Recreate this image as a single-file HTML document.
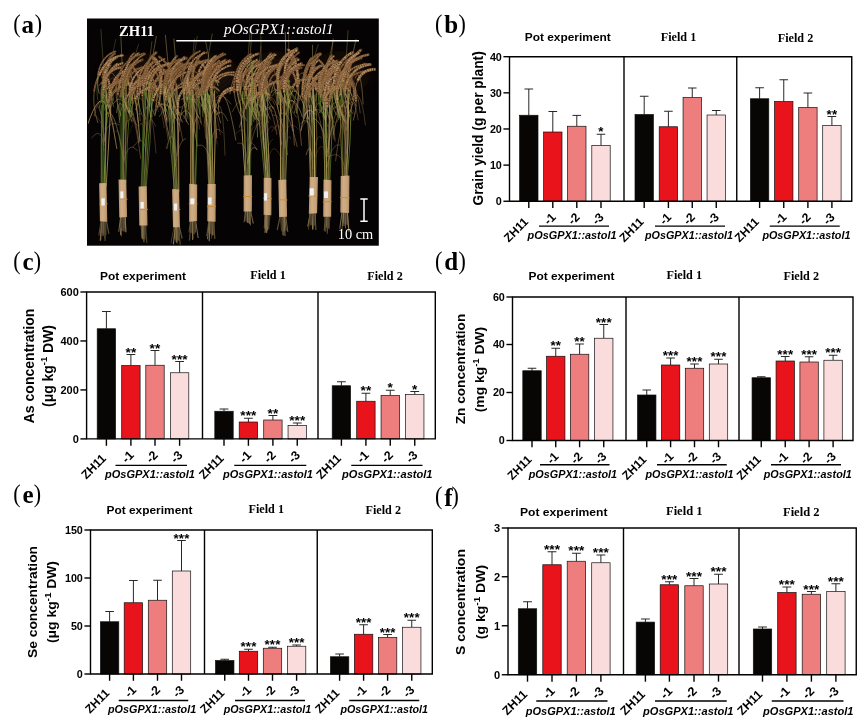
<!DOCTYPE html>
<html><head><meta charset="utf-8"><title>Figure</title>
<style>html,body{margin:0;padding:0;background:#fff}body{width:864px;height:727px;overflow:hidden;font-family:"Liberation Sans",sans-serif}svg{display:block;will-change:transform}</style>
</head><body>
<svg width="864" height="727" viewBox="0 0 864 727">
<rect width="864" height="727" fill="#fff"/>
<g id="photo"><rect x="87.0" y="18.5" width="291.8" height="227.2" fill="#050303"/>
<defs><filter id="sb" x="0" y="0" width="100%" height="100%" filterUnits="objectBoundingBox"><feGaussianBlur stdDeviation=".45"/></filter><filter id="hz" x="-30%" y="-30%" width="160%" height="160%"><feGaussianBlur stdDeviation="7"/></filter><linearGradient id="wg" x1="0" x2="1" y1="0" y2="0"><stop offset="0" stop-color="#b6936b"/><stop offset=".35" stop-color="#d0ad84"/><stop offset=".75" stop-color="#c7a379"/><stop offset="1" stop-color="#a9875f"/></linearGradient></defs>
<clipPath id="pc"><rect x="87.0" y="18.5" width="291.8" height="227.2"/></clipPath>
<g clip-path="url(#pc)"><g fill="none" stroke-linecap="round" filter="url(#sb)">
<ellipse cx="140" cy="76" rx="34" ry="20" fill="#3a2612" opacity=".4" filter="url(#hz)"/>
<ellipse cx="205" cy="76" rx="34" ry="20" fill="#3a2612" opacity=".4" filter="url(#hz)"/>
<ellipse cx="275" cy="74" rx="30" ry="20" fill="#3a2612" opacity=".4" filter="url(#hz)"/>
<ellipse cx="340" cy="74" rx="28" ry="20" fill="#3a2612" opacity=".4" filter="url(#hz)"/>
<path d="M104.3 129.4Q100.4 106.5 97.8 101.2" stroke="#b99064" stroke-width="0.5" opacity="0.5"/>
<path d="M104.2 135.1Q102.1 118.7 94 114.6" stroke="#a67a50" stroke-width="0.6" opacity="0.5"/>
<path d="M104.1 145.1Q102.4 109.6 97.6 106" stroke="#c9b070" stroke-width="0.6" opacity="0.6"/>
<path d="M104 150.9Q102.7 124 91.6 138" stroke="#b59a5a" stroke-width="0.6" opacity="0.6"/>
<path d="M104.1 141.9Q106 117.4 119.4 125" stroke="#b48a62" stroke-width="0.5" opacity="0.7"/>
<path d="M104.1 141.5Q107.2 111.4 113 101.7" stroke="#b48a62" stroke-width="0.5" opacity="0.8"/>
<path d="M101 186.3Q101.6 145.7 101.8 105.1" stroke="#9a8446" stroke-width="0.8" opacity="0.7"/>
<path d="M101.7 186.3Q100.4 145.8 102.2 105.3" stroke="#628a2a" stroke-width="1" opacity="0.6"/>
<path d="M102.5 186.3Q103.9 134.2 102.7 82.2" stroke="#47721f" stroke-width="1.1" opacity="0.7"/>
<path d="M103.2 186.3Q103.1 139 103.1 91.7" stroke="#86993e" stroke-width="0.7" opacity="0.6"/>
<path d="M104 186.3Q105.2 145.6 106.7 105" stroke="#729434" stroke-width="1.1" opacity="0.9"/>
<path d="M104.7 186.3Q106.9 142.2 106 98" stroke="#c9b070" stroke-width="0.6" opacity="0.6"/>
<path d="M105.5 186.3Q104.8 136.3 106.7 86.2" stroke="#729434" stroke-width="0.9" opacity="0.7"/>
<path d="M106.2 186.3Q109 138 111.7 89.7" stroke="#b59a5a" stroke-width="0.9" opacity="0.9"/>
<path d="M108.2 107Q107.6 73.1 115.8 39.2" stroke="#a89058" stroke-width="0.4" opacity=".7"/>
<path d="M105.7 107Q103.9 68.2 100.9 29.3" stroke="#c9b070" stroke-width="0.4" opacity=".7"/>
<path d="M107.8 74.6Q111.9 68.3 117.5 80.9" stroke="#a89058" stroke-width="0.8" opacity="0.6"/>
<path d="M101.9 85.6Q108.2 79.1 115.1 139.5" stroke="#855a36" stroke-width="0.7" opacity="0.5"/>
<path d="M99.3 85.4Q105.7 71.4 112.9 100.7" stroke="#b99064" stroke-width="0.7" opacity="0.7"/>
<path d="M113.1 104.1Q123 87.9 132 122.2" stroke="#9c6e44" stroke-width="1" opacity="0.6"/>
<path d="M101.4 94.4Q106.7 86.5 116.8 148.6" stroke="#a89058" stroke-width="0.9" opacity="0.8"/>
<path d="M110.2 80.2Q116.6 65.7 128.5 124.7" stroke="#855a36" stroke-width="0.6" opacity="0.7"/>
<path d="M113.9 90.1Q123.8 72.7 129.4 106.1" stroke="#a89058" stroke-width="0.7" opacity="0.6"/>
<path d="M105.8 114.3Q114.7 103.1 123.2 159.3" stroke="#c9b070" stroke-width="0.9" opacity="0.5"/>
<path d="M104.2 102Q97.9 94.7 88 123.6" stroke="#b48a62" stroke-width="1" opacity="0.8"/>
<path d="M105.5 103.5Q97.4 96.2 94.1 116" stroke="#855a36" stroke-width="0.9" opacity="0.6"/>
<path d="M103.3 108.6C102.7 105.3 102.4 101.9 102.4 98.6" stroke="#557f26" stroke-width=".6" opacity=".85"/>
<path d="M102.4 98.6C102.4 90.3 104 82.7 106.7 78.7" stroke="#6e4e2c" stroke-width="2.5" opacity=".7" stroke-linecap="round" stroke-dasharray="4.7 1.1 4.5 0.4"/>
<path d="M102.4 98.6C102.4 90.3 104 82.7 106.7 78.7" stroke="#946a46" stroke-width="1.9" stroke-dasharray="1 0.8 2.2 0.5 1.1 1.3" opacity=".95" stroke-linecap="butt"/>
<path d="M102.4 98.6C102.4 90.3 104 82.7 106.7 78.7" stroke="#c4a27c" stroke-width="0.8" stroke-dasharray="1.3 1.2" opacity=".6" stroke-linecap="butt" transform="translate(-0.1 -0.2)"/>
<path d="M106.1 108C107.6 104.5 108.7 101 109.3 97.5" stroke="#a89058" stroke-width=".6" opacity=".85"/>
<path d="M109.3 97.5C110.8 88.7 109.5 80.5 105.6 75.9" stroke="#5e4226" stroke-width="2.7" opacity=".7" stroke-linecap="round" stroke-dasharray="6.1 0.4 2.4 0.7"/>
<path d="M109.3 97.5C110.8 88.7 109.5 80.5 105.6 75.9" stroke="#ad8256" stroke-width="2" stroke-dasharray="1.4 0.7 1.8 0.6 1.3 0.6" opacity=".95" stroke-linecap="butt"/>
<path d="M109.3 97.5C110.8 88.7 109.5 80.5 105.6 75.9" stroke="#c4a27c" stroke-width="0.8" stroke-dasharray="0.8 1.1" opacity=".6" stroke-linecap="butt" transform="translate(0.4 -0.2)"/>
<path d="M105 110.6C103.2 105.3 102.3 99.9 102.2 94.8" stroke="#557f26" stroke-width=".6" opacity=".85"/>
<path d="M102.2 94.8C102.1 85.4 104.7 77.2 109.5 72.8" stroke="#66482a" stroke-width="2.1" opacity=".7" stroke-linecap="round" stroke-dasharray="5 0.5 3.6 0.9"/>
<path d="M102.2 94.8C102.1 85.4 104.7 77.2 109.5 72.8" stroke="#946a46" stroke-width="1.5" stroke-dasharray="1.7 1.1 1.3 0.6 1 0.9" opacity=".95" stroke-linecap="butt"/>
<path d="M102.2 94.8C102.1 85.4 104.7 77.2 109.5 72.8" stroke="#bc9872" stroke-width="0.6" stroke-dasharray="0.7 1" opacity=".6" stroke-linecap="butt" transform="translate(-0.6 -0.1)"/>
<path d="M110.2 112.1C107.3 103.6 105.8 94.9 105.6 86.7" stroke="#a89058" stroke-width=".6" opacity=".85"/>
<path d="M105.6 86.7C105.4 74.7 108 64.1 113 57.9" stroke="#5e4226" stroke-width="2" opacity=".7" stroke-linecap="round" stroke-dasharray="4.6 0.7 5 0.9"/>
<path d="M105.6 86.7C105.4 74.7 108 64.1 113 57.9" stroke="#855a36" stroke-width="1.5" stroke-dasharray="1.5 1.2 1.6 0.6 0.9 0.6" opacity=".95" stroke-linecap="butt"/>
<path d="M105.6 86.7C105.4 74.7 108 64.1 113 57.9" stroke="#bc9872" stroke-width="0.6" stroke-dasharray="0.6 1.4" opacity=".6" stroke-linecap="butt" transform="translate(-0.1 -0.8)"/>
<path d="M97.8 122.5C94.1 111.4 93 100.6 94.3 91" stroke="#b59a5a" stroke-width=".6" opacity=".85"/>
<path d="M94.3 91C96.1 77.5 102.5 66.7 112.2 61.4" stroke="#785632" stroke-width="1.8" opacity=".7" stroke-linecap="round" stroke-dasharray="3.2 1 2.8 0.4"/>
<path d="M94.3 91C96.1 77.5 102.5 66.7 112.2 61.4" stroke="#7a5230" stroke-width="1.4" stroke-dasharray="1.6 0.9 2.5 0.5 1.1 1" opacity=".95" stroke-linecap="butt"/>
<path d="M94.3 91C96.1 77.5 102.5 66.7 112.2 61.4" stroke="#b48e68" stroke-width="0.5" stroke-dasharray="1.2 0.9" opacity=".6" stroke-linecap="butt" transform="translate(-0.6 -0)"/>
<path d="M108.7 116.7C105.5 108.7 103.8 100.5 103.4 92.9" stroke="#b59a5a" stroke-width=".6" opacity=".85"/>
<path d="M103.4 92.9C102.9 81.4 105.3 71.2 110.4 65.2" stroke="#5e4226" stroke-width="2" opacity=".7" stroke-linecap="round" stroke-dasharray="4.8 0.6 3.7 0.9"/>
<path d="M103.4 92.9C102.9 81.4 105.3 71.2 110.4 65.2" stroke="#946a46" stroke-width="1.5" stroke-dasharray="1.4 0.4 2.1 0.9 1.5 0.7" opacity=".95" stroke-linecap="butt"/>
<path d="M103.4 92.9C102.9 81.4 105.3 71.2 110.4 65.2" stroke="#caa884" stroke-width="0.6" stroke-dasharray="0.8 1.1" opacity=".6" stroke-linecap="butt" transform="translate(-0.3 0)"/>
<path d="M103.2 91.6C102.3 86.9 102.2 82.2 102.5 77.8" stroke="#557f26" stroke-width=".6" opacity=".85"/>
<path d="M102.5 77.8C103.5 66.7 108.1 57.4 114.9 53.6" stroke="#6e4e2c" stroke-width="2.4" opacity=".7" stroke-linecap="round" stroke-dasharray="5.1 0.5 3.3 0.8"/>
<path d="M102.5 77.8C103.5 66.7 108.1 57.4 114.9 53.6" stroke="#7a5230" stroke-width="1.8" stroke-dasharray="1.5 0.8 2.4 0.9 0.9 0.7" opacity=".95" stroke-linecap="butt"/>
<path d="M102.5 77.8C103.5 66.7 108.1 57.4 114.9 53.6" stroke="#caa884" stroke-width="0.7" stroke-dasharray="0.9 1.6" opacity=".6" stroke-linecap="butt" transform="translate(0.3 -0.1)"/>
<path d="M99.1 93.3C97.5 86.8 97.2 80.7 98 75.2" stroke="#c9b070" stroke-width=".6" opacity=".85"/>
<path d="M98 75.2C99.6 63.2 106.1 54.2 115.7 51.3" stroke="#66482a" stroke-width="1.8" opacity=".7" stroke-linecap="round" stroke-dasharray="6.5 0.9 2.8 0.5"/>
<path d="M98 75.2C99.6 63.2 106.1 54.2 115.7 51.3" stroke="#946a46" stroke-width="1.3" stroke-dasharray="0.8 0.5 1.4 0.3 0.9 0.8" opacity=".95" stroke-linecap="butt"/>
<path d="M98 75.2C99.6 63.2 106.1 54.2 115.7 51.3" stroke="#bc9872" stroke-width="0.5" stroke-dasharray="0.8 1.8" opacity=".6" stroke-linecap="butt" transform="translate(-0.3 -0.4)"/>
<path d="M106.2 97.4C104.5 92.4 103.7 87.5 103.7 82.9" stroke="#9a8446" stroke-width=".6" opacity=".85"/>
<path d="M103.7 82.9C103.7 71 108.6 61.2 116.9 57.3" stroke="#6e4e2c" stroke-width="2.8" opacity=".7" stroke-linecap="round" stroke-dasharray="4.6 0.3 2.1 0.5"/>
<path d="M103.7 82.9C103.7 71 108.6 61.2 116.9 57.3" stroke="#b99064" stroke-width="2.1" stroke-dasharray="0.9 1.2 2.4 0.4 1.4 1.2" opacity=".95" stroke-linecap="butt"/>
<path d="M103.7 82.9C103.7 71 108.6 61.2 116.9 57.3" stroke="#b48e68" stroke-width="0.8" stroke-dasharray="1.2 1.5" opacity=".6" stroke-linecap="butt" transform="translate(-0 -0.5)"/>
<path d="M110.2 107.4C107 100.4 105.6 93.4 105.7 87" stroke="#c0a868" stroke-width=".6" opacity=".85"/>
<path d="M105.7 87C105.8 76.6 110.1 67.9 117.7 63.5" stroke="#5e4226" stroke-width="1.9" opacity=".7" stroke-linecap="round" stroke-dasharray="6.3 0.8 4.7 0.8"/>
<path d="M105.7 87C105.8 76.6 110.1 67.9 117.7 63.5" stroke="#b99064" stroke-width="1.4" stroke-dasharray="0.9 0.4 2 0.9 0.9 0.9" opacity=".95" stroke-linecap="butt"/>
<path d="M105.7 87C105.8 76.6 110.1 67.9 117.7 63.5" stroke="#c4a27c" stroke-width="0.6" stroke-dasharray="1.1 1.4" opacity=".6" stroke-linecap="butt" transform="translate(0.3 -0.3)"/>
<path d="M106.2 108.1C104.2 101.8 103.5 95.7 103.8 90.2" stroke="#557f26" stroke-width=".6" opacity=".85"/>
<path d="M103.8 90.2C104.6 76.6 111.7 66.2 122.8 63" stroke="#5e4226" stroke-width="2.3" opacity=".7" stroke-linecap="round" stroke-dasharray="6.4 0.5 4.3 0.5"/>
<path d="M103.8 90.2C104.6 76.6 111.7 66.2 122.8 63" stroke="#b48a62" stroke-width="1.7" stroke-dasharray="1.3 0.7 1.8 0.7 1.3 1.1" opacity=".95" stroke-linecap="butt"/>
<path d="M103.8 90.2C104.6 76.6 111.7 66.2 122.8 63" stroke="#caa884" stroke-width="0.7" stroke-dasharray="0.7 0.9" opacity=".6" stroke-linecap="butt" transform="translate(-0.3 0)"/>
<path d="M97.8 99.6C96.3 90.4 97 82 99.4 75.1" stroke="#557f26" stroke-width=".6" opacity=".85"/>
<path d="M99.4 75.1C103.3 63.7 111.9 56.3 123 55.3" stroke="#785632" stroke-width="2.3" opacity=".7" stroke-linecap="round" stroke-dasharray="4.9 0.7 2.4 0.9"/>
<path d="M99.4 75.1C103.3 63.7 111.9 56.3 123 55.3" stroke="#b99064" stroke-width="1.8" stroke-dasharray="1.1 0.5 1.8 0.5 0.7 1" opacity=".95" stroke-linecap="butt"/>
<path d="M99.4 75.1C103.3 63.7 111.9 56.3 123 55.3" stroke="#b48e68" stroke-width="0.7" stroke-dasharray="1.4 1.2" opacity=".6" stroke-linecap="butt" transform="translate(0.6 0.2)"/>
<path d="M101.6 102.5C100.3 95.5 100.7 89.1 102.4 83.7" stroke="#9a8446" stroke-width=".6" opacity=".85"/>
<path d="M102.4 83.7C105.3 74.6 111.9 68.5 120.6 67.5" stroke="#785632" stroke-width="2.9" opacity=".7" stroke-linecap="round" stroke-dasharray="3.9 1.1 3.5 0.3"/>
<path d="M102.4 83.7C105.3 74.6 111.9 68.5 120.6 67.5" stroke="#9c6e44" stroke-width="2.1" stroke-dasharray="1.7 0.9 1.6 0.7 1 0.8" opacity=".95" stroke-linecap="butt"/>
<path d="M102.4 83.7C105.3 74.6 111.9 68.5 120.6 67.5" stroke="#c4a27c" stroke-width="0.9" stroke-dasharray="1.3 0.8" opacity=".6" stroke-linecap="butt" transform="translate(0.4 0.1)"/>
<path d="M113.7 100.3C112.6 95.1 112.6 90.3 113.5 86.1" stroke="#729434" stroke-width=".6" opacity=".85"/>
<path d="M113.5 86.1C115.3 77.7 120.5 71.7 127.8 70.2" stroke="#785632" stroke-width="2.5" opacity=".7" stroke-linecap="round" stroke-dasharray="6.7 1 4.6 0.5"/>
<path d="M113.5 86.1C115.3 77.7 120.5 71.7 127.8 70.2" stroke="#9c6e44" stroke-width="1.8" stroke-dasharray="1.6 0.6 2.5 0.4 0.8 1" opacity=".95" stroke-linecap="butt"/>
<path d="M113.5 86.1C115.3 77.7 120.5 71.7 127.8 70.2" stroke="#caa884" stroke-width="0.7" stroke-dasharray="1.2 1.6" opacity=".6" stroke-linecap="butt" transform="translate(-0.1 -0.8)"/>
<path d="M107.1 97.5C108 92.5 109.9 88.3 112.4 85.1" stroke="#a89058" stroke-width=".6" opacity=".85"/>
<path d="M112.4 85.1C116.1 80.5 121 78.1 126 78.7" stroke="#6e4e2c" stroke-width="2.3" opacity=".7" stroke-linecap="round" stroke-dasharray="5.6 0.6 2.1 0.9"/>
<path d="M112.4 85.1C116.1 80.5 121 78.1 126 78.7" stroke="#855a36" stroke-width="1.7" stroke-dasharray="1 0.7 1.5 0.5 1.3 1.1" opacity=".95" stroke-linecap="butt"/>
<path d="M112.4 85.1C116.1 80.5 121 78.1 126 78.7" stroke="#b48e68" stroke-width="0.7" stroke-dasharray="1.1 1.1" opacity=".6" stroke-linecap="butt" transform="translate(0.1 -0.4)"/>
<path d="M113.8 106.9C111.3 100.1 110.7 93.6 111.6 88" stroke="#729434" stroke-width=".6" opacity=".85"/>
<path d="M111.6 88C113 79.8 117.7 73.5 124.8 71.1" stroke="#6e4e2c" stroke-width="2.3" opacity=".7" stroke-linecap="round" stroke-dasharray="5.2 0.5 2.5 0.7"/>
<path d="M111.6 88C113 79.8 117.7 73.5 124.8 71.1" stroke="#a67a50" stroke-width="1.7" stroke-dasharray="1 0.6 1.9 0.8 1.3 0.9" opacity=".95" stroke-linecap="butt"/>
<path d="M111.6 88C113 79.8 117.7 73.5 124.8 71.1" stroke="#b48e68" stroke-width="0.7" stroke-dasharray="1.2 1" opacity=".6" stroke-linecap="butt" transform="translate(-0.3 0)"/>
<path d="M109.6 107.9C108.4 100.8 109 94.6 111.1 89.9" stroke="#b59a5a" stroke-width=".6" opacity=".85"/>
<path d="M111.1 89.9C114.3 82.7 120.8 78.8 129.1 79.5" stroke="#6e4e2c" stroke-width="2.1" opacity=".7" stroke-linecap="round" stroke-dasharray="4.5 0.9 3.3 0.5"/>
<path d="M111.1 89.9C114.3 82.7 120.8 78.8 129.1 79.5" stroke="#9c6e44" stroke-width="1.5" stroke-dasharray="0.9 0.7 2.2 0.8 1.5 0.9" opacity=".95" stroke-linecap="butt"/>
<path d="M111.1 89.9C114.3 82.7 120.8 78.8 129.1 79.5" stroke="#c4a27c" stroke-width="0.6" stroke-dasharray="0.9 1.7" opacity=".6" stroke-linecap="butt" transform="translate(0.5 0.1)"/>
<path d="M99.5 107.7C100.4 99.6 103 93.2 106.8 88.9" stroke="#557f26" stroke-width=".6" opacity=".85"/>
<path d="M106.8 88.9C112.2 82.7 120 80.8 128.3 84" stroke="#66482a" stroke-width="2.6" opacity=".7" stroke-linecap="round" stroke-dasharray="3.3 1 2 0.4"/>
<path d="M106.8 88.9C112.2 82.7 120 80.8 128.3 84" stroke="#9c6e44" stroke-width="2" stroke-dasharray="1.4 0.6 1.2 0.5 1.2 1.1" opacity=".95" stroke-linecap="butt"/>
<path d="M106.8 88.9C112.2 82.7 120 80.8 128.3 84" stroke="#c4a27c" stroke-width="0.8" stroke-dasharray="0.7 1.1" opacity=".6" stroke-linecap="butt" transform="translate(0.6 -0.6)"/>
<path d="M106.8 122.9C105.9 115.4 106.4 108.7 108.2 103" stroke="#729434" stroke-width=".6" opacity=".85"/>
<path d="M108.2 103C111.8 91.2 120.8 84 132.4 84.1" stroke="#66482a" stroke-width="2.8" opacity=".7" stroke-linecap="round" stroke-dasharray="5.1 0.8 2.1 0.6"/>
<path d="M108.2 103C111.8 91.2 120.8 84 132.4 84.1" stroke="#946a46" stroke-width="2.1" stroke-dasharray="0.9 0.6 2.4 0.7 0.7 0.7" opacity=".95" stroke-linecap="butt"/>
<path d="M108.2 103C111.8 91.2 120.8 84 132.4 84.1" stroke="#b48e68" stroke-width="0.9" stroke-dasharray="1.3 1" opacity=".6" stroke-linecap="butt" transform="translate(-0.7 -0.4)"/>
<path d="M100.7 220.7L106.5 220.7L106.5 235.4L101.7 233Z" fill="#4d402b" opacity=".9"/>
<path d="M104.9 220.7L105.1 240.4" stroke="#4f4430" stroke-width="1.3"/>
<path d="M101.9 220.7L100.6 239.7" stroke="#6b5a3c" stroke-width="1.4"/>
<path d="M103.6 220.7L103 235.5" stroke="#6b5a3c" stroke-width="1.4"/>
<path d="M101.6 220.7L100.2 240.5" stroke="#7d6a45" stroke-width="1"/>
<path d="M104.8 220.7L104.9 238.1" stroke="#4f4430" stroke-width="1.2"/>
<path d="M106.4 220.7L108.8 233.4" stroke="#5a4c34" stroke-width="1.2"/>
<path d="M101 220.7L98.9 235.1" stroke="#4f4430" stroke-width="1.1"/>
<path d="M99.1 183.3L106.5 182.9L107.3 221.7L99.9 221.3Z" fill="url(#wg)" stroke="none"/>
<path d="M99.9 204.4L107.3 203.8" stroke="#c98a2e" stroke-width=".9"/>
<rect x="101.3" y="198.3" width="3.5" height="7.2" fill="#eef0f2" stroke="none"/>
<path d="M124.4 128.5Q127.6 112.2 137.4 125.5" stroke="#9c6e44" stroke-width="0.5" opacity="0.8"/>
<path d="M124.8 111.8Q128.1 92.1 137 99.9" stroke="#b48a62" stroke-width="0.8" opacity="0.5"/>
<path d="M123.8 154.8Q128.5 132.6 133.1 123.8" stroke="#7a5230" stroke-width="0.5" opacity="0.5"/>
<path d="M124.8 110.2Q119.1 95.3 116.5 112.6" stroke="#ad8256" stroke-width="0.7" opacity="0.8"/>
<path d="M123.7 158.9Q118.6 124.4 115.9 131.5" stroke="#b48a62" stroke-width="0.5" opacity="0.5"/>
<path d="M123.6 161.7Q128.4 139.5 137.4 150.8" stroke="#a89058" stroke-width="0.6" opacity="0.7"/>
<path d="M120.6 182.6Q120.1 142.8 120.2 103" stroke="#557f26" stroke-width="0.8" opacity="0.6"/>
<path d="M121.3 182.6Q121.7 135.9 122.5 89.3" stroke="#47721f" stroke-width="0.9" opacity="0.9"/>
<path d="M122.1 182.6Q123.8 135.1 123.4 87.7" stroke="#9a8446" stroke-width="0.8" opacity="0.7"/>
<path d="M122.8 182.6Q123 142.3 125.2 102" stroke="#729434" stroke-width="0.8" opacity="0.9"/>
<path d="M123.6 182.6Q122.6 141.7 123.7 100.7" stroke="#628a2a" stroke-width="1.1" opacity="0.8"/>
<path d="M124.3 182.6Q126.6 138.9 126.3 95.1" stroke="#9a8446" stroke-width="0.6" opacity="0.7"/>
<path d="M125.1 182.6Q125.9 132.6 126.1 82.7" stroke="#9a8446" stroke-width="0.9" opacity="0.6"/>
<path d="M125.8 182.6Q126.6 136.5 131.4 90.4" stroke="#628a2a" stroke-width="1" opacity="0.6"/>
<path d="M123.8 107Q122.4 69.5 120.7 32.1" stroke="#c0a868" stroke-width="0.6" opacity=".7"/>
<path d="M128.2 107Q127.7 75.7 138.5 44.4" stroke="#9a8446" stroke-width="0.5" opacity=".7"/>
<path d="M123.2 79.2Q130 73.3 133.1 103.9" stroke="#b99064" stroke-width="0.6" opacity="0.7"/>
<path d="M129 87.9Q134.9 79.2 139.9 140.6" stroke="#c0a868" stroke-width="0.9" opacity="0.8"/>
<path d="M124.9 70.8Q132.5 60.7 138.5 122.9" stroke="#ad8256" stroke-width="1" opacity="0.6"/>
<path d="M131.8 88.3Q138.1 81.2 140.2 120.9" stroke="#a67a50" stroke-width="0.9" opacity="0.6"/>
<path d="M127.6 111.7Q134.2 104.8 139 142.8" stroke="#c9b070" stroke-width="0.6" opacity="0.7"/>
<path d="M131.6 113.5Q126.5 97.6 124 164.1" stroke="#9c6e44" stroke-width="0.5" opacity="0.8"/>
<path d="M124.5 110.7Q132.3 94.1 140.7 158.5" stroke="#946a46" stroke-width="0.7" opacity="0.8"/>
<path d="M132 78.2Q128.7 61 125.1 101.2" stroke="#9a8446" stroke-width="0.6" opacity="0.8"/>
<path d="M133.2 71.8Q142.1 58.1 150.7 93.1" stroke="#ad8256" stroke-width="0.8" opacity="0.7"/>
<path d="M128.6 83.8Q133.7 75.5 139.6 107.2" stroke="#b99064" stroke-width="0.7" opacity="0.5"/>
<path d="M131.4 116C132.3 110.8 132.6 105.6 132.4 100.6" stroke="#a89058" stroke-width=".6" opacity=".85"/>
<path d="M132.4 100.6C131.8 89.4 128.4 79.5 123.3 74.5" stroke="#5e4226" stroke-width="2.2" opacity=".7" stroke-linecap="round" stroke-dasharray="3.5 0.7 2.3 0.6"/>
<path d="M132.4 100.6C131.8 89.4 128.4 79.5 123.3 74.5" stroke="#9c6e44" stroke-width="1.7" stroke-dasharray="0.8 0.5 2.5 0.5 1.2 0.6" opacity=".95" stroke-linecap="butt"/>
<path d="M132.4 100.6C131.8 89.4 128.4 79.5 123.3 74.5" stroke="#b48e68" stroke-width="0.7" stroke-dasharray="1.1 1.6" opacity=".6" stroke-linecap="butt" transform="translate(-0.7 -0.7)"/>
<path d="M119.4 119.3C117.7 111 117.3 102.5 117.9 94.7" stroke="#729434" stroke-width=".6" opacity=".85"/>
<path d="M117.9 94.7C118.9 82.6 122.4 72.2 127.8 66.5" stroke="#6e4e2c" stroke-width="1.9" opacity=".7" stroke-linecap="round" stroke-dasharray="3.3 0.6 4.3 0.4"/>
<path d="M117.9 94.7C118.9 82.6 122.4 72.2 127.8 66.5" stroke="#946a46" stroke-width="1.4" stroke-dasharray="1.7 0.8 1.4 0.9 1 1" opacity=".95" stroke-linecap="butt"/>
<path d="M117.9 94.7C118.9 82.6 122.4 72.2 127.8 66.5" stroke="#caa884" stroke-width="0.6" stroke-dasharray="0.9 0.8" opacity=".6" stroke-linecap="butt" transform="translate(-0.4 -0.6)"/>
<path d="M120.1 116.1C119.4 109.6 119.6 103 120.5 96.9" stroke="#557f26" stroke-width=".6" opacity=".85"/>
<path d="M120.5 96.9C122.1 85.8 126 76.3 131.2 71.5" stroke="#66482a" stroke-width="2.8" opacity=".7" stroke-linecap="round" stroke-dasharray="5.2 0.8 4.6 0.4"/>
<path d="M120.5 96.9C122.1 85.8 126 76.3 131.2 71.5" stroke="#7a5230" stroke-width="2.1" stroke-dasharray="1.5 0.7 1.6 0.5 0.7 0.8" opacity=".95" stroke-linecap="butt"/>
<path d="M120.5 96.9C122.1 85.8 126 76.3 131.2 71.5" stroke="#c4a27c" stroke-width="0.8" stroke-dasharray="1 1" opacity=".6" stroke-linecap="butt" transform="translate(0.3 -0.7)"/>
<path d="M135.6 109.7C138.1 103.9 139.5 98 139.9 92.3" stroke="#b59a5a" stroke-width=".6" opacity=".85"/>
<path d="M139.9 92.3C140.8 80.6 137.3 70.3 130.4 65" stroke="#6e4e2c" stroke-width="2.7" opacity=".7" stroke-linecap="round" stroke-dasharray="3.6 0.9 3.3 0.7"/>
<path d="M139.9 92.3C140.8 80.6 137.3 70.3 130.4 65" stroke="#9c6e44" stroke-width="2" stroke-dasharray="0.9 0.6 2 0.3 0.6 0.8" opacity=".95" stroke-linecap="butt"/>
<path d="M139.9 92.3C140.8 80.6 137.3 70.3 130.4 65" stroke="#c4a27c" stroke-width="0.8" stroke-dasharray="1 1.3" opacity=".6" stroke-linecap="butt" transform="translate(-0.1 -0.5)"/>
<path d="M119.9 91.5C119.4 86.8 119.9 82.5 121.1 78.7" stroke="#a89058" stroke-width=".6" opacity=".85"/>
<path d="M121.1 78.7C123.1 72.6 127 68.2 132 66.8" stroke="#6e4e2c" stroke-width="1.8" opacity=".7" stroke-linecap="round" stroke-dasharray="6.5 1 3.2 0.5"/>
<path d="M121.1 78.7C123.1 72.6 127 68.2 132 66.8" stroke="#9c6e44" stroke-width="1.4" stroke-dasharray="0.9 1.1 2.4 0.7 1.1 1" opacity=".95" stroke-linecap="butt"/>
<path d="M121.1 78.7C123.1 72.6 127 68.2 132 66.8" stroke="#b48e68" stroke-width="0.5" stroke-dasharray="0.8 1.7" opacity=".6" stroke-linecap="butt" transform="translate(-0.6 -0.2)"/>
<path d="M131.7 91.4C128.6 85.2 127 78.9 126.8 73.1" stroke="#c9b070" stroke-width=".6" opacity=".85"/>
<path d="M126.8 73.1C126.5 64.8 129 57.5 134 53.3" stroke="#66482a" stroke-width="2.2" opacity=".7" stroke-linecap="round" stroke-dasharray="6.3 0.5 2.9 0.5"/>
<path d="M126.8 73.1C126.5 64.8 129 57.5 134 53.3" stroke="#9c6e44" stroke-width="1.7" stroke-dasharray="1.8 1 1.8 0.6 0.9 0.9" opacity=".95" stroke-linecap="butt"/>
<path d="M126.8 73.1C126.5 64.8 129 57.5 134 53.3" stroke="#b48e68" stroke-width="0.7" stroke-dasharray="0.7 1.5" opacity=".6" stroke-linecap="butt" transform="translate(-0.5 0.3)"/>
<path d="M133.8 120.6C128.5 112.1 125.1 103.4 123.6 95.1" stroke="#b59a5a" stroke-width=".6" opacity=".85"/>
<path d="M123.6 95.1C120.3 77.3 125.8 61.5 138.7 53.1" stroke="#66482a" stroke-width="2" opacity=".7" stroke-linecap="round" stroke-dasharray="5.7 1.1 4.9 0.5"/>
<path d="M123.6 95.1C120.3 77.3 125.8 61.5 138.7 53.1" stroke="#b99064" stroke-width="1.5" stroke-dasharray="0.9 0.8 1.3 0.8 1.4 0.7" opacity=".95" stroke-linecap="butt"/>
<path d="M123.6 95.1C120.3 77.3 125.8 61.5 138.7 53.1" stroke="#caa884" stroke-width="0.6" stroke-dasharray="1.2 1.1" opacity=".6" stroke-linecap="butt" transform="translate(0.5 -0.4)"/>
<path d="M130.1 112.3C126.3 104.1 124.6 96.1 124.7 88.9" stroke="#729434" stroke-width=".6" opacity=".85"/>
<path d="M124.7 88.9C124.8 75.2 131.3 64.2 142.6 59.6" stroke="#5e4226" stroke-width="2.4" opacity=".7" stroke-linecap="round" stroke-dasharray="6.4 0.7 4.2 0.7"/>
<path d="M124.7 88.9C124.8 75.2 131.3 64.2 142.6 59.6" stroke="#946a46" stroke-width="1.8" stroke-dasharray="1.6 0.7 1.9 0.6 0.8 0.5" opacity=".95" stroke-linecap="butt"/>
<path d="M124.7 88.9C124.8 75.2 131.3 64.2 142.6 59.6" stroke="#c4a27c" stroke-width="0.7" stroke-dasharray="0.7 1.7" opacity=".6" stroke-linecap="butt" transform="translate(-0.2 -0.6)"/>
<path d="M128.9 113.3C125.8 106.8 123.9 100.3 123.2 94.1" stroke="#c0a868" stroke-width=".6" opacity=".85"/>
<path d="M123.2 94.1C121.5 79.1 127 66.2 138.1 60.4" stroke="#6e4e2c" stroke-width="2.7" opacity=".7" stroke-linecap="round" stroke-dasharray="6.3 1 4.7 0.3"/>
<path d="M123.2 94.1C121.5 79.1 127 66.2 138.1 60.4" stroke="#7a5230" stroke-width="2" stroke-dasharray="0.9 0.6 1.2 0.3 1.4 1.2" opacity=".95" stroke-linecap="butt"/>
<path d="M123.2 94.1C121.5 79.1 127 66.2 138.1 60.4" stroke="#c4a27c" stroke-width="0.8" stroke-dasharray="1.3 1.4" opacity=".6" stroke-linecap="butt" transform="translate(-0.3 -0.7)"/>
<path d="M123 104.6C122.4 97.1 123.1 89.9 124.6 83.4" stroke="#9a8446" stroke-width=".6" opacity=".85"/>
<path d="M124.6 83.4C127.9 69.2 135.6 58.1 145.2 54.1" stroke="#785632" stroke-width="1.8" opacity=".7" stroke-linecap="round" stroke-dasharray="6.6 1 3.8 0.6"/>
<path d="M124.6 83.4C127.9 69.2 135.6 58.1 145.2 54.1" stroke="#946a46" stroke-width="1.3" stroke-dasharray="1.4 0.4 1.7 0.6 1.3 0.8" opacity=".95" stroke-linecap="butt"/>
<path d="M124.6 83.4C127.9 69.2 135.6 58.1 145.2 54.1" stroke="#c4a27c" stroke-width="0.5" stroke-dasharray="1 1" opacity=".6" stroke-linecap="butt" transform="translate(0.5 -0.7)"/>
<path d="M120.7 115.4C117.5 106.6 116 98.2 116 90.7" stroke="#a89058" stroke-width=".6" opacity=".85"/>
<path d="M116 90.7C116.2 71.3 126.8 57 144.3 53.5" stroke="#6e4e2c" stroke-width="1.8" opacity=".7" stroke-linecap="round" stroke-dasharray="6.9 0.8 4.9 0.7"/>
<path d="M116 90.7C116.2 71.3 126.8 57 144.3 53.5" stroke="#855a36" stroke-width="1.4" stroke-dasharray="1.1 0.6 2.1 0.6 0.7 1.1" opacity=".95" stroke-linecap="butt"/>
<path d="M116 90.7C116.2 71.3 126.8 57 144.3 53.5" stroke="#c4a27c" stroke-width="0.5" stroke-dasharray="1 1.8" opacity=".6" stroke-linecap="butt" transform="translate(0.1 -0.7)"/>
<path d="M133.8 114.8C130.6 107.1 129.2 99.5 129.6 92.7" stroke="#9a8446" stroke-width=".6" opacity=".85"/>
<path d="M129.6 92.7C130.2 81.1 135.6 71.7 144.7 67.5" stroke="#785632" stroke-width="2" opacity=".7" stroke-linecap="round" stroke-dasharray="4.7 0.8 2.5 1"/>
<path d="M129.6 92.7C130.2 81.1 135.6 71.7 144.7 67.5" stroke="#b99064" stroke-width="1.5" stroke-dasharray="1.7 0.5 2 0.7 1.1 0.5" opacity=".95" stroke-linecap="butt"/>
<path d="M129.6 92.7C130.2 81.1 135.6 71.7 144.7 67.5" stroke="#bc9872" stroke-width="0.6" stroke-dasharray="1 1.7" opacity=".6" stroke-linecap="butt" transform="translate(-0.1 -0.2)"/>
<path d="M121.8 98.4C122.4 91.2 124.4 84.8 127.4 79.7" stroke="#557f26" stroke-width=".6" opacity=".85"/>
<path d="M127.4 79.7C132.4 71.1 140.4 66 149 66.4" stroke="#6e4e2c" stroke-width="2" opacity=".7" stroke-linecap="round" stroke-dasharray="4.1 1 4.5 0.7"/>
<path d="M127.4 79.7C132.4 71.1 140.4 66 149 66.4" stroke="#855a36" stroke-width="1.5" stroke-dasharray="1.8 1 2 0.5 0.8 1.4" opacity=".95" stroke-linecap="butt"/>
<path d="M127.4 79.7C132.4 71.1 140.4 66 149 66.4" stroke="#bc9872" stroke-width="0.6" stroke-dasharray="1.4 1.5" opacity=".6" stroke-linecap="butt" transform="translate(-0.6 0.3)"/>
<path d="M132 114.5C130.3 108 129.9 101.9 130.6 96.4" stroke="#557f26" stroke-width=".6" opacity=".85"/>
<path d="M130.6 96.4C132.2 84.1 139.3 75.1 149.8 72.7" stroke="#785632" stroke-width="2.9" opacity=".7" stroke-linecap="round" stroke-dasharray="3.8 0.6 2.1 0.6"/>
<path d="M130.6 96.4C132.2 84.1 139.3 75.1 149.8 72.7" stroke="#7a5230" stroke-width="2.2" stroke-dasharray="1.5 0.8 2 0.6 0.7 1" opacity=".95" stroke-linecap="butt"/>
<path d="M130.6 96.4C132.2 84.1 139.3 75.1 149.8 72.7" stroke="#b48e68" stroke-width="0.9" stroke-dasharray="0.6 1" opacity=".6" stroke-linecap="butt" transform="translate(0.5 -0)"/>
<path d="M129.6 111.9C128.2 103.5 128.8 96.3 131 90.5" stroke="#c0a868" stroke-width=".6" opacity=".85"/>
<path d="M131 90.5C134.8 80.6 143.2 75.1 154 75.8" stroke="#6e4e2c" stroke-width="2.8" opacity=".7" stroke-linecap="round" stroke-dasharray="5.6 0.7 2.9 0.7"/>
<path d="M131 90.5C134.8 80.6 143.2 75.1 154 75.8" stroke="#ad8256" stroke-width="2.1" stroke-dasharray="1.7 0.6 1.6 0.7 0.7 1.3" opacity=".95" stroke-linecap="butt"/>
<path d="M131 90.5C134.8 80.6 143.2 75.1 154 75.8" stroke="#b48e68" stroke-width="0.8" stroke-dasharray="1 1.4" opacity=".6" stroke-linecap="butt" transform="translate(-0.1 -0.1)"/>
<path d="M131.7 103.4C131.6 96.6 133.2 90.9 136 86.6" stroke="#b59a5a" stroke-width=".6" opacity=".85"/>
<path d="M136 86.6C139.8 80.7 145.9 77.6 152.9 78.6" stroke="#6e4e2c" stroke-width="2" opacity=".7" stroke-linecap="round" stroke-dasharray="3.6 1 4.8 0.7"/>
<path d="M136 86.6C139.8 80.7 145.9 77.6 152.9 78.6" stroke="#ad8256" stroke-width="1.5" stroke-dasharray="1.6 0.8 1.3 0.6 0.6 1.2" opacity=".95" stroke-linecap="butt"/>
<path d="M136 86.6C139.8 80.7 145.9 77.6 152.9 78.6" stroke="#bc9872" stroke-width="0.6" stroke-dasharray="1 1.2" opacity=".6" stroke-linecap="butt" transform="translate(0.6 -0.6)"/>
<path d="M119.2 122.5C119.6 114.9 121.2 108.2 123.7 102.5" stroke="#9a8446" stroke-width=".6" opacity=".85"/>
<path d="M123.7 102.5C130 88.6 141.9 81.2 155.5 83.5" stroke="#5e4226" stroke-width="2.2" opacity=".7" stroke-linecap="round" stroke-dasharray="3.1 0.7 3.3 0.8"/>
<path d="M123.7 102.5C130 88.6 141.9 81.2 155.5 83.5" stroke="#a67a50" stroke-width="1.6" stroke-dasharray="1.4 0.5 1.5 0.5 1.5 1.4" opacity=".95" stroke-linecap="butt"/>
<path d="M123.7 102.5C130 88.6 141.9 81.2 155.5 83.5" stroke="#b48e68" stroke-width="0.7" stroke-dasharray="1 1" opacity=".6" stroke-linecap="butt" transform="translate(0.6 -0.7)"/>
<path d="M130.6 117.1C130.8 110 132.4 103.9 135.2 99" stroke="#729434" stroke-width=".6" opacity=".85"/>
<path d="M135.2 99C139.7 90.9 147.3 86.5 155.8 87.4" stroke="#66482a" stroke-width="2.8" opacity=".7" stroke-linecap="round" stroke-dasharray="4.9 0.6 3.6 0.4"/>
<path d="M135.2 99C139.7 90.9 147.3 86.5 155.8 87.4" stroke="#b48a62" stroke-width="2.1" stroke-dasharray="1.2 1.1 1.4 0.5 0.8 0.9" opacity=".95" stroke-linecap="butt"/>
<path d="M135.2 99C139.7 90.9 147.3 86.5 155.8 87.4" stroke="#caa884" stroke-width="0.8" stroke-dasharray="1 1.6" opacity=".6" stroke-linecap="butt" transform="translate(0.4 -0.4)"/>
<path d="M128.7 93.7C131.6 89.7 134.7 86.8 137.9 85" stroke="#9a8446" stroke-width=".6" opacity=".85"/>
<path d="M137.9 85C145.2 80.9 152.8 82.5 157.9 89.8" stroke="#5e4226" stroke-width="2.8" opacity=".7" stroke-linecap="round" stroke-dasharray="3.3 0.8 3 1"/>
<path d="M137.9 85C145.2 80.9 152.8 82.5 157.9 89.8" stroke="#a67a50" stroke-width="2.1" stroke-dasharray="1.4 0.4 1 0.9 1.2 0.7" opacity=".95" stroke-linecap="butt"/>
<path d="M137.9 85C145.2 80.9 152.8 82.5 157.9 89.8" stroke="#c4a27c" stroke-width="0.8" stroke-dasharray="1.1 1.7" opacity=".6" stroke-linecap="butt" transform="translate(-0.4 -0.3)"/>
<path d="M120.1 216L126.3 216L125.1 232.1L120.9 230.5Z" fill="#4d402b" opacity=".9"/>
<path d="M123.8 216L125.2 227.8" stroke="#5a4c34" stroke-width="1.3"/>
<path d="M125.1 216L125.9 231.8" stroke="#8a7850" stroke-width="1.2"/>
<path d="M121.1 216L120.6 234.4" stroke="#8a7850" stroke-width="1.1"/>
<path d="M120.7 216L118.8 231.4" stroke="#8a7850" stroke-width="0.9"/>
<path d="M123.8 216L123.5 229.9" stroke="#5a4c34" stroke-width="1.1"/>
<path d="M122.1 216L121.3 236" stroke="#6b5a3c" stroke-width="0.9"/>
<path d="M122.4 216L120.9 227.4" stroke="#4f4430" stroke-width="1.3"/>
<path d="M118.5 179.6L126.3 179.7L127.1 217L119.3 217.5Z" fill="url(#wg)" stroke="none"/>
<path d="M119.3 198.9L127.1 199.2" stroke="#c98a2e" stroke-width=".9"/>
<rect x="120.3" y="191.4" width="3.1" height="7" fill="#eef0f2" stroke="none"/>
<path d="M147 130.5Q144.5 109.9 137.6 114.3" stroke="#9c6e44" stroke-width="0.7" opacity="0.6"/>
<path d="M146.4 140.2Q148 107 155.8 126.7" stroke="#a89058" stroke-width="0.5" opacity="0.6"/>
<path d="M146.1 145.2Q142.3 113.8 139.6 126.3" stroke="#b59a5a" stroke-width="0.6" opacity="0.5"/>
<path d="M148.1 112.8Q152.2 85.2 160.7 96.6" stroke="#946a46" stroke-width="0.5" opacity="0.7"/>
<path d="M145.7 151.3Q144.1 132.4 133 146.9" stroke="#9a8446" stroke-width="0.7" opacity="0.6"/>
<path d="M147.9 116Q145.6 93.7 133.7 98.5" stroke="#c0a868" stroke-width="0.5" opacity="0.5"/>
<path d="M140.8 189.5Q144.9 141 145.7 92.5" stroke="#7a922c" stroke-width="0.6" opacity="0.6"/>
<path d="M141.5 189.5Q142.7 136.8 144.3 84" stroke="#47721f" stroke-width="1" opacity="0.9"/>
<path d="M142.3 189.5Q143.7 138.6 144.7 87.8" stroke="#47721f" stroke-width="0.7" opacity="0.6"/>
<path d="M143 189.5Q143 139.7 146.1 89.9" stroke="#b59a5a" stroke-width="0.7" opacity="0.6"/>
<path d="M143.8 189.5Q145.8 141.1 148.3 92.8" stroke="#b59a5a" stroke-width="0.8" opacity="0.8"/>
<path d="M144.5 189.5Q146.2 138.8 149.6 88" stroke="#47721f" stroke-width="0.9" opacity="0.9"/>
<path d="M145.3 189.5Q147.3 139.3 153.2 89.1" stroke="#628a2a" stroke-width="1" opacity="0.8"/>
<path d="M146 189.5Q151 140.7 152.3 92" stroke="#c0a868" stroke-width="0.6" opacity="0.7"/>
<path d="M149.1 107Q147 74.3 151.9 41.5" stroke="#b59a5a" stroke-width="0.5" opacity=".7"/>
<path d="M149.7 107Q149 71.7 156.3 36.4" stroke="#a89058" stroke-width="0.7" opacity=".7"/>
<path d="M154.8 95.5Q159.8 82.4 168.3 140.6" stroke="#946a46" stroke-width="0.7" opacity="0.7"/>
<path d="M158.1 107.4Q166.9 94.8 178.7 124.7" stroke="#ad8256" stroke-width="0.8" opacity="0.7"/>
<path d="M156.7 106.3Q164.6 97.2 169.2 119.2" stroke="#b48a62" stroke-width="0.9" opacity="0.5"/>
<path d="M155.7 106.5Q159.7 88.8 169.7 138.9" stroke="#b48a62" stroke-width="1" opacity="0.6"/>
<path d="M142.9 94.9Q147.3 80.2 158.7 111.6" stroke="#946a46" stroke-width="0.5" opacity="0.6"/>
<path d="M153.5 111.7Q161.8 96.4 168.4 121.1" stroke="#b48a62" stroke-width="0.7" opacity="0.5"/>
<path d="M148.3 93.4Q157.5 81.7 164.2 127.9" stroke="#a89058" stroke-width="0.6" opacity="0.5"/>
<path d="M155.2 83Q162.2 72.8 169.3 95.5" stroke="#b59a5a" stroke-width="1" opacity="0.7"/>
<path d="M156.2 86.7Q164.7 79.7 172.7 109" stroke="#b99064" stroke-width="0.8" opacity="0.5"/>
<path d="M145 109.2Q151.4 96.8 156 153.1" stroke="#ad8256" stroke-width="0.5" opacity="0.7"/>
<path d="M156.5 101.8C157.2 97.6 157.2 93.5 156.6 89.8" stroke="#b59a5a" stroke-width=".6" opacity=".85"/>
<path d="M156.6 89.8C155.4 82.3 151.7 76.3 146.7 73.9" stroke="#785632" stroke-width="1.8" opacity=".7" stroke-linecap="round" stroke-dasharray="6.5 0.7 4.8 0.9"/>
<path d="M156.6 89.8C155.4 82.3 151.7 76.3 146.7 73.9" stroke="#ad8256" stroke-width="1.3" stroke-dasharray="1.7 0.9 2.5 0.7 0.7 0.8" opacity=".95" stroke-linecap="butt"/>
<path d="M156.6 89.8C155.4 82.3 151.7 76.3 146.7 73.9" stroke="#caa884" stroke-width="0.5" stroke-dasharray="1.1 1.8" opacity=".6" stroke-linecap="butt" transform="translate(0.2 -0.4)"/>
<path d="M159.3 98.1C158.2 95.5 156.9 93 155.4 90.7" stroke="#9a8446" stroke-width=".6" opacity=".85"/>
<path d="M155.4 90.7C152.2 85.8 148.4 81.9 145.2 80.5" stroke="#5e4226" stroke-width="1.8" opacity=".7" stroke-linecap="round" stroke-dasharray="6.3 0.3 4.4 0.8"/>
<path d="M155.4 90.7C152.2 85.8 148.4 81.9 145.2 80.5" stroke="#b48a62" stroke-width="1.3" stroke-dasharray="0.9 0.5 2.2 0.9 1.2 0.8" opacity=".95" stroke-linecap="butt"/>
<path d="M155.4 90.7C152.2 85.8 148.4 81.9 145.2 80.5" stroke="#b48e68" stroke-width="0.5" stroke-dasharray="1.2 0.9" opacity=".6" stroke-linecap="butt" transform="translate(-0.2 -0.5)"/>
<path d="M145 95.6C143.8 92.2 143.1 88.9 142.8 85.6" stroke="#557f26" stroke-width=".6" opacity=".85"/>
<path d="M142.8 85.6C142 77.3 144.2 69.9 148.6 66.2" stroke="#5e4226" stroke-width="2.9" opacity=".7" stroke-linecap="round" stroke-dasharray="3.6 1 2.2 0.7"/>
<path d="M142.8 85.6C142 77.3 144.2 69.9 148.6 66.2" stroke="#a67a50" stroke-width="2.2" stroke-dasharray="1.7 0.5 1.7 0.4 1.4 1.3" opacity=".95" stroke-linecap="butt"/>
<path d="M142.8 85.6C142 77.3 144.2 69.9 148.6 66.2" stroke="#c4a27c" stroke-width="0.9" stroke-dasharray="1 1.1" opacity=".6" stroke-linecap="butt" transform="translate(0.5 -0.3)"/>
<path d="M141.6 113.8C139.2 107.4 137.9 100.9 137.6 94.8" stroke="#729434" stroke-width=".6" opacity=".85"/>
<path d="M137.6 94.8C136.7 80.4 140.8 67.8 148.8 61.4" stroke="#66482a" stroke-width="1.9" opacity=".7" stroke-linecap="round" stroke-dasharray="4.6 0.4 2.8 0.9"/>
<path d="M137.6 94.8C136.7 80.4 140.8 67.8 148.8 61.4" stroke="#a67a50" stroke-width="1.4" stroke-dasharray="1.6 0.6 1.2 0.6 1 0.6" opacity=".95" stroke-linecap="butt"/>
<path d="M137.6 94.8C136.7 80.4 140.8 67.8 148.8 61.4" stroke="#c4a27c" stroke-width="0.6" stroke-dasharray="1.1 1.6" opacity=".6" stroke-linecap="butt" transform="translate(0.6 -0.2)"/>
<path d="M158.9 104.8C160.2 99.7 160.6 94.6 160.4 89.7" stroke="#c9b070" stroke-width=".6" opacity=".85"/>
<path d="M160.4 89.7C160 79.2 156.4 70.1 150.6 65.7" stroke="#785632" stroke-width="1.8" opacity=".7" stroke-linecap="round" stroke-dasharray="4.7 0.4 4.5 1"/>
<path d="M160.4 89.7C160 79.2 156.4 70.1 150.6 65.7" stroke="#855a36" stroke-width="1.4" stroke-dasharray="1.8 0.4 2.3 0.5 0.7 0.5" opacity=".95" stroke-linecap="butt"/>
<path d="M160.4 89.7C160 79.2 156.4 70.1 150.6 65.7" stroke="#bc9872" stroke-width="0.5" stroke-dasharray="0.7 1.2" opacity=".6" stroke-linecap="butt" transform="translate(0.6 -0.6)"/>
<path d="M155.1 113.8C157.8 107.2 159.6 100.5 160.4 94.1" stroke="#b59a5a" stroke-width=".6" opacity=".85"/>
<path d="M160.4 94.1C162.5 78.3 159.4 63.9 151.9 56.2" stroke="#66482a" stroke-width="2.9" opacity=".7" stroke-linecap="round" stroke-dasharray="6 0.5 2.4 0.8"/>
<path d="M160.4 94.1C162.5 78.3 159.4 63.9 151.9 56.2" stroke="#b99064" stroke-width="2.1" stroke-dasharray="1.4 0.6 1.1 0.7 1 1.1" opacity=".95" stroke-linecap="butt"/>
<path d="M160.4 94.1C162.5 78.3 159.4 63.9 151.9 56.2" stroke="#c4a27c" stroke-width="0.9" stroke-dasharray="1 1.1" opacity=".6" stroke-linecap="butt" transform="translate(-0.3 -0.1)"/>
<path d="M155 95.3C157.9 90.6 159.7 85.9 160.7 81.4" stroke="#c0a868" stroke-width=".6" opacity=".85"/>
<path d="M160.7 81.4C162.7 71.5 160.2 62.4 153.8 57.5" stroke="#785632" stroke-width="2.8" opacity=".7" stroke-linecap="round" stroke-dasharray="3.1 0.9 3.7 0.9"/>
<path d="M160.7 81.4C162.7 71.5 160.2 62.4 153.8 57.5" stroke="#a67a50" stroke-width="2.1" stroke-dasharray="1.3 0.8 1.8 0.4 1.2 1.2" opacity=".95" stroke-linecap="butt"/>
<path d="M160.7 81.4C162.7 71.5 160.2 62.4 153.8 57.5" stroke="#bc9872" stroke-width="0.8" stroke-dasharray="1.2 1.7" opacity=".6" stroke-linecap="butt" transform="translate(0.1 0.2)"/>
<path d="M149 91.8C147.1 87.9 146.1 84.1 145.7 80.5" stroke="#c9b070" stroke-width=".6" opacity=".85"/>
<path d="M145.7 80.5C145 72 148.2 64.9 154.5 61.6" stroke="#6e4e2c" stroke-width="3" opacity=".7" stroke-linecap="round" stroke-dasharray="5.5 0.5 2.9 0.7"/>
<path d="M145.7 80.5C145 72 148.2 64.9 154.5 61.6" stroke="#9c6e44" stroke-width="2.2" stroke-dasharray="0.8 1.1 2.2 0.5 1.4 1.1" opacity=".95" stroke-linecap="butt"/>
<path d="M145.7 80.5C145 72 148.2 64.9 154.5 61.6" stroke="#b48e68" stroke-width="0.9" stroke-dasharray="1 1.5" opacity=".6" stroke-linecap="butt" transform="translate(-0.6 0.2)"/>
<path d="M149.9 107C146.9 100.4 145.1 93.8 144.4 87.4" stroke="#a89058" stroke-width=".6" opacity=".85"/>
<path d="M144.4 87.4C142.7 72.4 147.1 59.2 156.3 52.5" stroke="#6e4e2c" stroke-width="2.8" opacity=".7" stroke-linecap="round" stroke-dasharray="6.4 0.4 3.7 0.8"/>
<path d="M144.4 87.4C142.7 72.4 147.1 59.2 156.3 52.5" stroke="#855a36" stroke-width="2.1" stroke-dasharray="1.7 0.4 2 0.7 1.1 1" opacity=".95" stroke-linecap="butt"/>
<path d="M144.4 87.4C142.7 72.4 147.1 59.2 156.3 52.5" stroke="#c4a27c" stroke-width="0.9" stroke-dasharray="0.9 1.7" opacity=".6" stroke-linecap="butt" transform="translate(0.4 -0.4)"/>
<path d="M159.1 116.7C166.4 107.8 170.7 98.4 172.1 89.7" stroke="#729434" stroke-width=".6" opacity=".85"/>
<path d="M172.1 89.7C174.3 76.2 169.8 64.1 159.1 56.8" stroke="#785632" stroke-width="2.4" opacity=".7" stroke-linecap="round" stroke-dasharray="5.1 1.2 4.8 0.5"/>
<path d="M172.1 89.7C174.3 76.2 169.8 64.1 159.1 56.8" stroke="#7a5230" stroke-width="1.8" stroke-dasharray="1.5 0.4 1.2 0.4 0.9 0.7" opacity=".95" stroke-linecap="butt"/>
<path d="M172.1 89.7C174.3 76.2 169.8 64.1 159.1 56.8" stroke="#c4a27c" stroke-width="0.7" stroke-dasharray="0.8 1.2" opacity=".6" stroke-linecap="butt" transform="translate(-0.1 0.3)"/>
<path d="M159 92.3C162.2 88.5 164.1 84.5 164.9 80.8" stroke="#557f26" stroke-width=".6" opacity=".85"/>
<path d="M164.9 80.8C166.3 74.3 164.2 68.4 159 65" stroke="#5e4226" stroke-width="2.5" opacity=".7" stroke-linecap="round" stroke-dasharray="5.5 0.5 3.6 0.6"/>
<path d="M164.9 80.8C166.3 74.3 164.2 68.4 159 65" stroke="#9c6e44" stroke-width="1.9" stroke-dasharray="1.1 0.6 2 0.4 1.1 1.4" opacity=".95" stroke-linecap="butt"/>
<path d="M164.9 80.8C166.3 74.3 164.2 68.4 159 65" stroke="#bc9872" stroke-width="0.8" stroke-dasharray="0.7 1.4" opacity=".6" stroke-linecap="butt" transform="translate(0.6 -0.3)"/>
<path d="M151.5 99.8C149.5 92.9 149.3 86.6 150.5 81.2" stroke="#9a8446" stroke-width=".6" opacity=".85"/>
<path d="M150.5 81.2C152.5 72.6 158.3 66.6 166.5 65" stroke="#6e4e2c" stroke-width="2.8" opacity=".7" stroke-linecap="round" stroke-dasharray="5.6 0.5 4.1 0.6"/>
<path d="M150.5 81.2C152.5 72.6 158.3 66.6 166.5 65" stroke="#946a46" stroke-width="2.1" stroke-dasharray="1.4 0.8 1.5 0.4 0.8 1" opacity=".95" stroke-linecap="butt"/>
<path d="M150.5 81.2C152.5 72.6 158.3 66.6 166.5 65" stroke="#b48e68" stroke-width="0.8" stroke-dasharray="1.4 1.2" opacity=".6" stroke-linecap="butt" transform="translate(0.6 -0.6)"/>
<path d="M145.6 119.1C143.1 111 142.1 103.2 142.3 96" stroke="#b59a5a" stroke-width=".6" opacity=".85"/>
<path d="M142.3 96C142.9 78.2 151.3 64 164.8 58.8" stroke="#5e4226" stroke-width="1.9" opacity=".7" stroke-linecap="round" stroke-dasharray="5.4 0.6 4 0.7"/>
<path d="M142.3 96C142.9 78.2 151.3 64 164.8 58.8" stroke="#b48a62" stroke-width="1.4" stroke-dasharray="1.2 1 1.8 0.9 1.2 1.3" opacity=".95" stroke-linecap="butt"/>
<path d="M142.3 96C142.9 78.2 151.3 64 164.8 58.8" stroke="#b48e68" stroke-width="0.6" stroke-dasharray="0.9 1.2" opacity=".6" stroke-linecap="butt" transform="translate(0.2 -0.1)"/>
<path d="M154.5 114.8C150.5 106.2 148.7 98 148.9 90.8" stroke="#729434" stroke-width=".6" opacity=".85"/>
<path d="M148.9 90.8C149.3 77.1 156.8 66.8 169.7 63.2" stroke="#6e4e2c" stroke-width="2.5" opacity=".7" stroke-linecap="round" stroke-dasharray="4.7 0.4 3.2 0.7"/>
<path d="M148.9 90.8C149.3 77.1 156.8 66.8 169.7 63.2" stroke="#ad8256" stroke-width="1.9" stroke-dasharray="1.3 1.2 1.9 0.6 1.3 1.3" opacity=".95" stroke-linecap="butt"/>
<path d="M148.9 90.8C149.3 77.1 156.8 66.8 169.7 63.2" stroke="#c4a27c" stroke-width="0.8" stroke-dasharray="0.9 1.3" opacity=".6" stroke-linecap="butt" transform="translate(-0.1 -0)"/>
<path d="M147.8 101.3C145.7 93 145.8 85.7 147.8 79.8" stroke="#a89058" stroke-width=".6" opacity=".85"/>
<path d="M147.8 79.8C150.7 70.9 157.8 65.2 167.4 64.7" stroke="#785632" stroke-width="2.2" opacity=".7" stroke-linecap="round" stroke-dasharray="3.7 0.6 2.4 0.7"/>
<path d="M147.8 79.8C150.7 70.9 157.8 65.2 167.4 64.7" stroke="#b99064" stroke-width="1.6" stroke-dasharray="0.9 1.1 1.5 0.8 1.4 1.4" opacity=".95" stroke-linecap="butt"/>
<path d="M147.8 79.8C150.7 70.9 157.8 65.2 167.4 64.7" stroke="#caa884" stroke-width="0.7" stroke-dasharray="1.4 1.7" opacity=".6" stroke-linecap="butt" transform="translate(0.6 -0.8)"/>
<path d="M150.7 101C149.2 93.6 149.3 87 150.8 81.4" stroke="#729434" stroke-width=".6" opacity=".85"/>
<path d="M150.8 81.4C153.7 70.7 161.6 63.9 172.4 63.5" stroke="#66482a" stroke-width="2.4" opacity=".7" stroke-linecap="round" stroke-dasharray="4.6 0.6 3.8 0.5"/>
<path d="M150.8 81.4C153.7 70.7 161.6 63.9 172.4 63.5" stroke="#9c6e44" stroke-width="1.8" stroke-dasharray="1.5 0.8 1.2 0.5 1 1" opacity=".95" stroke-linecap="butt"/>
<path d="M150.8 81.4C153.7 70.7 161.6 63.9 172.4 63.5" stroke="#caa884" stroke-width="0.7" stroke-dasharray="1.3 1.8" opacity=".6" stroke-linecap="butt" transform="translate(-0 -0.3)"/>
<path d="M150.6 117.1C148.9 108.7 148.9 100.9 150.4 94" stroke="#b59a5a" stroke-width=".6" opacity=".85"/>
<path d="M150.4 94C153.4 79.8 162.6 70 175.2 68.1" stroke="#6e4e2c" stroke-width="2.8" opacity=".7" stroke-linecap="round" stroke-dasharray="3.4 1.1 4.1 0.9"/>
<path d="M150.4 94C153.4 79.8 162.6 70 175.2 68.1" stroke="#7a5230" stroke-width="2.1" stroke-dasharray="1.4 0.8 2.3 0.4 1.4 0.9" opacity=".95" stroke-linecap="butt"/>
<path d="M150.4 94C153.4 79.8 162.6 70 175.2 68.1" stroke="#c4a27c" stroke-width="0.8" stroke-dasharray="1.1 1.4" opacity=".6" stroke-linecap="butt" transform="translate(-0.2 0.3)"/>
<path d="M155.5 100.8C154.1 96.3 153.6 92.1 153.9 88.4" stroke="#9a8446" stroke-width=".6" opacity=".85"/>
<path d="M153.9 88.4C154.8 78.9 160.9 72.7 170.2 72.4" stroke="#5e4226" stroke-width="2.2" opacity=".7" stroke-linecap="round" stroke-dasharray="5.3 0.9 2.6 0.6"/>
<path d="M153.9 88.4C154.8 78.9 160.9 72.7 170.2 72.4" stroke="#946a46" stroke-width="1.7" stroke-dasharray="1.7 1.1 1.8 0.4 0.8 1" opacity=".95" stroke-linecap="butt"/>
<path d="M153.9 88.4C154.8 78.9 160.9 72.7 170.2 72.4" stroke="#caa884" stroke-width="0.7" stroke-dasharray="0.7 1.6" opacity=".6" stroke-linecap="butt" transform="translate(-0.6 -0.7)"/>
<path d="M152.1 116.8C151.4 111 151.7 105.6 152.8 100.9" stroke="#729434" stroke-width=".6" opacity=".85"/>
<path d="M152.8 100.9C155.5 88.8 163.7 80.8 174.4 80" stroke="#6e4e2c" stroke-width="2.5" opacity=".7" stroke-linecap="round" stroke-dasharray="5.9 0.6 2.5 0.5"/>
<path d="M152.8 100.9C155.5 88.8 163.7 80.8 174.4 80" stroke="#ad8256" stroke-width="1.8" stroke-dasharray="1.7 1.2 1.1 0.4 1.2 0.5" opacity=".95" stroke-linecap="butt"/>
<path d="M152.8 100.9C155.5 88.8 163.7 80.8 174.4 80" stroke="#caa884" stroke-width="0.7" stroke-dasharray="1.3 1.4" opacity=".6" stroke-linecap="butt" transform="translate(0.6 -0.3)"/>
<path d="M140.1 224.4L146.7 224.4L145.4 239.9L141.8 237.1Z" fill="#4d402b" opacity=".9"/>
<path d="M145.4 224.4L146.9 242.7" stroke="#4f4430" stroke-width="1.1"/>
<path d="M142 224.4L141.7 236" stroke="#8a7850" stroke-width="1.2"/>
<path d="M143.9 224.4L143.9 241.8" stroke="#6b5a3c" stroke-width="1.3"/>
<path d="M142 224.4L141.4 237.1" stroke="#4f4430" stroke-width="1"/>
<path d="M142.6 224.4L143.1 238.4" stroke="#6b5a3c" stroke-width="1.4"/>
<path d="M143 224.4L142.6 238.9" stroke="#8a7850" stroke-width="1"/>
<path d="M141.9 224.4L142.2 238.5" stroke="#7d6a45" stroke-width="0.9"/>
<path d="M138.6 186.5L146.8 186.3L147.5 225.4L139.3 225.6Z" fill="url(#wg)" stroke="none"/>
<path d="M139.3 209.6L147.5 209.4" stroke="#c98a2e" stroke-width=".9"/>
<rect x="140.5" y="201.9" width="3.3" height="6.6" fill="#eef0f2" stroke="none"/>
<path d="M173 123Q176.6 100.4 188.6 124.5" stroke="#a89058" stroke-width="0.7" opacity="0.7"/>
<path d="M175.3 166.5Q178.3 139.3 185.7 138.4" stroke="#b99064" stroke-width="0.5" opacity="0.8"/>
<path d="M172.7 117.4Q168.5 91.2 164 92.6" stroke="#946a46" stroke-width="0.5" opacity="0.5"/>
<path d="M174.6 152.6Q173.3 121.5 166.3 148.6" stroke="#9c6e44" stroke-width="0.7" opacity="0.7"/>
<path d="M173 121.6Q175.7 105.3 181.9 106.8" stroke="#855a36" stroke-width="0.7" opacity="0.8"/>
<path d="M175.1 161.7Q170.6 127 167.3 148.6" stroke="#ad8256" stroke-width="0.4" opacity="0.7"/>
<path d="M173.9 191.9Q173.2 144.4 169.3 97" stroke="#86993e" stroke-width="0.7" opacity="0.9"/>
<path d="M174.6 191.9Q169.9 148.9 168.8 106" stroke="#729434" stroke-width="1.1" opacity="0.6"/>
<path d="M175.4 191.9Q174.4 141.6 169.9 91.3" stroke="#c9b070" stroke-width="0.9" opacity="0.8"/>
<path d="M176.1 191.9Q173.1 140.9 171.4 89.9" stroke="#628a2a" stroke-width="0.8" opacity="0.6"/>
<path d="M176.9 191.9Q174.2 148.9 173.5 105.8" stroke="#86993e" stroke-width="0.7" opacity="0.9"/>
<path d="M177.6 191.9Q174.9 140.8 173.1 89.6" stroke="#c9b070" stroke-width="0.8" opacity="0.6"/>
<path d="M178.4 191.9Q178.3 137.8 176.7 83.7" stroke="#a89058" stroke-width="0.9" opacity="0.8"/>
<path d="M179.1 191.9Q179 138.9 176.7 85.8" stroke="#c9b070" stroke-width="0.6" opacity="0.8"/>
<path d="M174.6 107Q177.5 73 173.9 38.9" stroke="#c9b070" stroke-width="0.6" opacity=".7"/>
<path d="M170.2 107Q169.7 71.1 165.4 35.2" stroke="#c9b070" stroke-width="0.6" opacity=".7"/>
<path d="M167.5 100.9Q175.2 92.8 179.6 131.6" stroke="#855a36" stroke-width="0.6" opacity="0.7"/>
<path d="M177.1 76Q181.1 63.7 186.4 121.8" stroke="#b99064" stroke-width="0.7" opacity="0.8"/>
<path d="M176.7 77Q185.6 66.7 189.6 116.5" stroke="#b59a5a" stroke-width="0.7" opacity="0.6"/>
<path d="M166.2 82.6Q162.5 73.6 150.8 95.7" stroke="#855a36" stroke-width="0.7" opacity="0.6"/>
<path d="M168.1 73.2Q161.8 55.5 154.9 115.6" stroke="#9c6e44" stroke-width="1" opacity="0.7"/>
<path d="M167 92Q173.5 76.8 178.7 115" stroke="#c9b070" stroke-width="0.8" opacity="0.7"/>
<path d="M181.1 99.4Q188.7 93.4 198.1 105.6" stroke="#ad8256" stroke-width="0.9" opacity="0.6"/>
<path d="M168.4 98.7Q172.5 83.5 182.8 140.8" stroke="#9c6e44" stroke-width="0.7" opacity="0.7"/>
<path d="M171.3 80.4Q164.4 70.6 154.1 97.3" stroke="#b59a5a" stroke-width="0.6" opacity="0.8"/>
<path d="M180.9 115Q190.2 97.7 197.1 145" stroke="#9a8446" stroke-width="1" opacity="0.7"/>
<path d="M166.8 111.4C164.7 105.5 163.6 99.4 163.3 93.7" stroke="#729434" stroke-width=".6" opacity=".85"/>
<path d="M163.3 93.7C162.9 85.8 164.3 78.8 167.2 74.5" stroke="#6e4e2c" stroke-width="2.3" opacity=".7" stroke-linecap="round" stroke-dasharray="3.9 0.6 2.1 0.7"/>
<path d="M163.3 93.7C162.9 85.8 164.3 78.8 167.2 74.5" stroke="#7a5230" stroke-width="1.7" stroke-dasharray="0.9 0.5 1.1 0.7 1.4 0.6" opacity=".95" stroke-linecap="butt"/>
<path d="M163.3 93.7C162.9 85.8 164.3 78.8 167.2 74.5" stroke="#c4a27c" stroke-width="0.7" stroke-dasharray="1.1 1.6" opacity=".6" stroke-linecap="butt" transform="translate(0.6 -0.6)"/>
<path d="M170.8 97.3C171.6 94.5 172.1 91.6 172.4 88.9" stroke="#a89058" stroke-width=".6" opacity=".85"/>
<path d="M172.4 88.9C172.9 83.2 172.2 78 170.6 75" stroke="#6e4e2c" stroke-width="2.3" opacity=".7" stroke-linecap="round" stroke-dasharray="6.9 1.2 3.9 0.9"/>
<path d="M172.4 88.9C172.9 83.2 172.2 78 170.6 75" stroke="#9c6e44" stroke-width="1.7" stroke-dasharray="1.5 0.7 2.1 0.6 1 0.8" opacity=".95" stroke-linecap="butt"/>
<path d="M172.4 88.9C172.9 83.2 172.2 78 170.6 75" stroke="#caa884" stroke-width="0.7" stroke-dasharray="0.8 1.1" opacity=".6" stroke-linecap="butt" transform="translate(0.5 -0.8)"/>
<path d="M165.8 112.1C164.4 105.7 164 99.3 164.5 93.3" stroke="#a89058" stroke-width=".6" opacity=".85"/>
<path d="M164.5 93.3C165.2 82.7 168.6 73.6 173.8 68.9" stroke="#6e4e2c" stroke-width="2.2" opacity=".7" stroke-linecap="round" stroke-dasharray="5.3 0.7 2.3 0.4"/>
<path d="M164.5 93.3C165.2 82.7 168.6 73.6 173.8 68.9" stroke="#b99064" stroke-width="1.6" stroke-dasharray="1.3 0.5 2.4 0.5 0.7 1" opacity=".95" stroke-linecap="butt"/>
<path d="M164.5 93.3C165.2 82.7 168.6 73.6 173.8 68.9" stroke="#bc9872" stroke-width="0.7" stroke-dasharray="1.2 1" opacity=".6" stroke-linecap="butt" transform="translate(-0.1 -0.2)"/>
<path d="M175 118.2C171.1 110.9 169 103.3 168.5 96.3" stroke="#c9b070" stroke-width=".6" opacity=".85"/>
<path d="M168.5 96.3C167.6 85.3 170.5 75.6 176.8 70" stroke="#5e4226" stroke-width="2.8" opacity=".7" stroke-linecap="round" stroke-dasharray="5.5 1.2 3.5 0.6"/>
<path d="M168.5 96.3C167.6 85.3 170.5 75.6 176.8 70" stroke="#7a5230" stroke-width="2.1" stroke-dasharray="1.3 1.2 1.3 0.6 0.7 0.8" opacity=".95" stroke-linecap="butt"/>
<path d="M168.5 96.3C167.6 85.3 170.5 75.6 176.8 70" stroke="#c4a27c" stroke-width="0.8" stroke-dasharray="0.9 0.8" opacity=".6" stroke-linecap="butt" transform="translate(-0.6 -0)"/>
<path d="M166.8 120.1C164.1 109.2 163.3 98.2 164.3 88.3" stroke="#c9b070" stroke-width=".6" opacity=".85"/>
<path d="M164.3 88.3C165.5 74.4 170 62.6 176.9 56.1" stroke="#785632" stroke-width="2.4" opacity=".7" stroke-linecap="round" stroke-dasharray="3.7 1 3 0.8"/>
<path d="M164.3 88.3C165.5 74.4 170 62.6 176.9 56.1" stroke="#9c6e44" stroke-width="1.8" stroke-dasharray="1.6 0.5 1.6 0.7 1.5 1.1" opacity=".95" stroke-linecap="butt"/>
<path d="M164.3 88.3C165.5 74.4 170 62.6 176.9 56.1" stroke="#c4a27c" stroke-width="0.7" stroke-dasharray="1.3 1.2" opacity=".6" stroke-linecap="butt" transform="translate(-0.2 -0.4)"/>
<path d="M168.8 102.3C167 98 165.9 93.7 165.6 89.6" stroke="#c0a868" stroke-width=".6" opacity=".85"/>
<path d="M165.6 89.6C164.6 79.3 168.1 70.3 174.9 66.1" stroke="#5e4226" stroke-width="2.3" opacity=".7" stroke-linecap="round" stroke-dasharray="5 0.4 2.8 0.4"/>
<path d="M165.6 89.6C164.6 79.3 168.1 70.3 174.9 66.1" stroke="#946a46" stroke-width="1.7" stroke-dasharray="1.7 0.9 2.3 0.7 0.8 1.4" opacity=".95" stroke-linecap="butt"/>
<path d="M165.6 89.6C164.6 79.3 168.1 70.3 174.9 66.1" stroke="#bc9872" stroke-width="0.7" stroke-dasharray="1.4 0.8" opacity=".6" stroke-linecap="butt" transform="translate(-0.2 -0.6)"/>
<path d="M164.9 96.8C164 90.4 164.6 84.4 166.3 79.4" stroke="#a89058" stroke-width=".6" opacity=".85"/>
<path d="M166.3 79.4C169 71 174.8 65.1 182.2 63.7" stroke="#6e4e2c" stroke-width="2.8" opacity=".7" stroke-linecap="round" stroke-dasharray="5.8 0.7 2.7 1"/>
<path d="M166.3 79.4C169 71 174.8 65.1 182.2 63.7" stroke="#ad8256" stroke-width="2.1" stroke-dasharray="1.2 0.8 1.5 0.4 1.2 0.7" opacity=".95" stroke-linecap="butt"/>
<path d="M166.3 79.4C169 71 174.8 65.1 182.2 63.7" stroke="#bc9872" stroke-width="0.8" stroke-dasharray="1.2 1.1" opacity=".6" stroke-linecap="butt" transform="translate(-0 0.2)"/>
<path d="M168.5 99C165.9 92.3 165 85.8 165.5 80" stroke="#557f26" stroke-width=".6" opacity=".85"/>
<path d="M165.5 80C166.3 70 171.5 62.2 179.7 59" stroke="#6e4e2c" stroke-width="1.9" opacity=".7" stroke-linecap="round" stroke-dasharray="4.1 0.5 3.5 0.5"/>
<path d="M165.5 80C166.3 70 171.5 62.2 179.7 59" stroke="#855a36" stroke-width="1.4" stroke-dasharray="1.8 0.4 1.9 0.8 1.4 1.2" opacity=".95" stroke-linecap="butt"/>
<path d="M165.5 80C166.3 70 171.5 62.2 179.7 59" stroke="#c4a27c" stroke-width="0.6" stroke-dasharray="0.9 1.1" opacity=".6" stroke-linecap="butt" transform="translate(0.4 0.2)"/>
<path d="M178.7 114.7C174.1 106 171.6 97.3 171.1 89.2" stroke="#9a8446" stroke-width=".6" opacity=".85"/>
<path d="M171.1 89.2C170.2 75.4 175 63.5 184.6 57.2" stroke="#66482a" stroke-width="2.8" opacity=".7" stroke-linecap="round" stroke-dasharray="4.3 0.9 4 0.9"/>
<path d="M171.1 89.2C170.2 75.4 175 63.5 184.6 57.2" stroke="#b48a62" stroke-width="2.1" stroke-dasharray="1.3 1.1 2.3 0.9 0.7 0.7" opacity=".95" stroke-linecap="butt"/>
<path d="M171.1 89.2C170.2 75.4 175 63.5 184.6 57.2" stroke="#b48e68" stroke-width="0.9" stroke-dasharray="0.9 1.2" opacity=".6" stroke-linecap="butt" transform="translate(0.4 0.2)"/>
<path d="M169 109.3C165.7 100.6 164.8 92.2 165.9 85" stroke="#b59a5a" stroke-width=".6" opacity=".85"/>
<path d="M165.9 85C167.5 74.9 173.2 67 181.9 63.7" stroke="#5e4226" stroke-width="2.9" opacity=".7" stroke-linecap="round" stroke-dasharray="5.3 0.6 3.1 0.6"/>
<path d="M165.9 85C167.5 74.9 173.2 67 181.9 63.7" stroke="#7a5230" stroke-width="2.2" stroke-dasharray="1.5 1.1 2.3 0.5 0.8 1.3" opacity=".95" stroke-linecap="butt"/>
<path d="M165.9 85C167.5 74.9 173.2 67 181.9 63.7" stroke="#c4a27c" stroke-width="0.9" stroke-dasharray="1.2 1.4" opacity=".6" stroke-linecap="butt" transform="translate(-0.4 -0.8)"/>
<path d="M169.6 107.1C168.6 101.2 168.6 95.5 169.4 90.4" stroke="#b59a5a" stroke-width=".6" opacity=".85"/>
<path d="M169.4 90.4C171.2 79.1 176.8 70.1 184.7 66.8" stroke="#5e4226" stroke-width="3" opacity=".7" stroke-linecap="round" stroke-dasharray="3.3 1 4.6 0.5"/>
<path d="M169.4 90.4C171.2 79.1 176.8 70.1 184.7 66.8" stroke="#855a36" stroke-width="2.2" stroke-dasharray="0.8 0.6 2 0.3 0.9 0.5" opacity=".95" stroke-linecap="butt"/>
<path d="M169.4 90.4C171.2 79.1 176.8 70.1 184.7 66.8" stroke="#bc9872" stroke-width="0.9" stroke-dasharray="0.9 1.5" opacity=".6" stroke-linecap="butt" transform="translate(0.2 -0.4)"/>
<path d="M172.1 92.5C170.5 86.8 170.1 81.5 170.8 76.8" stroke="#a89058" stroke-width=".6" opacity=".85"/>
<path d="M170.8 76.8C172.2 67.2 177.9 60.2 186.4 58.3" stroke="#66482a" stroke-width="3" opacity=".7" stroke-linecap="round" stroke-dasharray="4 0.7 2 0.9"/>
<path d="M170.8 76.8C172.2 67.2 177.9 60.2 186.4 58.3" stroke="#a67a50" stroke-width="2.2" stroke-dasharray="0.9 0.9 2.2 0.5 0.7 0.6" opacity=".95" stroke-linecap="butt"/>
<path d="M170.8 76.8C172.2 67.2 177.9 60.2 186.4 58.3" stroke="#caa884" stroke-width="0.9" stroke-dasharray="1 1.6" opacity=".6" stroke-linecap="butt" transform="translate(-0.2 -0.4)"/>
<path d="M167.1 122.4C165 114.2 164.6 106.5 165.5 99.7" stroke="#c0a868" stroke-width=".6" opacity=".85"/>
<path d="M165.5 99.7C167.6 84.7 176.6 73.9 189.8 71.4" stroke="#66482a" stroke-width="2" opacity=".7" stroke-linecap="round" stroke-dasharray="6.1 1 2.9 0.8"/>
<path d="M165.5 99.7C167.6 84.7 176.6 73.9 189.8 71.4" stroke="#b48a62" stroke-width="1.5" stroke-dasharray="1.4 0.7 1.8 0.5 0.8 1" opacity=".95" stroke-linecap="butt"/>
<path d="M165.5 99.7C167.6 84.7 176.6 73.9 189.8 71.4" stroke="#c4a27c" stroke-width="0.6" stroke-dasharray="1.1 1.6" opacity=".6" stroke-linecap="butt" transform="translate(-0.2 0.3)"/>
<path d="M164.7 95.3C165.5 88.7 167.5 82.8 170.2 77.9" stroke="#c0a868" stroke-width=".6" opacity=".85"/>
<path d="M170.2 77.9C175.3 68.8 183.2 63.2 191.6 63.2" stroke="#785632" stroke-width="2.7" opacity=".7" stroke-linecap="round" stroke-dasharray="6.8 0.6 2.4 0.4"/>
<path d="M170.2 77.9C175.3 68.8 183.2 63.2 191.6 63.2" stroke="#855a36" stroke-width="2" stroke-dasharray="1.3 0.7 2.1 0.6 1.4 0.7" opacity=".95" stroke-linecap="butt"/>
<path d="M170.2 77.9C175.3 68.8 183.2 63.2 191.6 63.2" stroke="#bc9872" stroke-width="0.8" stroke-dasharray="1.3 1.2" opacity=".6" stroke-linecap="butt" transform="translate(-0.4 0.1)"/>
<path d="M179.5 120.2C175.1 111.9 172.8 103.9 172.4 96.5" stroke="#c9b070" stroke-width=".6" opacity=".85"/>
<path d="M172.4 96.5C171.6 81.6 178.8 69.6 192.2 64.9" stroke="#66482a" stroke-width="2.4" opacity=".7" stroke-linecap="round" stroke-dasharray="6.6 0.6 4 0.9"/>
<path d="M172.4 96.5C171.6 81.6 178.8 69.6 192.2 64.9" stroke="#9c6e44" stroke-width="1.8" stroke-dasharray="1.1 0.6 1.7 0.4 0.8 1.2" opacity=".95" stroke-linecap="butt"/>
<path d="M172.4 96.5C171.6 81.6 178.8 69.6 192.2 64.9" stroke="#bc9872" stroke-width="0.7" stroke-dasharray="0.8 1.8" opacity=".6" stroke-linecap="butt" transform="translate(-0.4 -0.2)"/>
<path d="M169.3 115C168.5 108 169.2 101.7 171 96.6" stroke="#9a8446" stroke-width=".6" opacity=".85"/>
<path d="M171 96.6C174.9 85.7 183.9 79.8 195.3 81.3" stroke="#6e4e2c" stroke-width="1.7" opacity=".7" stroke-linecap="round" stroke-dasharray="3.6 0.9 3.8 0.6"/>
<path d="M171 96.6C174.9 85.7 183.9 79.8 195.3 81.3" stroke="#9c6e44" stroke-width="1.3" stroke-dasharray="1.7 0.6 2.4 0.5 1.3 1.3" opacity=".95" stroke-linecap="butt"/>
<path d="M171 96.6C174.9 85.7 183.9 79.8 195.3 81.3" stroke="#caa884" stroke-width="0.5" stroke-dasharray="0.9 0.9" opacity=".6" stroke-linecap="butt" transform="translate(0.6 -0)"/>
<path d="M166.7 100.7C168.7 96.4 171.3 93 174.1 90.7" stroke="#729434" stroke-width=".6" opacity=".85"/>
<path d="M174.1 90.7C179.9 85.9 186.8 85.3 192.8 89.4" stroke="#66482a" stroke-width="1.9" opacity=".7" stroke-linecap="round" stroke-dasharray="3.4 0.6 4.8 0.8"/>
<path d="M174.1 90.7C179.9 85.9 186.8 85.3 192.8 89.4" stroke="#a67a50" stroke-width="1.4" stroke-dasharray="1.8 0.4 1.4 0.8 1.2 0.5" opacity=".95" stroke-linecap="butt"/>
<path d="M174.1 90.7C179.9 85.9 186.8 85.3 192.8 89.4" stroke="#caa884" stroke-width="0.6" stroke-dasharray="1.1 1.5" opacity=".6" stroke-linecap="butt" transform="translate(0.3 -0.7)"/>
<path d="M182.4 122.1C179.8 116.9 178.4 111.9 178 107.3" stroke="#c9b070" stroke-width=".6" opacity=".85"/>
<path d="M178 107.3C177.1 95.6 183 86.6 193.8 83.8" stroke="#6e4e2c" stroke-width="2.6" opacity=".7" stroke-linecap="round" stroke-dasharray="5.5 0.8 5 0.7"/>
<path d="M178 107.3C177.1 95.6 183 86.6 193.8 83.8" stroke="#b48a62" stroke-width="1.9" stroke-dasharray="1.8 0.5 2.6 0.8 1.5 0.7" opacity=".95" stroke-linecap="butt"/>
<path d="M178 107.3C177.1 95.6 183 86.6 193.8 83.8" stroke="#c4a27c" stroke-width="0.8" stroke-dasharray="0.8 1" opacity=".6" stroke-linecap="butt" transform="translate(-0.3 -0.7)"/>
<path d="M174.8 102.6C176.5 98.2 178.9 94.6 181.7 92.1" stroke="#557f26" stroke-width=".6" opacity=".85"/>
<path d="M181.7 92.1C186.3 88 192 86.7 197.1 88.8" stroke="#785632" stroke-width="2.3" opacity=".7" stroke-linecap="round" stroke-dasharray="5.2 0.9 4.9 0.9"/>
<path d="M181.7 92.1C186.3 88 192 86.7 197.1 88.8" stroke="#946a46" stroke-width="1.7" stroke-dasharray="1.2 0.7 1.7 0.9 0.9 0.8" opacity=".95" stroke-linecap="butt"/>
<path d="M181.7 92.1C186.3 88 192 86.7 197.1 88.8" stroke="#b48e68" stroke-width="0.7" stroke-dasharray="1.2 1.7" opacity=".6" stroke-linecap="butt" transform="translate(0.2 -0.5)"/>
<path d="M173.8 226.2L179.2 226.2L180 241.2L173.6 239Z" fill="#4d402b" opacity=".9"/>
<path d="M179.2 226.2L182 238" stroke="#5a4c34" stroke-width="1.3"/>
<path d="M178.8 226.2L179.3 240.1" stroke="#8a7850" stroke-width="1.1"/>
<path d="M175.5 226.2L173.4 243.9" stroke="#8a7850" stroke-width="1.1"/>
<path d="M177 226.2L177 242.9" stroke="#8a7850" stroke-width="1"/>
<path d="M174.1 226.2L171 243.1" stroke="#4f4430" stroke-width="0.8"/>
<path d="M178.2 226.2L180.2 244.1" stroke="#4f4430" stroke-width="1.3"/>
<path d="M176.4 226.2L176.3 241.5" stroke="#7d6a45" stroke-width="1.4"/>
<path d="M172.1 188.9L179.1 189.4L180 227.2L173 227.2Z" fill="url(#wg)" stroke="none"/>
<path d="M173 209L180 209.4" stroke="#c98a2e" stroke-width=".9"/>
<rect x="173.9" y="203.5" width="3.2" height="7" fill="#eef0f2" stroke="none"/>
<path d="M192.6 120.7Q189.6 99.3 183 100.1" stroke="#7a5230" stroke-width="0.5" opacity="0.5"/>
<path d="M192.7 131.4Q197.2 107.2 199.6 128.9" stroke="#855a36" stroke-width="0.7" opacity="0.7"/>
<path d="M192.6 120.5Q188.5 105.9 185.3 117" stroke="#b99064" stroke-width="0.5" opacity="0.6"/>
<path d="M192.5 111.1Q188.8 96.6 183.9 99.3" stroke="#9c6e44" stroke-width="0.5" opacity="0.5"/>
<path d="M192.7 136.3Q196.8 103.3 200.7 122.6" stroke="#9c6e44" stroke-width="0.8" opacity="0.7"/>
<path d="M192.7 132.5Q187.6 102.8 183.7 118.7" stroke="#9c6e44" stroke-width="0.5" opacity="0.7"/>
<path d="M190.5 186.7Q191.4 134.6 189.5 82.6" stroke="#b59a5a" stroke-width="1" opacity="0.7"/>
<path d="M191.2 186.7Q191.3 142.1 191.2 97.5" stroke="#b59a5a" stroke-width="0.7" opacity="0.7"/>
<path d="M192 186.7Q193.2 141.4 190.4 96.1" stroke="#557f26" stroke-width="0.9" opacity="0.7"/>
<path d="M192.7 186.7Q193.9 138.5 193.1 90.2" stroke="#b59a5a" stroke-width="1.2" opacity="0.7"/>
<path d="M193.5 186.7Q191.4 141.1 192.7 95.5" stroke="#c0a868" stroke-width="1.1" opacity="0.6"/>
<path d="M194.2 186.7Q192.8 139.8 195 92.9" stroke="#9a8446" stroke-width="0.9" opacity="0.6"/>
<path d="M195 186.7Q197.6 139.6 196.3 92.4" stroke="#c9b070" stroke-width="0.8" opacity="0.6"/>
<path d="M195.7 186.7Q197 140.1 198.2 93.5" stroke="#47721f" stroke-width="0.8" opacity="0.9"/>
<path d="M192.9 107Q190.3 71.7 197.2 36.4" stroke="#9a8446" stroke-width="0.5" opacity=".7"/>
<path d="M191.5 107Q190.4 72.9 194.3 38.8" stroke="#c9b070" stroke-width="0.4" opacity=".7"/>
<path d="M194.6 86.8Q202.2 72.6 205.6 138.3" stroke="#9c6e44" stroke-width="0.6" opacity="0.8"/>
<path d="M195 72.3Q198 66.4 209.5 118.5" stroke="#b59a5a" stroke-width="0.6" opacity="0.8"/>
<path d="M190.5 102Q197.7 91.7 207 117.2" stroke="#a89058" stroke-width="0.5" opacity="0.7"/>
<path d="M196.4 72.2Q187.7 60.7 185.5 113.3" stroke="#7a5230" stroke-width="0.9" opacity="0.7"/>
<path d="M197 100.4Q205.6 88.4 209.2 144.3" stroke="#7a5230" stroke-width="0.6" opacity="0.5"/>
<path d="M187.1 105.3Q181.2 91.7 176.6 155.6" stroke="#a67a50" stroke-width="0.7" opacity="0.8"/>
<path d="M201.2 76Q192.4 67.2 188 110.1" stroke="#9c6e44" stroke-width="0.9" opacity="0.8"/>
<path d="M190.8 81.6Q199.7 74.6 209.6 135.6" stroke="#ad8256" stroke-width="1" opacity="0.6"/>
<path d="M188.2 83.1Q195 76.9 201.6 124.5" stroke="#ad8256" stroke-width="0.7" opacity="0.6"/>
<path d="M186.2 85.8Q195.6 67.9 207 117.1" stroke="#c0a868" stroke-width="0.7" opacity="0.5"/>
<path d="M188.3 100C188.1 97.3 188.2 94.6 188.5 92.2" stroke="#729434" stroke-width=".6" opacity=".85"/>
<path d="M188.5 92.2C189.2 87.8 190.7 84.1 192.6 82.2" stroke="#6e4e2c" stroke-width="1.8" opacity=".7" stroke-linecap="round" stroke-dasharray="4.9 1 4.3 0.9"/>
<path d="M188.5 92.2C189.2 87.8 190.7 84.1 192.6 82.2" stroke="#946a46" stroke-width="1.4" stroke-dasharray="0.8 0.9 2.5 0.5 1.4 1.1" opacity=".95" stroke-linecap="butt"/>
<path d="M188.5 92.2C189.2 87.8 190.7 84.1 192.6 82.2" stroke="#c4a27c" stroke-width="0.5" stroke-dasharray="0.7 1.2" opacity=".6" stroke-linecap="butt" transform="translate(-0 -0.4)"/>
<path d="M199.9 114.2C200.4 108 199.9 101.9 198.7 96.5" stroke="#b59a5a" stroke-width=".6" opacity=".85"/>
<path d="M198.7 96.5C196.8 87.7 192.9 80.5 188 77" stroke="#66482a" stroke-width="2.7" opacity=".7" stroke-linecap="round" stroke-dasharray="4.8 0.3 3.5 0.4"/>
<path d="M198.7 96.5C196.8 87.7 192.9 80.5 188 77" stroke="#855a36" stroke-width="2" stroke-dasharray="1.2 1.1 1.1 0.7 1.3 0.8" opacity=".95" stroke-linecap="butt"/>
<path d="M198.7 96.5C196.8 87.7 192.9 80.5 188 77" stroke="#c4a27c" stroke-width="0.8" stroke-dasharray="0.9 1.6" opacity=".6" stroke-linecap="butt" transform="translate(0.5 -0.3)"/>
<path d="M186.7 106.9C185.2 103 184.3 99 183.8 95.1" stroke="#a89058" stroke-width=".6" opacity=".85"/>
<path d="M183.8 95.1C182.8 86 184.7 77.7 189.1 73.2" stroke="#5e4226" stroke-width="2" opacity=".7" stroke-linecap="round" stroke-dasharray="5 0.6 2.6 0.6"/>
<path d="M183.8 95.1C182.8 86 184.7 77.7 189.1 73.2" stroke="#b99064" stroke-width="1.5" stroke-dasharray="1.8 1.1 2.2 0.6 0.8 0.6" opacity=".95" stroke-linecap="butt"/>
<path d="M183.8 95.1C182.8 86 184.7 77.7 189.1 73.2" stroke="#c4a27c" stroke-width="0.6" stroke-dasharray="1.4 1.3" opacity=".6" stroke-linecap="butt" transform="translate(0.4 -0.2)"/>
<path d="M187.4 99.5C186.4 94.9 186.1 90.2 186.2 85.8" stroke="#c0a868" stroke-width=".6" opacity=".85"/>
<path d="M186.2 85.8C186.4 77 188.6 69.3 192.3 65.1" stroke="#5e4226" stroke-width="1.8" opacity=".7" stroke-linecap="round" stroke-dasharray="3.3 0.8 2.7 0.7"/>
<path d="M186.2 85.8C186.4 77 188.6 69.3 192.3 65.1" stroke="#9c6e44" stroke-width="1.4" stroke-dasharray="1.6 0.5 1.5 0.4 0.8 1.2" opacity=".95" stroke-linecap="butt"/>
<path d="M186.2 85.8C186.4 77 188.6 69.3 192.3 65.1" stroke="#caa884" stroke-width="0.6" stroke-dasharray="1.3 1.1" opacity=".6" stroke-linecap="butt" transform="translate(0.4 -0.3)"/>
<path d="M192.3 104C190.4 99.3 189.1 94.4 188.4 89.7" stroke="#557f26" stroke-width=".6" opacity=".85"/>
<path d="M188.4 89.7C186.9 79.4 188.4 70 192.5 64.6" stroke="#6e4e2c" stroke-width="2.4" opacity=".7" stroke-linecap="round" stroke-dasharray="3.6 0.6 2.4 0.4"/>
<path d="M188.4 89.7C186.9 79.4 188.4 70 192.5 64.6" stroke="#b99064" stroke-width="1.8" stroke-dasharray="1.5 1 1.1 0.3 1.4 0.5" opacity=".95" stroke-linecap="butt"/>
<path d="M188.4 89.7C186.9 79.4 188.4 70 192.5 64.6" stroke="#bc9872" stroke-width="0.7" stroke-dasharray="1.3 1.6" opacity=".6" stroke-linecap="butt" transform="translate(0.2 -0.6)"/>
<path d="M186.3 114C184.6 107.1 183.9 100.3 184.3 93.9" stroke="#a89058" stroke-width=".6" opacity=".85"/>
<path d="M184.3 93.9C185 79.2 190.6 66.8 199.4 61.2" stroke="#66482a" stroke-width="2.6" opacity=".7" stroke-linecap="round" stroke-dasharray="3.5 1 4.8 0.9"/>
<path d="M184.3 93.9C185 79.2 190.6 66.8 199.4 61.2" stroke="#b48a62" stroke-width="1.9" stroke-dasharray="1.6 1 1.9 0.6 1.3 1.2" opacity=".95" stroke-linecap="butt"/>
<path d="M184.3 93.9C185 79.2 190.6 66.8 199.4 61.2" stroke="#bc9872" stroke-width="0.8" stroke-dasharray="1.2 1.4" opacity=".6" stroke-linecap="butt" transform="translate(0.2 -0.1)"/>
<path d="M198.8 118.1C194.9 110.2 192.5 101.9 191.6 94.1" stroke="#c0a868" stroke-width=".6" opacity=".85"/>
<path d="M191.6 94.1C190 80.4 192.8 68 199.6 60.8" stroke="#66482a" stroke-width="2" opacity=".7" stroke-linecap="round" stroke-dasharray="5.3 1.1 4.7 0.3"/>
<path d="M191.6 94.1C190 80.4 192.8 68 199.6 60.8" stroke="#7a5230" stroke-width="1.5" stroke-dasharray="1.6 0.9 2.5 0.8 1 0.6" opacity=".95" stroke-linecap="butt"/>
<path d="M191.6 94.1C190 80.4 192.8 68 199.6 60.8" stroke="#bc9872" stroke-width="0.6" stroke-dasharray="1.1 1.7" opacity=".6" stroke-linecap="butt" transform="translate(-0.1 -0.5)"/>
<path d="M201.2 106.2C204.3 100.7 206.3 95.1 207.3 89.7" stroke="#c9b070" stroke-width=".6" opacity=".85"/>
<path d="M207.3 89.7C209.3 78.3 206.8 67.9 200.2 62.1" stroke="#6e4e2c" stroke-width="2.1" opacity=".7" stroke-linecap="round" stroke-dasharray="3.3 0.7 3.4 0.3"/>
<path d="M207.3 89.7C209.3 78.3 206.8 67.9 200.2 62.1" stroke="#a67a50" stroke-width="1.6" stroke-dasharray="0.9 0.6 2.1 0.6 1.2 1.2" opacity=".95" stroke-linecap="butt"/>
<path d="M207.3 89.7C209.3 78.3 206.8 67.9 200.2 62.1" stroke="#c4a27c" stroke-width="0.6" stroke-dasharray="0.8 1.4" opacity=".6" stroke-linecap="butt" transform="translate(-0.2 0.2)"/>
<path d="M187.7 102.2C183.6 93 182.2 84 182.9 76.1" stroke="#a89058" stroke-width=".6" opacity=".85"/>
<path d="M182.9 76.1C184.1 64.4 190.1 55.2 200 51.1" stroke="#785632" stroke-width="2.1" opacity=".7" stroke-linecap="round" stroke-dasharray="6.8 0.8 5 0.4"/>
<path d="M182.9 76.1C184.1 64.4 190.1 55.2 200 51.1" stroke="#855a36" stroke-width="1.6" stroke-dasharray="1.2 0.4 2.4 0.4 0.8 1" opacity=".95" stroke-linecap="butt"/>
<path d="M182.9 76.1C184.1 64.4 190.1 55.2 200 51.1" stroke="#bc9872" stroke-width="0.6" stroke-dasharray="1.2 1.5" opacity=".6" stroke-linecap="butt" transform="translate(0.7 0)"/>
<path d="M198.8 99.1C195.4 92.3 193.5 85.5 193.1 79.2" stroke="#9a8446" stroke-width=".6" opacity=".85"/>
<path d="M193.1 79.2C192.3 67.5 196.3 57.5 204.4 52.3" stroke="#785632" stroke-width="2.3" opacity=".7" stroke-linecap="round" stroke-dasharray="4.4 0.9 3.9 0.6"/>
<path d="M193.1 79.2C192.3 67.5 196.3 57.5 204.4 52.3" stroke="#9c6e44" stroke-width="1.7" stroke-dasharray="1.7 0.8 1.6 0.9 0.7 1.3" opacity=".95" stroke-linecap="butt"/>
<path d="M193.1 79.2C192.3 67.5 196.3 57.5 204.4 52.3" stroke="#c4a27c" stroke-width="0.7" stroke-dasharray="1 1.2" opacity=".6" stroke-linecap="butt" transform="translate(0.4 0.2)"/>
<path d="M190.7 95.4C187.4 86.7 186.7 78.6 188 71.8" stroke="#c9b070" stroke-width=".6" opacity=".85"/>
<path d="M188 71.8C190.1 61.9 196.7 54.8 206.5 52.6" stroke="#5e4226" stroke-width="1.9" opacity=".7" stroke-linecap="round" stroke-dasharray="7 0.5 3.8 1"/>
<path d="M188 71.8C190.1 61.9 196.7 54.8 206.5 52.6" stroke="#b99064" stroke-width="1.5" stroke-dasharray="1.1 0.8 1.7 0.9 1.2 1.2" opacity=".95" stroke-linecap="butt"/>
<path d="M188 71.8C190.1 61.9 196.7 54.8 206.5 52.6" stroke="#b48e68" stroke-width="0.6" stroke-dasharray="1 1.8" opacity=".6" stroke-linecap="butt" transform="translate(-0.2 0.2)"/>
<path d="M185.4 108C183.2 100.2 182.7 92.9 183.6 86.4" stroke="#729434" stroke-width=".6" opacity=".85"/>
<path d="M183.6 86.4C185.6 72 194.6 62.1 208.1 60.4" stroke="#6e4e2c" stroke-width="2.8" opacity=".7" stroke-linecap="round" stroke-dasharray="4.2 0.8 4 0.9"/>
<path d="M183.6 86.4C185.6 72 194.6 62.1 208.1 60.4" stroke="#946a46" stroke-width="2.1" stroke-dasharray="1.8 1 1.6 0.7 0.8 1.3" opacity=".95" stroke-linecap="butt"/>
<path d="M183.6 86.4C185.6 72 194.6 62.1 208.1 60.4" stroke="#b48e68" stroke-width="0.9" stroke-dasharray="0.8 1.1" opacity=".6" stroke-linecap="butt" transform="translate(-0.1 -0.7)"/>
<path d="M202.8 99.5C199.4 93.3 197.7 86.9 197.6 81.1" stroke="#a89058" stroke-width=".6" opacity=".85"/>
<path d="M197.6 81.1C197.4 72.6 200.6 65.4 206.5 61.4" stroke="#66482a" stroke-width="2.4" opacity=".7" stroke-linecap="round" stroke-dasharray="5.5 1 2.9 0.4"/>
<path d="M197.6 81.1C197.4 72.6 200.6 65.4 206.5 61.4" stroke="#b48a62" stroke-width="1.8" stroke-dasharray="1.5 1.1 1.7 0.3 1 1.1" opacity=".95" stroke-linecap="butt"/>
<path d="M197.6 81.1C197.4 72.6 200.6 65.4 206.5 61.4" stroke="#b48e68" stroke-width="0.7" stroke-dasharray="1 1.1" opacity=".6" stroke-linecap="butt" transform="translate(0.2 -0.5)"/>
<path d="M195.3 102.3C193.2 97.5 192.4 92.9 192.6 88.9" stroke="#c9b070" stroke-width=".6" opacity=".85"/>
<path d="M192.6 88.9C193 80.3 198.1 74.2 206.5 72.8" stroke="#5e4226" stroke-width="2.9" opacity=".7" stroke-linecap="round" stroke-dasharray="6 0.9 3.2 0.9"/>
<path d="M192.6 88.9C193 80.3 198.1 74.2 206.5 72.8" stroke="#ad8256" stroke-width="2.1" stroke-dasharray="1.7 0.5 1.3 0.7 1.3 0.6" opacity=".95" stroke-linecap="butt"/>
<path d="M192.6 88.9C193 80.3 198.1 74.2 206.5 72.8" stroke="#b48e68" stroke-width="0.9" stroke-dasharray="0.9 1.7" opacity=".6" stroke-linecap="butt" transform="translate(0.3 -0.4)"/>
<path d="M188 118.9C185.7 109.4 185.6 100.6 187.4 93.2" stroke="#557f26" stroke-width=".6" opacity=".85"/>
<path d="M187.4 93.2C190.6 79.5 199.9 70.3 212.9 68.6" stroke="#785632" stroke-width="2.9" opacity=".7" stroke-linecap="round" stroke-dasharray="3.5 0.6 2.2 0.6"/>
<path d="M187.4 93.2C190.6 79.5 199.9 70.3 212.9 68.6" stroke="#9c6e44" stroke-width="2.2" stroke-dasharray="1.7 0.9 1.9 0.5 1.1 0.7" opacity=".95" stroke-linecap="butt"/>
<path d="M187.4 93.2C190.6 79.5 199.9 70.3 212.9 68.6" stroke="#caa884" stroke-width="0.9" stroke-dasharray="0.7 1.5" opacity=".6" stroke-linecap="butt" transform="translate(0.4 -0.2)"/>
<path d="M200.1 111.8C198.5 106.5 198 101.7 198.5 97.5" stroke="#557f26" stroke-width=".6" opacity=".85"/>
<path d="M198.5 97.5C199.6 87.6 206.2 81.3 216.1 81" stroke="#66482a" stroke-width="2.8" opacity=".7" stroke-linecap="round" stroke-dasharray="5.4 0.5 2.2 0.7"/>
<path d="M198.5 97.5C199.6 87.6 206.2 81.3 216.1 81" stroke="#946a46" stroke-width="2.1" stroke-dasharray="1.4 1.1 1.5 0.5 1.1 1.3" opacity=".95" stroke-linecap="butt"/>
<path d="M198.5 97.5C199.6 87.6 206.2 81.3 216.1 81" stroke="#c4a27c" stroke-width="0.9" stroke-dasharray="0.9 1.5" opacity=".6" stroke-linecap="butt" transform="translate(-0.6 0.1)"/>
<path d="M187.1 99.8C188.4 95.2 190.5 91.3 193 88.3" stroke="#c0a868" stroke-width=".6" opacity=".85"/>
<path d="M193 88.3C197.8 82.5 204.3 79.9 210.6 81.6" stroke="#5e4226" stroke-width="2.5" opacity=".7" stroke-linecap="round" stroke-dasharray="3.2 1 2.3 0.5"/>
<path d="M193 88.3C197.8 82.5 204.3 79.9 210.6 81.6" stroke="#a67a50" stroke-width="1.9" stroke-dasharray="1.8 0.8 1.4 0.6 1.3 0.8" opacity=".95" stroke-linecap="butt"/>
<path d="M193 88.3C197.8 82.5 204.3 79.9 210.6 81.6" stroke="#c4a27c" stroke-width="0.7" stroke-dasharray="0.8 1" opacity=".6" stroke-linecap="butt" transform="translate(0.4 -0.5)"/>
<path d="M186.2 94.6C189.7 88.2 194.2 83.6 198.9 81.1" stroke="#a89058" stroke-width=".6" opacity=".85"/>
<path d="M198.9 81.1C205.6 77.4 213 77.8 219.1 82.4" stroke="#5e4226" stroke-width="2" opacity=".7" stroke-linecap="round" stroke-dasharray="6.2 1.2 3 1"/>
<path d="M198.9 81.1C205.6 77.4 213 77.8 219.1 82.4" stroke="#ad8256" stroke-width="1.5" stroke-dasharray="1.4 0.9 1.7 0.9 1.4 1.1" opacity=".95" stroke-linecap="butt"/>
<path d="M198.9 81.1C205.6 77.4 213 77.8 219.1 82.4" stroke="#caa884" stroke-width="0.6" stroke-dasharray="0.9 1" opacity=".6" stroke-linecap="butt" transform="translate(-0.1 -0.5)"/>
<path d="M192.8 97.3C195.1 93.5 197.8 90.7 200.5 88.8" stroke="#9a8446" stroke-width=".6" opacity=".85"/>
<path d="M200.5 88.8C206.8 84.5 213.7 85.1 219 90.7" stroke="#785632" stroke-width="2" opacity=".7" stroke-linecap="round" stroke-dasharray="6 1.2 4.8 0.8"/>
<path d="M200.5 88.8C206.8 84.5 213.7 85.1 219 90.7" stroke="#9c6e44" stroke-width="1.5" stroke-dasharray="0.9 0.6 1 0.8 1.2 1.1" opacity=".95" stroke-linecap="butt"/>
<path d="M200.5 88.8C206.8 84.5 213.7 85.1 219 90.7" stroke="#bc9872" stroke-width="0.6" stroke-dasharray="1 1.4" opacity=".6" stroke-linecap="butt" transform="translate(0.1 -0.5)"/>
<path d="M189.9 220.1L196.3 220.1L194.8 234.5L190.1 232.4Z" fill="#4d402b" opacity=".9"/>
<path d="M192.7 220.1L193.1 238.1" stroke="#4f4430" stroke-width="0.9"/>
<path d="M191.2 220.1L189.5 240" stroke="#4f4430" stroke-width="1.3"/>
<path d="M193 220.1L192.1 232.1" stroke="#5a4c34" stroke-width="1"/>
<path d="M192.5 220.1L192.6 239.5" stroke="#7d6a45" stroke-width="1.2"/>
<path d="M195.6 220.1L198.1 237.7" stroke="#8a7850" stroke-width="0.9"/>
<path d="M195.3 220.1L195.6 232.1" stroke="#5a4c34" stroke-width="1.1"/>
<path d="M190.5 220.1L189.1 231.9" stroke="#6b5a3c" stroke-width="0.9"/>
<path d="M189.2 183.7L197.2 184.4L197.1 221.1L189.1 221.7Z" fill="url(#wg)" stroke="none"/>
<path d="M189.1 203.9L197.1 203.7" stroke="#c98a2e" stroke-width=".9"/>
<rect x="190.3" y="198.4" width="4.1" height="6" fill="#eef0f2" stroke="none"/>
<path d="M209.8 122.3Q211.8 99.6 216.8 99.6" stroke="#855a36" stroke-width="0.6" opacity="0.8"/>
<path d="M210.6 151.1Q212.4 120.3 222.3 132.4" stroke="#a67a50" stroke-width="0.7" opacity="0.7"/>
<path d="M209.9 124.4Q213.9 95 220.6 122.9" stroke="#c9b070" stroke-width="0.7" opacity="0.7"/>
<path d="M210.9 163.4Q206.2 140.5 197 146" stroke="#b59a5a" stroke-width="0.5" opacity="0.8"/>
<path d="M209.8 122Q207.7 106.8 203.3 126.7" stroke="#a67a50" stroke-width="0.4" opacity="0.6"/>
<path d="M210.4 144.7Q211.9 124.6 217.9 147" stroke="#7a5230" stroke-width="0.4" opacity="0.5"/>
<path d="M208.8 187Q206.8 143 204.7 98.9" stroke="#a89058" stroke-width="1.1" opacity="0.6"/>
<path d="M209.6 187Q207.3 136.7 205 86.5" stroke="#c0a868" stroke-width="1.1" opacity="0.7"/>
<path d="M210.3 187Q208.8 139.3 207.5 91.6" stroke="#c0a868" stroke-width="1" opacity="0.6"/>
<path d="M211.1 187Q208.9 141.3 209.7 95.6" stroke="#c9b070" stroke-width="1" opacity="0.9"/>
<path d="M211.8 187Q210.9 140.5 208.5 94" stroke="#729434" stroke-width="1.1" opacity="0.8"/>
<path d="M212.6 187Q212.5 143.2 210.3 99.4" stroke="#7a922c" stroke-width="0.9" opacity="0.7"/>
<path d="M213.3 187Q212.6 146.5 210.4 105.9" stroke="#c9b070" stroke-width="0.9" opacity="0.7"/>
<path d="M214 187Q215.9 138.9 214.5 90.8" stroke="#b59a5a" stroke-width="1.1" opacity="0.8"/>
<path d="M211.1 107Q213.2 74.3 205.7 41.6" stroke="#a89058" stroke-width="0.6" opacity=".7"/>
<path d="M205.8 107Q204.4 70.4 212.2 33.9" stroke="#c9b070" stroke-width="0.5" opacity=".7"/>
<path d="M207.5 85.7Q213.2 78.6 216.8 138" stroke="#a67a50" stroke-width="1" opacity="0.8"/>
<path d="M216.6 114.7Q221.5 106.5 227.7 120.8" stroke="#a89058" stroke-width="0.8" opacity="0.6"/>
<path d="M216.3 70.1Q207 54.7 199.7 80.3" stroke="#9c6e44" stroke-width="0.7" opacity="0.6"/>
<path d="M203.5 75.5Q207.6 63.6 216.1 107.4" stroke="#ad8256" stroke-width="1" opacity="0.7"/>
<path d="M215.6 98.4Q220.1 89.7 231.2 104.1" stroke="#c0a868" stroke-width="0.7" opacity="0.5"/>
<path d="M218.5 97.5Q226.3 83.5 235.8 140.1" stroke="#a89058" stroke-width="0.7" opacity="0.8"/>
<path d="M204 109Q208.8 91.4 217.2 143.5" stroke="#a67a50" stroke-width="0.5" opacity="0.5"/>
<path d="M209 73.5Q212.5 68.3 218.1 85.6" stroke="#c9b070" stroke-width="0.9" opacity="0.7"/>
<path d="M211.1 109.5Q215.3 103.2 220.4 134.9" stroke="#7a5230" stroke-width="0.6" opacity="0.8"/>
<path d="M217.3 108.8Q222.7 92.9 225 155.2" stroke="#a89058" stroke-width="0.6" opacity="0.6"/>
<path d="M217.5 93.3C216.1 91.2 214.5 89.2 212.8 87.5" stroke="#557f26" stroke-width=".6" opacity=".85"/>
<path d="M212.8 87.5C210.2 84.8 207.4 82.9 205.3 82.2" stroke="#785632" stroke-width="2.5" opacity=".7" stroke-linecap="round" stroke-dasharray="3.7 0.4 2.3 1"/>
<path d="M212.8 87.5C210.2 84.8 207.4 82.9 205.3 82.2" stroke="#7a5230" stroke-width="1.8" stroke-dasharray="1.1 0.5 1.9 0.3 0.9 0.7" opacity=".95" stroke-linecap="butt"/>
<path d="M212.8 87.5C210.2 84.8 207.4 82.9 205.3 82.2" stroke="#caa884" stroke-width="0.7" stroke-dasharray="1.3 1.2" opacity=".6" stroke-linecap="butt" transform="translate(0.1 -0.6)"/>
<path d="M204.6 112.2C202 105.5 201 98.7 201.3 92.5" stroke="#c9b070" stroke-width=".6" opacity=".85"/>
<path d="M201.3 92.5C201.7 83.5 204.9 75.9 210.4 71.8" stroke="#66482a" stroke-width="2.1" opacity=".7" stroke-linecap="round" stroke-dasharray="6.7 0.3 3.9 0.9"/>
<path d="M201.3 92.5C201.7 83.5 204.9 75.9 210.4 71.8" stroke="#7a5230" stroke-width="1.6" stroke-dasharray="1.7 0.6 2.4 0.5 0.6 0.6" opacity=".95" stroke-linecap="butt"/>
<path d="M201.3 92.5C201.7 83.5 204.9 75.9 210.4 71.8" stroke="#b48e68" stroke-width="0.6" stroke-dasharray="1.3 1" opacity=".6" stroke-linecap="butt" transform="translate(-0.7 -0.3)"/>
<path d="M203.2 94.8C202.8 91.9 202.8 89 203.2 86.3" stroke="#c9b070" stroke-width=".6" opacity=".85"/>
<path d="M203.2 86.3C204 80.2 206.5 75 209.9 72.7" stroke="#5e4226" stroke-width="2.3" opacity=".7" stroke-linecap="round" stroke-dasharray="3.5 0.4 3.1 0.6"/>
<path d="M203.2 86.3C204 80.2 206.5 75 209.9 72.7" stroke="#a67a50" stroke-width="1.7" stroke-dasharray="1.4 0.5 1.4 0.7 1.1 1.3" opacity=".95" stroke-linecap="butt"/>
<path d="M203.2 86.3C204 80.2 206.5 75 209.9 72.7" stroke="#b48e68" stroke-width="0.7" stroke-dasharray="0.7 1.7" opacity=".6" stroke-linecap="butt" transform="translate(0 -0.5)"/>
<path d="M203 99.5C201.4 93.5 201 87.8 201.6 82.6" stroke="#557f26" stroke-width=".6" opacity=".85"/>
<path d="M201.6 82.6C202.8 72.6 207.6 64.7 214.8 61.5" stroke="#66482a" stroke-width="1.9" opacity=".7" stroke-linecap="round" stroke-dasharray="5.5 0.4 2.8 0.9"/>
<path d="M201.6 82.6C202.8 72.6 207.6 64.7 214.8 61.5" stroke="#ad8256" stroke-width="1.4" stroke-dasharray="0.9 1.2 1.8 0.4 0.6 1.1" opacity=".95" stroke-linecap="butt"/>
<path d="M201.6 82.6C202.8 72.6 207.6 64.7 214.8 61.5" stroke="#c4a27c" stroke-width="0.6" stroke-dasharray="1.1 1.5" opacity=".6" stroke-linecap="butt" transform="translate(-0.7 -0.1)"/>
<path d="M208.3 103.4C205.4 96.9 203.8 90.4 203.5 84.3" stroke="#b59a5a" stroke-width=".6" opacity=".85"/>
<path d="M203.5 84.3C202.8 71.8 207.5 61.1 216.3 56" stroke="#785632" stroke-width="2.8" opacity=".7" stroke-linecap="round" stroke-dasharray="5.6 0.9 4.1 0.3"/>
<path d="M203.5 84.3C202.8 71.8 207.5 61.1 216.3 56" stroke="#b48a62" stroke-width="2.1" stroke-dasharray="1.7 0.5 1.3 0.3 1 0.6" opacity=".95" stroke-linecap="butt"/>
<path d="M203.5 84.3C202.8 71.8 207.5 61.1 216.3 56" stroke="#caa884" stroke-width="0.8" stroke-dasharray="0.8 1.1" opacity=".6" stroke-linecap="butt" transform="translate(-0.4 -0.7)"/>
<path d="M210.6 93.1C208.3 87.7 207.2 82.1 207 76.9" stroke="#557f26" stroke-width=".6" opacity=".85"/>
<path d="M207 76.9C206.9 69.2 209.1 62.4 213.2 58.6" stroke="#6e4e2c" stroke-width="2.3" opacity=".7" stroke-linecap="round" stroke-dasharray="5.5 0.5 4.5 0.4"/>
<path d="M207 76.9C206.9 69.2 209.1 62.4 213.2 58.6" stroke="#b48a62" stroke-width="1.8" stroke-dasharray="1.1 1.2 2.2 0.3 0.8 0.9" opacity=".95" stroke-linecap="butt"/>
<path d="M207 76.9C206.9 69.2 209.1 62.4 213.2 58.6" stroke="#c4a27c" stroke-width="0.7" stroke-dasharray="1.1 1.6" opacity=".6" stroke-linecap="butt" transform="translate(-0.4 0.1)"/>
<path d="M210.4 108.5C208.3 102.1 207.3 95.7 207.3 89.7" stroke="#c0a868" stroke-width=".6" opacity=".85"/>
<path d="M207.3 89.7C207.3 76.7 211.9 65.6 219.8 60.3" stroke="#66482a" stroke-width="1.9" opacity=".7" stroke-linecap="round" stroke-dasharray="3.6 0.4 3.6 0.7"/>
<path d="M207.3 89.7C207.3 76.7 211.9 65.6 219.8 60.3" stroke="#9c6e44" stroke-width="1.4" stroke-dasharray="1 0.7 1.1 0.8 1.3 0.7" opacity=".95" stroke-linecap="butt"/>
<path d="M207.3 89.7C207.3 76.7 211.9 65.6 219.8 60.3" stroke="#caa884" stroke-width="0.6" stroke-dasharray="1.3 1.8" opacity=".6" stroke-linecap="butt" transform="translate(-0.3 0.2)"/>
<path d="M203.4 91.6C203.1 87.3 203.5 83.1 204.4 79.4" stroke="#c9b070" stroke-width=".6" opacity=".85"/>
<path d="M204.4 79.4C206.5 71.6 211 65.6 216.6 63.7" stroke="#66482a" stroke-width="2.8" opacity=".7" stroke-linecap="round" stroke-dasharray="3.3 0.6 2.9 0.8"/>
<path d="M204.4 79.4C206.5 71.6 211 65.6 216.6 63.7" stroke="#ad8256" stroke-width="2.1" stroke-dasharray="1.2 0.8 1.8 0.7 0.9 1" opacity=".95" stroke-linecap="butt"/>
<path d="M204.4 79.4C206.5 71.6 211 65.6 216.6 63.7" stroke="#caa884" stroke-width="0.8" stroke-dasharray="0.9 1.4" opacity=".6" stroke-linecap="butt" transform="translate(-0.3 -0.4)"/>
<path d="M209.2 121.6C206.2 110.9 205.5 100.4 206.8 91.1" stroke="#557f26" stroke-width=".6" opacity=".85"/>
<path d="M206.8 91.1C208.8 76.9 215.5 65.3 225.4 60" stroke="#66482a" stroke-width="2.7" opacity=".7" stroke-linecap="round" stroke-dasharray="3.8 0.6 4.8 0.6"/>
<path d="M206.8 91.1C208.8 76.9 215.5 65.3 225.4 60" stroke="#a67a50" stroke-width="2" stroke-dasharray="1.5 1 2 0.4 1.5 1.2" opacity=".95" stroke-linecap="butt"/>
<path d="M206.8 91.1C208.8 76.9 215.5 65.3 225.4 60" stroke="#caa884" stroke-width="0.8" stroke-dasharray="1.4 0.9" opacity=".6" stroke-linecap="butt" transform="translate(0.7 -0.2)"/>
<path d="M208.4 113.7C205.6 105.7 204.4 97.9 204.7 90.8" stroke="#9a8446" stroke-width=".6" opacity=".85"/>
<path d="M204.7 90.8C205.3 77.6 211.1 66.7 220.6 61.8" stroke="#6e4e2c" stroke-width="1.9" opacity=".7" stroke-linecap="round" stroke-dasharray="5.6 1.1 2.3 0.7"/>
<path d="M204.7 90.8C205.3 77.6 211.1 66.7 220.6 61.8" stroke="#7a5230" stroke-width="1.4" stroke-dasharray="1.4 0.9 1.8 0.6 0.9 1" opacity=".95" stroke-linecap="butt"/>
<path d="M204.7 90.8C205.3 77.6 211.1 66.7 220.6 61.8" stroke="#bc9872" stroke-width="0.6" stroke-dasharray="1.2 1.2" opacity=".6" stroke-linecap="butt" transform="translate(-0.5 -0.3)"/>
<path d="M208.4 121.8C202.9 109.6 200.9 97.8 201.9 87.4" stroke="#557f26" stroke-width=".6" opacity=".85"/>
<path d="M201.9 87.4C203.4 71.7 211.7 59.4 225.4 54.2" stroke="#6e4e2c" stroke-width="2" opacity=".7" stroke-linecap="round" stroke-dasharray="5.8 1.2 2.6 0.8"/>
<path d="M201.9 87.4C203.4 71.7 211.7 59.4 225.4 54.2" stroke="#946a46" stroke-width="1.5" stroke-dasharray="1.4 0.5 1.1 0.6 1.2 1.2" opacity=".95" stroke-linecap="butt"/>
<path d="M201.9 87.4C203.4 71.7 211.7 59.4 225.4 54.2" stroke="#c4a27c" stroke-width="0.6" stroke-dasharray="0.8 0.8" opacity=".6" stroke-linecap="butt" transform="translate(0 -0)"/>
<path d="M204.7 113.3C202.8 104.9 202.3 96.8 203 89.3" stroke="#9a8446" stroke-width=".6" opacity=".85"/>
<path d="M203 89.3C204.6 72.7 212.1 59.3 223.3 53.8" stroke="#6e4e2c" stroke-width="2.9" opacity=".7" stroke-linecap="round" stroke-dasharray="3.1 0.4 4.8 1"/>
<path d="M203 89.3C204.6 72.7 212.1 59.3 223.3 53.8" stroke="#855a36" stroke-width="2.2" stroke-dasharray="1.3 0.5 1.6 0.5 1.3 1.3" opacity=".95" stroke-linecap="butt"/>
<path d="M203 89.3C204.6 72.7 212.1 59.3 223.3 53.8" stroke="#bc9872" stroke-width="0.9" stroke-dasharray="0.6 0.9" opacity=".6" stroke-linecap="butt" transform="translate(-0.5 -0.7)"/>
<path d="M216.4 114.3C213 105.9 211.6 97.6 211.8 90.2" stroke="#c9b070" stroke-width=".6" opacity=".85"/>
<path d="M211.8 90.2C212.4 76.3 218.9 65.1 229.9 60.3" stroke="#5e4226" stroke-width="2.5" opacity=".7" stroke-linecap="round" stroke-dasharray="6 1.1 3.3 0.5"/>
<path d="M211.8 90.2C212.4 76.3 218.9 65.1 229.9 60.3" stroke="#9c6e44" stroke-width="1.9" stroke-dasharray="1 1 2.3 0.4 1.1 0.7" opacity=".95" stroke-linecap="butt"/>
<path d="M211.8 90.2C212.4 76.3 218.9 65.1 229.9 60.3" stroke="#b48e68" stroke-width="0.7" stroke-dasharray="1.2 1.6" opacity=".6" stroke-linecap="butt" transform="translate(-0.4 -0.7)"/>
<path d="M205.1 109.6C204 100.4 205 91.9 207.4 84.7" stroke="#c9b070" stroke-width=".6" opacity=".85"/>
<path d="M207.4 84.7C211.5 72.2 220 63.5 230.7 61.4" stroke="#66482a" stroke-width="2.7" opacity=".7" stroke-linecap="round" stroke-dasharray="5.1 0.6 2.2 0.5"/>
<path d="M207.4 84.7C211.5 72.2 220 63.5 230.7 61.4" stroke="#9c6e44" stroke-width="2" stroke-dasharray="1 0.6 2 0.7 1.2 1.3" opacity=".95" stroke-linecap="butt"/>
<path d="M207.4 84.7C211.5 72.2 220 63.5 230.7 61.4" stroke="#caa884" stroke-width="0.8" stroke-dasharray="1.4 1.8" opacity=".6" stroke-linecap="butt" transform="translate(0.6 -0.7)"/>
<path d="M214.8 112.8C210.9 103.7 209.7 95.1 210.8 87.8" stroke="#a89058" stroke-width=".6" opacity=".85"/>
<path d="M210.8 87.8C212.5 76.4 219.6 68.2 230.6 65.5" stroke="#785632" stroke-width="2.1" opacity=".7" stroke-linecap="round" stroke-dasharray="3.2 0.8 2.3 0.3"/>
<path d="M210.8 87.8C212.5 76.4 219.6 68.2 230.6 65.5" stroke="#b99064" stroke-width="1.6" stroke-dasharray="1 1.1 2.4 0.6 0.8 0.6" opacity=".95" stroke-linecap="butt"/>
<path d="M210.8 87.8C212.5 76.4 219.6 68.2 230.6 65.5" stroke="#bc9872" stroke-width="0.6" stroke-dasharray="1.1 1.3" opacity=".6" stroke-linecap="butt" transform="translate(-0.3 -0.7)"/>
<path d="M202.7 116.7C201.8 107.4 202.9 99.1 205.5 92.3" stroke="#729434" stroke-width=".6" opacity=".85"/>
<path d="M205.5 92.3C210.6 79.4 221.2 71.8 234.4 72.5" stroke="#66482a" stroke-width="2.3" opacity=".7" stroke-linecap="round" stroke-dasharray="6.1 0.6 3.3 0.9"/>
<path d="M205.5 92.3C210.6 79.4 221.2 71.8 234.4 72.5" stroke="#a67a50" stroke-width="1.7" stroke-dasharray="1.4 0.5 1.7 0.7 0.9 0.5" opacity=".95" stroke-linecap="butt"/>
<path d="M205.5 92.3C210.6 79.4 221.2 71.8 234.4 72.5" stroke="#caa884" stroke-width="0.7" stroke-dasharray="0.7 1.5" opacity=".6" stroke-linecap="butt" transform="translate(-0.7 -0.1)"/>
<path d="M211.3 95.6C212.2 89.3 214.4 84.3 217.4 80.7" stroke="#557f26" stroke-width=".6" opacity=".85"/>
<path d="M217.4 80.7C222.3 75 229.3 73.1 236.6 76.1" stroke="#785632" stroke-width="1.8" opacity=".7" stroke-linecap="round" stroke-dasharray="6.6 0.9 3.6 0.8"/>
<path d="M217.4 80.7C222.3 75 229.3 73.1 236.6 76.1" stroke="#a67a50" stroke-width="1.3" stroke-dasharray="1 0.8 2.3 0.4 0.8 1.2" opacity=".95" stroke-linecap="butt"/>
<path d="M217.4 80.7C222.3 75 229.3 73.1 236.6 76.1" stroke="#b48e68" stroke-width="0.5" stroke-dasharray="1.2 1.2" opacity=".6" stroke-linecap="butt" transform="translate(0.5 -0.3)"/>
<path d="M219.3 114C218.2 109.4 218.2 105.2 218.9 101.5" stroke="#c9b070" stroke-width=".6" opacity=".85"/>
<path d="M218.9 101.5C220.6 93.5 226.1 88.2 233.8 87.7" stroke="#785632" stroke-width="2.5" opacity=".7" stroke-linecap="round" stroke-dasharray="6 0.7 2.6 0.9"/>
<path d="M218.9 101.5C220.6 93.5 226.1 88.2 233.8 87.7" stroke="#b99064" stroke-width="1.9" stroke-dasharray="1.7 0.8 2.4 0.6 1.3 0.5" opacity=".95" stroke-linecap="butt"/>
<path d="M218.9 101.5C220.6 93.5 226.1 88.2 233.8 87.7" stroke="#b48e68" stroke-width="0.7" stroke-dasharray="1.3 1.5" opacity=".6" stroke-linecap="butt" transform="translate(0.7 -0.1)"/>
<path d="M214.4 112.1C215.2 107.7 216.6 103.8 218.5 100.5" stroke="#c9b070" stroke-width=".6" opacity=".85"/>
<path d="M218.5 100.5C223.4 92.2 231.4 88.1 239.5 90.1" stroke="#5e4226" stroke-width="2.4" opacity=".7" stroke-linecap="round" stroke-dasharray="6.1 0.5 2.1 0.3"/>
<path d="M218.5 100.5C223.4 92.2 231.4 88.1 239.5 90.1" stroke="#a67a50" stroke-width="1.8" stroke-dasharray="1 0.7 2.4 0.9 0.9 1.1" opacity=".95" stroke-linecap="butt"/>
<path d="M218.5 100.5C223.4 92.2 231.4 88.1 239.5 90.1" stroke="#b48e68" stroke-width="0.7" stroke-dasharray="0.9 0.9" opacity=".6" stroke-linecap="butt" transform="translate(-0.4 0.2)"/>
<path d="M208.1 220.7L214.8 220.7L214.2 235.3L208.2 233.1Z" fill="#4d402b" opacity=".9"/>
<path d="M210 220.7L209.2 240.6" stroke="#7d6a45" stroke-width="1.3"/>
<path d="M213.2 220.7L214 235.1" stroke="#4f4430" stroke-width="0.9"/>
<path d="M211.7 220.7L212.4 234.8" stroke="#7d6a45" stroke-width="1.3"/>
<path d="M213.6 220.7L214.8 238.4" stroke="#5a4c34" stroke-width="1.2"/>
<path d="M208.9 220.7L206.7 235.8" stroke="#4f4430" stroke-width="1.1"/>
<path d="M211.2 220.7L211.7 238.3" stroke="#4f4430" stroke-width="0.9"/>
<path d="M209.2 220.7L207.5 238.9" stroke="#7d6a45" stroke-width="1"/>
<path d="M207.5 184L215.8 184.1L215.6 221.7L207.3 221.3Z" fill="url(#wg)" stroke="none"/>
<path d="M207.3 206.7L215.6 206.4" stroke="#c98a2e" stroke-width=".9"/>
<rect x="208.1" y="197.5" width="3.5" height="7" fill="#eef0f2" stroke="none"/>
<path d="M247.7 163.2Q250.5 141.9 257.2 149.4" stroke="#c9b070" stroke-width="0.6" opacity="0.8"/>
<path d="M247.7 163.8Q245.7 138.9 237.5 143.6" stroke="#9c6e44" stroke-width="0.6" opacity="0.8"/>
<path d="M247.7 149.5Q246.5 121 236 133.7" stroke="#9a8446" stroke-width="0.6" opacity="0.5"/>
<path d="M247.6 141.4Q250.5 124.8 261.6 122.6" stroke="#7a5230" stroke-width="0.6" opacity="0.6"/>
<path d="M247.7 152.6Q249.6 133.8 256.7 149.8" stroke="#b99064" stroke-width="0.7" opacity="0.5"/>
<path d="M247.7 162.3Q253.3 126.3 259.3 122.4" stroke="#b99064" stroke-width="0.8" opacity="0.5"/>
<path d="M245.2 178.4Q242.8 142 240.4 105.6" stroke="#c9b070" stroke-width="0.9" opacity="0.9"/>
<path d="M245.9 178.4Q245.3 134.8 242.3 91.2" stroke="#7a922c" stroke-width="1" opacity="0.8"/>
<path d="M246.6 178.4Q243.9 134.8 244.7 91.3" stroke="#9a8446" stroke-width="1.1" opacity="0.6"/>
<path d="M247.4 178.4Q248.4 139.8 246.8 101.2" stroke="#729434" stroke-width="1.1" opacity="0.6"/>
<path d="M248.1 178.4Q249.5 133.3 249.1 88.3" stroke="#86993e" stroke-width="1.1" opacity="0.7"/>
<path d="M248.9 178.4Q250.7 142.7 249.6 107" stroke="#c0a868" stroke-width="1" opacity="0.6"/>
<path d="M249.6 178.4Q249.9 130.2 251.5 82.1" stroke="#c9b070" stroke-width="1.2" opacity="0.6"/>
<path d="M250.3 178.4Q251.1 137.3 253.4 96.1" stroke="#47721f" stroke-width="0.7" opacity="0.6"/>
<path d="M246 107Q245.9 69.3 250.1 31.7" stroke="#a89058" stroke-width="0.6" opacity=".7"/>
<path d="M248.2 107Q248.3 70.3 251.7 33.5" stroke="#a89058" stroke-width="0.6" opacity=".7"/>
<path d="M243 77.6Q237.5 67.6 234.8 87.6" stroke="#7a5230" stroke-width="0.7" opacity="0.6"/>
<path d="M252.2 87.6Q246 71.8 238.5 94.7" stroke="#b48a62" stroke-width="0.9" opacity="0.6"/>
<path d="M251.2 111.4Q260.9 98.4 264.4 149" stroke="#7a5230" stroke-width="0.9" opacity="0.8"/>
<path d="M243 86.5Q251.5 73.8 260.3 108.5" stroke="#9a8446" stroke-width="0.8" opacity="0.6"/>
<path d="M243.6 75.2Q236.3 59.7 229.9 93.9" stroke="#b99064" stroke-width="0.9" opacity="0.6"/>
<path d="M249.5 111.8Q259.1 105.3 263.7 147.3" stroke="#946a46" stroke-width="0.9" opacity="0.6"/>
<path d="M246.8 87.4Q255.5 74.3 257.6 137" stroke="#c0a868" stroke-width="0.9" opacity="0.6"/>
<path d="M252.2 71Q247.8 56.4 244.4 91.5" stroke="#a89058" stroke-width="0.5" opacity="0.6"/>
<path d="M253 102.4Q243.3 90.2 232.1 111.9" stroke="#9a8446" stroke-width="0.7" opacity="0.6"/>
<path d="M253.2 108.6Q259.2 95.5 268.3 122.6" stroke="#9a8446" stroke-width="1" opacity="0.5"/>
<path d="M253 111.2C252.6 106.8 251.8 102.5 250.8 98.4" stroke="#c9b070" stroke-width=".6" opacity=".85"/>
<path d="M250.8 98.4C248.5 88.9 244.9 80.6 241 76.5" stroke="#785632" stroke-width="2" opacity=".7" stroke-linecap="round" stroke-dasharray="5.7 1.2 3.1 1"/>
<path d="M250.8 98.4C248.5 88.9 244.9 80.6 241 76.5" stroke="#7a5230" stroke-width="1.5" stroke-dasharray="1.1 0.7 1.7 0.6 0.6 1.1" opacity=".95" stroke-linecap="butt"/>
<path d="M250.8 98.4C248.5 88.9 244.9 80.6 241 76.5" stroke="#caa884" stroke-width="0.6" stroke-dasharray="0.7 1.7" opacity=".6" stroke-linecap="butt" transform="translate(0.4 -0.1)"/>
<path d="M256.7 116.1C258 108.8 258 101.6 256.9 95.2" stroke="#b59a5a" stroke-width=".6" opacity=".85"/>
<path d="M256.9 95.2C255.2 85.7 251.3 77.8 245.8 73.9" stroke="#5e4226" stroke-width="2.3" opacity=".7" stroke-linecap="round" stroke-dasharray="5.4 0.6 3.2 1"/>
<path d="M256.9 95.2C255.2 85.7 251.3 77.8 245.8 73.9" stroke="#9c6e44" stroke-width="1.7" stroke-dasharray="1.7 0.8 1.2 0.4 0.9 1.1" opacity=".95" stroke-linecap="butt"/>
<path d="M256.9 95.2C255.2 85.7 251.3 77.8 245.8 73.9" stroke="#c4a27c" stroke-width="0.7" stroke-dasharray="1 1.7" opacity=".6" stroke-linecap="butt" transform="translate(0.3 0.2)"/>
<path d="M243.1 103.2C241.4 98.8 240.4 94.3 240.1 90.1" stroke="#a89058" stroke-width=".6" opacity=".85"/>
<path d="M240.1 90.1C239.6 81.5 242.1 73.9 246.9 69.9" stroke="#6e4e2c" stroke-width="2.9" opacity=".7" stroke-linecap="round" stroke-dasharray="4.3 0.6 2.8 0.9"/>
<path d="M240.1 90.1C239.6 81.5 242.1 73.9 246.9 69.9" stroke="#9c6e44" stroke-width="2.2" stroke-dasharray="1.8 1 1.5 0.8 0.8 1" opacity=".95" stroke-linecap="butt"/>
<path d="M240.1 90.1C239.6 81.5 242.1 73.9 246.9 69.9" stroke="#caa884" stroke-width="0.9" stroke-dasharray="1.1 1.3" opacity=".6" stroke-linecap="butt" transform="translate(0.6 0.1)"/>
<path d="M240.4 104.7C239.7 99.5 239.7 94.4 240.3 89.6" stroke="#9a8446" stroke-width=".6" opacity=".85"/>
<path d="M240.3 89.6C241.4 80.1 244.8 72.1 249.4 68.1" stroke="#66482a" stroke-width="2.5" opacity=".7" stroke-linecap="round" stroke-dasharray="5.8 0.3 3.8 0.4"/>
<path d="M240.3 89.6C241.4 80.1 244.8 72.1 249.4 68.1" stroke="#7a5230" stroke-width="1.8" stroke-dasharray="1.1 0.5 2.4 0.6 1.3 0.7" opacity=".95" stroke-linecap="butt"/>
<path d="M240.3 89.6C241.4 80.1 244.8 72.1 249.4 68.1" stroke="#b48e68" stroke-width="0.7" stroke-dasharray="1.1 0.9" opacity=".6" stroke-linecap="butt" transform="translate(-0 -0)"/>
<path d="M246.5 120.4C240.7 110.3 237.8 100 237.6 90.5" stroke="#a89058" stroke-width=".6" opacity=".85"/>
<path d="M237.6 90.5C237.2 77.5 241.8 66.2 250.8 59.8" stroke="#785632" stroke-width="2.7" opacity=".7" stroke-linecap="round" stroke-dasharray="4.8 1.1 3.2 1"/>
<path d="M237.6 90.5C237.2 77.5 241.8 66.2 250.8 59.8" stroke="#b48a62" stroke-width="2" stroke-dasharray="1.8 0.4 2.3 0.8 0.9 1" opacity=".95" stroke-linecap="butt"/>
<path d="M237.6 90.5C237.2 77.5 241.8 66.2 250.8 59.8" stroke="#caa884" stroke-width="0.8" stroke-dasharray="0.9 1.7" opacity=".6" stroke-linecap="butt" transform="translate(0.5 -0.5)"/>
<path d="M241.1 116.3C237.1 108.1 234.9 100 234.3 92.3" stroke="#c0a868" stroke-width=".6" opacity=".85"/>
<path d="M234.3 92.3C232.8 75.3 238.9 60.8 251.1 53.9" stroke="#5e4226" stroke-width="2.3" opacity=".7" stroke-linecap="round" stroke-dasharray="5.9 0.6 4.8 0.4"/>
<path d="M234.3 92.3C232.8 75.3 238.9 60.8 251.1 53.9" stroke="#855a36" stroke-width="1.7" stroke-dasharray="1.4 1 2 0.8 0.8 0.6" opacity=".95" stroke-linecap="butt"/>
<path d="M234.3 92.3C232.8 75.3 238.9 60.8 251.1 53.9" stroke="#caa884" stroke-width="0.7" stroke-dasharray="1 1.6" opacity=".6" stroke-linecap="butt" transform="translate(-0.3 0.2)"/>
<path d="M258 115.7C262.2 108.1 264.8 100.4 265.7 93.1" stroke="#729434" stroke-width=".6" opacity=".85"/>
<path d="M265.7 93.1C267.3 79.8 263.6 67.9 255.2 61.3" stroke="#6e4e2c" stroke-width="3" opacity=".7" stroke-linecap="round" stroke-dasharray="3.4 1.1 4.4 0.8"/>
<path d="M265.7 93.1C267.3 79.8 263.6 67.9 255.2 61.3" stroke="#7a5230" stroke-width="2.2" stroke-dasharray="1 0.8 2.3 0.9 1.4 0.6" opacity=".95" stroke-linecap="butt"/>
<path d="M265.7 93.1C267.3 79.8 263.6 67.9 255.2 61.3" stroke="#c4a27c" stroke-width="0.9" stroke-dasharray="1 1.2" opacity=".6" stroke-linecap="butt" transform="translate(-0.5 -0.6)"/>
<path d="M246.5 108.7C242.3 100.7 240.2 92.7 239.9 85.4" stroke="#c9b070" stroke-width=".6" opacity=".85"/>
<path d="M239.9 85.4C239.3 72.4 244.4 61.5 254 56" stroke="#5e4226" stroke-width="2.1" opacity=".7" stroke-linecap="round" stroke-dasharray="4.5 1.2 4.9 0.4"/>
<path d="M239.9 85.4C239.3 72.4 244.4 61.5 254 56" stroke="#946a46" stroke-width="1.6" stroke-dasharray="1.8 0.7 1.9 0.5 0.6 0.7" opacity=".95" stroke-linecap="butt"/>
<path d="M239.9 85.4C239.3 72.4 244.4 61.5 254 56" stroke="#c4a27c" stroke-width="0.6" stroke-dasharray="1.4 1.3" opacity=".6" stroke-linecap="butt" transform="translate(-0.2 0.1)"/>
<path d="M257.2 97.3C252.8 92 250.2 86.4 249.2 81.1" stroke="#c9b070" stroke-width=".6" opacity=".85"/>
<path d="M249.2 81.1C247.5 72.3 250.3 64.3 257.3 59.6" stroke="#6e4e2c" stroke-width="2.2" opacity=".7" stroke-linecap="round" stroke-dasharray="4.2 1.2 2.7 1"/>
<path d="M249.2 81.1C247.5 72.3 250.3 64.3 257.3 59.6" stroke="#ad8256" stroke-width="1.6" stroke-dasharray="1.2 0.6 1.1 0.6 1.2 1.2" opacity=".95" stroke-linecap="butt"/>
<path d="M249.2 81.1C247.5 72.3 250.3 64.3 257.3 59.6" stroke="#caa884" stroke-width="0.7" stroke-dasharray="1.1 1.5" opacity=".6" stroke-linecap="butt" transform="translate(0.6 0.3)"/>
<path d="M240.4 104.6C237.4 96.5 236.2 88.8 236.6 81.9" stroke="#c0a868" stroke-width=".6" opacity=".85"/>
<path d="M236.6 81.9C237.5 67.6 245.5 56.9 258.4 53.8" stroke="#66482a" stroke-width="2.6" opacity=".7" stroke-linecap="round" stroke-dasharray="4.4 0.9 3.6 0.4"/>
<path d="M236.6 81.9C237.5 67.6 245.5 56.9 258.4 53.8" stroke="#b99064" stroke-width="2" stroke-dasharray="1.8 1.1 1.4 0.4 0.7 1" opacity=".95" stroke-linecap="butt"/>
<path d="M236.6 81.9C237.5 67.6 245.5 56.9 258.4 53.8" stroke="#bc9872" stroke-width="0.8" stroke-dasharray="1.1 1.2" opacity=".6" stroke-linecap="butt" transform="translate(0.7 -0.8)"/>
<path d="M255.3 119.6C250.3 111.6 247.4 103.5 246.3 95.9" stroke="#729434" stroke-width=".6" opacity=".85"/>
<path d="M246.3 95.9C244.1 81.2 248.9 68.1 259.5 61.1" stroke="#5e4226" stroke-width="2.6" opacity=".7" stroke-linecap="round" stroke-dasharray="7 1.2 3.9 0.8"/>
<path d="M246.3 95.9C244.1 81.2 248.9 68.1 259.5 61.1" stroke="#855a36" stroke-width="1.9" stroke-dasharray="1.2 0.7 1.2 0.9 0.9 1" opacity=".95" stroke-linecap="butt"/>
<path d="M246.3 95.9C244.1 81.2 248.9 68.1 259.5 61.1" stroke="#caa884" stroke-width="0.8" stroke-dasharray="0.7 0.9" opacity=".6" stroke-linecap="butt" transform="translate(0.1 0.1)"/>
<path d="M250.1 104.2C247.9 99.2 246.6 94.3 246.2 89.8" stroke="#b59a5a" stroke-width=".6" opacity=".85"/>
<path d="M246.2 89.8C245.2 78.1 249.9 68.4 258.9 64.4" stroke="#6e4e2c" stroke-width="2" opacity=".7" stroke-linecap="round" stroke-dasharray="3.9 1 2.7 0.9"/>
<path d="M246.2 89.8C245.2 78.1 249.9 68.4 258.9 64.4" stroke="#b99064" stroke-width="1.5" stroke-dasharray="1.6 1.1 1.9 0.6 1 0.5" opacity=".95" stroke-linecap="butt"/>
<path d="M246.2 89.8C245.2 78.1 249.9 68.4 258.9 64.4" stroke="#c4a27c" stroke-width="0.6" stroke-dasharray="1 1.3" opacity=".6" stroke-linecap="butt" transform="translate(0.6 -0.1)"/>
<path d="M245.8 93.8C243.7 88.3 243 83 243.3 78.3" stroke="#9a8446" stroke-width=".6" opacity=".85"/>
<path d="M243.3 78.3C244.1 69.1 249.2 62.2 257.2 60" stroke="#66482a" stroke-width="1.8" opacity=".7" stroke-linecap="round" stroke-dasharray="4 0.4 2.9 0.5"/>
<path d="M243.3 78.3C244.1 69.1 249.2 62.2 257.2 60" stroke="#ad8256" stroke-width="1.3" stroke-dasharray="1.5 0.7 1.3 0.3 0.7 1.3" opacity=".95" stroke-linecap="butt"/>
<path d="M243.3 78.3C244.1 69.1 249.2 62.2 257.2 60" stroke="#caa884" stroke-width="0.5" stroke-dasharray="1.3 1.6" opacity=".6" stroke-linecap="butt" transform="translate(-0.3 -0.8)"/>
<path d="M243.1 103.9C242.6 98.6 243.1 93.7 244.3 89.4" stroke="#9a8446" stroke-width=".6" opacity=".85"/>
<path d="M244.3 89.4C246.9 79.7 253.4 73 261.5 71.8" stroke="#5e4226" stroke-width="2.6" opacity=".7" stroke-linecap="round" stroke-dasharray="4 0.7 4.1 0.8"/>
<path d="M244.3 89.4C246.9 79.7 253.4 73 261.5 71.8" stroke="#ad8256" stroke-width="1.9" stroke-dasharray="1 0.5 2.1 0.9 0.9 0.7" opacity=".95" stroke-linecap="butt"/>
<path d="M244.3 89.4C246.9 79.7 253.4 73 261.5 71.8" stroke="#bc9872" stroke-width="0.8" stroke-dasharray="0.8 1.2" opacity=".6" stroke-linecap="butt" transform="translate(0.3 -0.3)"/>
<path d="M258.3 120.4C254.1 113.9 251.6 107.3 250.5 100.9" stroke="#a89058" stroke-width=".6" opacity=".85"/>
<path d="M250.5 100.9C248.6 89.2 251.9 78.7 259.9 72.7" stroke="#5e4226" stroke-width="2" opacity=".7" stroke-linecap="round" stroke-dasharray="5.7 0.7 4.4 0.5"/>
<path d="M250.5 100.9C248.6 89.2 251.9 78.7 259.9 72.7" stroke="#b48a62" stroke-width="1.5" stroke-dasharray="0.9 0.5 1.7 0.7 0.6 0.7" opacity=".95" stroke-linecap="butt"/>
<path d="M250.5 100.9C248.6 89.2 251.9 78.7 259.9 72.7" stroke="#c4a27c" stroke-width="0.6" stroke-dasharray="1.2 1.6" opacity=".6" stroke-linecap="butt" transform="translate(-0.6 0.1)"/>
<path d="M244.6 96.5C245.2 92.5 246.5 89.3 248.2 86.9" stroke="#729434" stroke-width=".6" opacity=".85"/>
<path d="M248.2 86.9C251.7 82.1 256.9 80.5 262.4 82.7" stroke="#66482a" stroke-width="2.1" opacity=".7" stroke-linecap="round" stroke-dasharray="4.8 0.3 2.3 0.8"/>
<path d="M248.2 86.9C251.7 82.1 256.9 80.5 262.4 82.7" stroke="#b99064" stroke-width="1.5" stroke-dasharray="1.4 0.5 2.4 0.7 0.7 0.8" opacity=".95" stroke-linecap="butt"/>
<path d="M248.2 86.9C251.7 82.1 256.9 80.5 262.4 82.7" stroke="#caa884" stroke-width="0.6" stroke-dasharray="0.6 0.8" opacity=".6" stroke-linecap="butt" transform="translate(-0.2 0.2)"/>
<path d="M254.4 118.7C252 112.6 251.5 107 252.6 102.4" stroke="#557f26" stroke-width=".6" opacity=".85"/>
<path d="M252.6 102.4C254.1 96 258.7 91.5 265.5 90.3" stroke="#6e4e2c" stroke-width="2.7" opacity=".7" stroke-linecap="round" stroke-dasharray="4.2 0.5 4.2 0.4"/>
<path d="M252.6 102.4C254.1 96 258.7 91.5 265.5 90.3" stroke="#a67a50" stroke-width="2" stroke-dasharray="1.3 0.9 1.4 0.5 1.1 1" opacity=".95" stroke-linecap="butt"/>
<path d="M252.6 102.4C254.1 96 258.7 91.5 265.5 90.3" stroke="#b48e68" stroke-width="0.8" stroke-dasharray="0.9 1.4" opacity=".6" stroke-linecap="butt" transform="translate(-0.6 -0.5)"/>
<path d="M246.6 106.2C246.7 99.8 248.2 94.5 250.8 90.7" stroke="#c0a868" stroke-width=".6" opacity=".85"/>
<path d="M250.8 90.7C254.6 85.1 260.7 82.7 267.8 84.5" stroke="#785632" stroke-width="2.2" opacity=".7" stroke-linecap="round" stroke-dasharray="4.2 1 2.1 0.5"/>
<path d="M250.8 90.7C254.6 85.1 260.7 82.7 267.8 84.5" stroke="#a67a50" stroke-width="1.6" stroke-dasharray="1.5 0.6 1.7 0.5 0.9 0.8" opacity=".95" stroke-linecap="butt"/>
<path d="M250.8 90.7C254.6 85.1 260.7 82.7 267.8 84.5" stroke="#bc9872" stroke-width="0.7" stroke-dasharray="1.2 1" opacity=".6" stroke-linecap="butt" transform="translate(-0.4 0.1)"/>
<path d="M252.7 99.7C254.5 97.4 256.5 95.7 258.5 94.6" stroke="#b59a5a" stroke-width=".6" opacity=".85"/>
<path d="M258.5 94.6C262.7 92.4 267.1 92.6 270.3 95.5" stroke="#785632" stroke-width="2.3" opacity=".7" stroke-linecap="round" stroke-dasharray="6.2 0.5 3 0.4"/>
<path d="M258.5 94.6C262.7 92.4 267.1 92.6 270.3 95.5" stroke="#855a36" stroke-width="1.7" stroke-dasharray="1.3 0.7 1.4 0.6 1.2 1.3" opacity=".95" stroke-linecap="butt"/>
<path d="M258.5 94.6C262.7 92.4 267.1 92.6 270.3 95.5" stroke="#b48e68" stroke-width="0.7" stroke-dasharray="1.3 1.2" opacity=".6" stroke-linecap="butt" transform="translate(-0.1 -0.5)"/>
<path d="M252.3 114.8Q254 89.1 251 63.4" stroke="#729434" stroke-width="0.8" opacity=".9"/>
<path d="M251.2 125.4Q252.3 93.1 252.9 60.8" stroke="#86993e" stroke-width="0.9" opacity=".9"/>
<path d="M244.4 210.5L251.1 210.5L249.8 223.9L245.2 221Z" fill="#4d402b" opacity=".9"/>
<path d="M250.5 210.5L253.2 223.2" stroke="#6b5a3c" stroke-width="1.2"/>
<path d="M245.6 210.5L244.1 221.8" stroke="#7d6a45" stroke-width="0.9"/>
<path d="M248.2 210.5L247.9 222.4" stroke="#7d6a45" stroke-width="0.9"/>
<path d="M248.2 210.5L248.2 221.8" stroke="#4f4430" stroke-width="1.1"/>
<path d="M249.7 210.5L249.8 223.6" stroke="#8a7850" stroke-width="1"/>
<path d="M247.3 210.5L247.9 222.5" stroke="#8a7850" stroke-width="0.9"/>
<path d="M249.7 210.5L250.4 224.9" stroke="#6b5a3c" stroke-width="1.1"/>
<path d="M243.7 175.4L252 175.3L251.9 211.5L243.6 211.6Z" fill="url(#wg)" stroke="none"/>
<path d="M243.6 196.5L251.9 196.5" stroke="#c98a2e" stroke-width=".9"/>
<path d="M262.7 110.8Q266 86.4 274.7 104.9" stroke="#ad8256" stroke-width="0.5" opacity="0.8"/>
<path d="M266.8 168.7Q271.3 134.1 281.6 158.7" stroke="#c9b070" stroke-width="0.4" opacity="0.5"/>
<path d="M264.2 132.1Q267.1 108.9 274.8 106.7" stroke="#7a5230" stroke-width="0.5" opacity="0.6"/>
<path d="M264.7 139.6Q270 119 276.2 130.6" stroke="#946a46" stroke-width="0.6" opacity="0.6"/>
<path d="M263.8 127Q257.9 99.3 250.7 98.5" stroke="#a67a50" stroke-width="0.5" opacity="0.6"/>
<path d="M266.3 160.7Q267.3 142.8 272.5 139.4" stroke="#a67a50" stroke-width="0.5" opacity="0.6"/>
<path d="M264.9 180.8Q261.8 141.7 257 102.7" stroke="#86993e" stroke-width="1.1" opacity="0.6"/>
<path d="M265.6 180.8Q262.8 139.9 260.7 99" stroke="#7a922c" stroke-width="0.9" opacity="0.6"/>
<path d="M266.4 180.8Q262.9 135.2 261.4 89.7" stroke="#c9b070" stroke-width="1" opacity="0.8"/>
<path d="M267.1 180.8Q265.2 140.3 263.1 99.7" stroke="#c0a868" stroke-width="0.7" opacity="0.6"/>
<path d="M267.9 180.8Q266 131.7 261.8 82.7" stroke="#c9b070" stroke-width="1" opacity="0.8"/>
<path d="M268.6 180.8Q265.7 133.2 262.7 85.7" stroke="#729434" stroke-width="1.1" opacity="0.8"/>
<path d="M269.4 180.8Q269.1 143.5 265.3 106.2" stroke="#c9b070" stroke-width="0.8" opacity="0.8"/>
<path d="M270.1 180.8Q266.8 137.4 267.4 94" stroke="#a89058" stroke-width="0.7" opacity="0.8"/>
<path d="M262 107Q260.9 69.3 260.8 31.6" stroke="#9a8446" stroke-width="0.6" opacity=".7"/>
<path d="M259.5 107Q256.6 76.6 260.9 46.2" stroke="#b59a5a" stroke-width="0.4" opacity=".7"/>
<path d="M267.3 100.2Q276.8 83.5 287.5 154.7" stroke="#855a36" stroke-width="0.8" opacity="0.8"/>
<path d="M264.8 70.2Q256.7 62.3 253.8 121.5" stroke="#b99064" stroke-width="0.7" opacity="0.7"/>
<path d="M270.4 87.2Q276.7 72 283.2 102" stroke="#a89058" stroke-width="0.6" opacity="0.8"/>
<path d="M269.5 81.2Q274.7 75.6 277.6 108.1" stroke="#b48a62" stroke-width="0.7" opacity="0.7"/>
<path d="M263.9 71.2Q272.5 57 278.5 84.2" stroke="#855a36" stroke-width="0.9" opacity="0.7"/>
<path d="M262.3 93.6Q256.3 86.2 244.6 109.1" stroke="#a89058" stroke-width="0.8" opacity="0.6"/>
<path d="M265.1 110.5Q270 97.3 276.9 134.4" stroke="#946a46" stroke-width="0.9" opacity="0.6"/>
<path d="M269.1 109.3Q273.9 93.5 281.4 144.3" stroke="#a67a50" stroke-width="0.9" opacity="0.7"/>
<path d="M258.3 100.3Q249.8 86.4 239.6 127.1" stroke="#a67a50" stroke-width="0.9" opacity="0.7"/>
<path d="M269.8 77Q263.2 70.1 259 125.4" stroke="#ad8256" stroke-width="0.6" opacity="0.5"/>
<path d="M265.5 97.2C266.6 93.7 267.1 90.2 267.1 86.9" stroke="#b59a5a" stroke-width=".6" opacity=".85"/>
<path d="M267.1 86.9C267.1 80.8 265.3 75.4 262.3 72.5" stroke="#6e4e2c" stroke-width="1.7" opacity=".7" stroke-linecap="round" stroke-dasharray="4.8 1.1 3.9 0.4"/>
<path d="M267.1 86.9C267.1 80.8 265.3 75.4 262.3 72.5" stroke="#7a5230" stroke-width="1.3" stroke-dasharray="1 1 1.5 0.7 0.8 1" opacity=".95" stroke-linecap="butt"/>
<path d="M267.1 86.9C267.1 80.8 265.3 75.4 262.3 72.5" stroke="#bc9872" stroke-width="0.5" stroke-dasharray="0.9 1.3" opacity=".6" stroke-linecap="butt" transform="translate(-0.6 -0.1)"/>
<path d="M268.3 94.2C268.8 90 268.4 86 267.4 82.5" stroke="#b59a5a" stroke-width=".6" opacity=".85"/>
<path d="M267.4 82.5C265.9 77.3 262.9 73.4 259.1 71.8" stroke="#6e4e2c" stroke-width="2" opacity=".7" stroke-linecap="round" stroke-dasharray="3.3 0.5 2.3 0.6"/>
<path d="M267.4 82.5C265.9 77.3 262.9 73.4 259.1 71.8" stroke="#946a46" stroke-width="1.5" stroke-dasharray="0.8 1.1 1.4 0.4 1.4 0.9" opacity=".95" stroke-linecap="butt"/>
<path d="M267.4 82.5C265.9 77.3 262.9 73.4 259.1 71.8" stroke="#caa884" stroke-width="0.6" stroke-dasharray="1.3 0.9" opacity=".6" stroke-linecap="butt" transform="translate(0.3 -0.3)"/>
<path d="M261.1 101C263.2 95.6 264.4 90 264.7 84.7" stroke="#c0a868" stroke-width=".6" opacity=".85"/>
<path d="M264.7 84.7C265.3 75.8 263.4 67.8 259.5 63.2" stroke="#785632" stroke-width="2.2" opacity=".7" stroke-linecap="round" stroke-dasharray="4.7 0.9 4.4 0.8"/>
<path d="M264.7 84.7C265.3 75.8 263.4 67.8 259.5 63.2" stroke="#7a5230" stroke-width="1.7" stroke-dasharray="1.4 0.8 2.2 0.5 1.3 1.3" opacity=".95" stroke-linecap="butt"/>
<path d="M264.7 84.7C265.3 75.8 263.4 67.8 259.5 63.2" stroke="#b48e68" stroke-width="0.7" stroke-dasharray="0.8 0.8" opacity=".6" stroke-linecap="butt" transform="translate(-0.4 0.2)"/>
<path d="M256.6 112.9C253.9 105.3 252.8 97.9 253 91" stroke="#b59a5a" stroke-width=".6" opacity=".85"/>
<path d="M253 91C253.5 77.8 259.1 66.8 268.5 61.9" stroke="#66482a" stroke-width="1.7" opacity=".7" stroke-linecap="round" stroke-dasharray="5.5 1.1 3.4 0.4"/>
<path d="M253 91C253.5 77.8 259.1 66.8 268.5 61.9" stroke="#946a46" stroke-width="1.3" stroke-dasharray="1.2 0.9 2.5 0.4 1 0.5" opacity=".95" stroke-linecap="butt"/>
<path d="M253 91C253.5 77.8 259.1 66.8 268.5 61.9" stroke="#bc9872" stroke-width="0.5" stroke-dasharray="0.6 1.2" opacity=".6" stroke-linecap="butt" transform="translate(-0.2 -0.1)"/>
<path d="M259.9 116.3C256.9 108.9 255.2 101.2 254.7 94.1" stroke="#729434" stroke-width=".6" opacity=".85"/>
<path d="M254.7 94.1C253.9 81.1 256.9 69.5 263.2 63" stroke="#5e4226" stroke-width="1.9" opacity=".7" stroke-linecap="round" stroke-dasharray="5.9 0.4 4.8 0.3"/>
<path d="M254.7 94.1C253.9 81.1 256.9 69.5 263.2 63" stroke="#a67a50" stroke-width="1.4" stroke-dasharray="1.5 0.9 2 0.7 1.4 0.6" opacity=".95" stroke-linecap="butt"/>
<path d="M254.7 94.1C253.9 81.1 256.9 69.5 263.2 63" stroke="#b48e68" stroke-width="0.6" stroke-dasharray="0.8 1.8" opacity=".6" stroke-linecap="butt" transform="translate(-0.2 -0.3)"/>
<path d="M266.7 117.6C262.5 108.3 260.2 98.8 259.7 89.9" stroke="#9a8446" stroke-width=".6" opacity=".85"/>
<path d="M259.7 89.9C259 75.7 262.8 63.2 270.4 56.1" stroke="#5e4226" stroke-width="2.8" opacity=".7" stroke-linecap="round" stroke-dasharray="5.6 0.5 4.8 0.4"/>
<path d="M259.7 89.9C259 75.7 262.8 63.2 270.4 56.1" stroke="#7a5230" stroke-width="2.1" stroke-dasharray="1.6 0.6 1.2 0.6 1 1.3" opacity=".95" stroke-linecap="butt"/>
<path d="M259.7 89.9C259 75.7 262.8 63.2 270.4 56.1" stroke="#caa884" stroke-width="0.8" stroke-dasharray="0.7 0.8" opacity=".6" stroke-linecap="butt" transform="translate(-0.6 -0.1)"/>
<path d="M262.8 115.4C260.2 106.9 259.4 98.3 259.9 90.4" stroke="#a89058" stroke-width=".6" opacity=".85"/>
<path d="M259.9 90.4C260.6 78.2 264.8 67.8 271.4 62.3" stroke="#5e4226" stroke-width="2.1" opacity=".7" stroke-linecap="round" stroke-dasharray="6.2 0.6 4.4 0.4"/>
<path d="M259.9 90.4C260.6 78.2 264.8 67.8 271.4 62.3" stroke="#9c6e44" stroke-width="1.6" stroke-dasharray="1 0.6 1.1 0.4 0.8 1" opacity=".95" stroke-linecap="butt"/>
<path d="M259.9 90.4C260.6 78.2 264.8 67.8 271.4 62.3" stroke="#caa884" stroke-width="0.6" stroke-dasharray="0.8 1.8" opacity=".6" stroke-linecap="butt" transform="translate(-0.1 -0.2)"/>
<path d="M273 108.4C268.8 102 266.1 95.5 264.7 89.2" stroke="#b59a5a" stroke-width=".6" opacity=".85"/>
<path d="M264.7 89.2C261.9 75.9 265.1 63.8 273.7 57" stroke="#5e4226" stroke-width="2.8" opacity=".7" stroke-linecap="round" stroke-dasharray="4.7 0.8 2.6 0.9"/>
<path d="M264.7 89.2C261.9 75.9 265.1 63.8 273.7 57" stroke="#946a46" stroke-width="2.1" stroke-dasharray="1.5 0.6 1.9 0.3 1 0.8" opacity=".95" stroke-linecap="butt"/>
<path d="M264.7 89.2C261.9 75.9 265.1 63.8 273.7 57" stroke="#bc9872" stroke-width="0.8" stroke-dasharray="1.1 1.3" opacity=".6" stroke-linecap="butt" transform="translate(-0.6 -0.2)"/>
<path d="M270.2 100.3C267 94.6 264.9 88.8 263.8 83.2" stroke="#c0a868" stroke-width=".6" opacity=".85"/>
<path d="M263.8 83.2C261.5 70.9 264.1 59.7 271.1 53.4" stroke="#6e4e2c" stroke-width="2.1" opacity=".7" stroke-linecap="round" stroke-dasharray="7 1.1 2.8 0.9"/>
<path d="M263.8 83.2C261.5 70.9 264.1 59.7 271.1 53.4" stroke="#b99064" stroke-width="1.5" stroke-dasharray="0.9 0.8 1.2 0.8 0.6 0.7" opacity=".95" stroke-linecap="butt"/>
<path d="M263.8 83.2C261.5 70.9 264.1 59.7 271.1 53.4" stroke="#caa884" stroke-width="0.6" stroke-dasharray="0.9 1.5" opacity=".6" stroke-linecap="butt" transform="translate(0.6 -0.4)"/>
<path d="M269.6 96.9C266 90.6 264.1 84.3 263.5 78.4" stroke="#a89058" stroke-width=".6" opacity=".85"/>
<path d="M263.5 78.4C262.6 67.6 266.5 58.4 274.4 53.6" stroke="#6e4e2c" stroke-width="1.8" opacity=".7" stroke-linecap="round" stroke-dasharray="6.8 0.7 4.1 0.4"/>
<path d="M263.5 78.4C262.6 67.6 266.5 58.4 274.4 53.6" stroke="#946a46" stroke-width="1.3" stroke-dasharray="1.2 0.9 1.8 0.4 1.5 1.4" opacity=".95" stroke-linecap="butt"/>
<path d="M263.5 78.4C262.6 67.6 266.5 58.4 274.4 53.6" stroke="#bc9872" stroke-width="0.5" stroke-dasharray="1.4 1.3" opacity=".6" stroke-linecap="butt" transform="translate(0.5 -0.5)"/>
<path d="M270.2 119.1C266 110.3 264 101.4 263.9 93.4" stroke="#a89058" stroke-width=".6" opacity=".85"/>
<path d="M263.9 93.4C263.9 80.7 268.7 70 277.4 64.3" stroke="#785632" stroke-width="2.1" opacity=".7" stroke-linecap="round" stroke-dasharray="6.9 1.1 2.6 0.7"/>
<path d="M263.9 93.4C263.9 80.7 268.7 70 277.4 64.3" stroke="#855a36" stroke-width="1.6" stroke-dasharray="1 0.5 1.9 0.4 0.9 0.6" opacity=".95" stroke-linecap="butt"/>
<path d="M263.9 93.4C263.9 80.7 268.7 70 277.4 64.3" stroke="#caa884" stroke-width="0.6" stroke-dasharray="0.7 1.4" opacity=".6" stroke-linecap="butt" transform="translate(0.7 0.1)"/>
<path d="M258.3 120.4C253.5 110.7 251 101.4 250.6 93" stroke="#a89058" stroke-width=".6" opacity=".85"/>
<path d="M250.6 93C249.7 74.2 259.2 59.7 276.4 54.7" stroke="#66482a" stroke-width="1.7" opacity=".7" stroke-linecap="round" stroke-dasharray="6.1 0.4 4.8 0.6"/>
<path d="M250.6 93C249.7 74.2 259.2 59.7 276.4 54.7" stroke="#b99064" stroke-width="1.3" stroke-dasharray="0.8 0.5 2.1 0.6 1.1 0.7" opacity=".95" stroke-linecap="butt"/>
<path d="M250.6 93C249.7 74.2 259.2 59.7 276.4 54.7" stroke="#bc9872" stroke-width="0.5" stroke-dasharray="0.8 0.9" opacity=".6" stroke-linecap="butt" transform="translate(0.1 -0.8)"/>
<path d="M266.3 109.8C262.8 102 261.4 94.6 261.8 88.1" stroke="#c9b070" stroke-width=".6" opacity=".85"/>
<path d="M261.8 88.1C262.5 75.9 269.5 66.8 281.2 64" stroke="#6e4e2c" stroke-width="2.8" opacity=".7" stroke-linecap="round" stroke-dasharray="6.6 0.7 3 0.4"/>
<path d="M261.8 88.1C262.5 75.9 269.5 66.8 281.2 64" stroke="#ad8256" stroke-width="2.1" stroke-dasharray="1.5 0.9 2.2 0.7 1.1 1.3" opacity=".95" stroke-linecap="butt"/>
<path d="M261.8 88.1C262.5 75.9 269.5 66.8 281.2 64" stroke="#bc9872" stroke-width="0.8" stroke-dasharray="1.1 1.1" opacity=".6" stroke-linecap="butt" transform="translate(0.6 -0.4)"/>
<path d="M272.1 111.7C267.2 103.7 264.8 95.9 264.8 88.9" stroke="#729434" stroke-width=".6" opacity=".85"/>
<path d="M264.8 88.9C264.9 78.8 269.7 70.5 278.6 66.4" stroke="#66482a" stroke-width="2.4" opacity=".7" stroke-linecap="round" stroke-dasharray="4.8 1 3 0.4"/>
<path d="M264.8 88.9C264.9 78.8 269.7 70.5 278.6 66.4" stroke="#855a36" stroke-width="1.8" stroke-dasharray="1.6 0.6 2.1 0.8 0.7 0.6" opacity=".95" stroke-linecap="butt"/>
<path d="M264.8 88.9C264.9 78.8 269.7 70.5 278.6 66.4" stroke="#b48e68" stroke-width="0.7" stroke-dasharray="1.1 1" opacity=".6" stroke-linecap="butt" transform="translate(-0.2 0)"/>
<path d="M269.9 92.9C269 89.8 268.8 87 269.1 84.4" stroke="#b59a5a" stroke-width=".6" opacity=".85"/>
<path d="M269.1 84.4C269.7 78.1 273.4 73.6 278.9 72.6" stroke="#66482a" stroke-width="1.7" opacity=".7" stroke-linecap="round" stroke-dasharray="6 0.8 2.3 0.5"/>
<path d="M269.1 84.4C269.7 78.1 273.4 73.6 278.9 72.6" stroke="#855a36" stroke-width="1.3" stroke-dasharray="1.6 0.9 1.4 0.5 1 0.9" opacity=".95" stroke-linecap="butt"/>
<path d="M269.1 84.4C269.7 78.1 273.4 73.6 278.9 72.6" stroke="#c4a27c" stroke-width="0.5" stroke-dasharray="0.9 1.4" opacity=".6" stroke-linecap="butt" transform="translate(0.7 -0.6)"/>
<path d="M255.5 104.5C253.6 95.5 254 87.7 256.3 81.4" stroke="#9a8446" stroke-width=".6" opacity=".85"/>
<path d="M256.3 81.4C260 71 268.6 65 280.1 65.4" stroke="#66482a" stroke-width="2.8" opacity=".7" stroke-linecap="round" stroke-dasharray="5.3 0.3 3.2 0.5"/>
<path d="M256.3 81.4C260 71 268.6 65 280.1 65.4" stroke="#ad8256" stroke-width="2.1" stroke-dasharray="1.3 0.8 1.2 0.4 1.2 0.9" opacity=".95" stroke-linecap="butt"/>
<path d="M256.3 81.4C260 71 268.6 65 280.1 65.4" stroke="#b48e68" stroke-width="0.8" stroke-dasharray="1.2 1.4" opacity=".6" stroke-linecap="butt" transform="translate(-0.5 -0.1)"/>
<path d="M255.3 119.1C255.1 110.6 256.5 103.3 259.2 97.4" stroke="#b59a5a" stroke-width=".6" opacity=".85"/>
<path d="M259.2 97.4C264.8 84.8 276.1 78.6 289.5 81.4" stroke="#6e4e2c" stroke-width="2.8" opacity=".7" stroke-linecap="round" stroke-dasharray="4.4 0.7 2.3 0.7"/>
<path d="M259.2 97.4C264.8 84.8 276.1 78.6 289.5 81.4" stroke="#9c6e44" stroke-width="2.1" stroke-dasharray="1.1 0.8 2.5 0.6 1.4 1" opacity=".95" stroke-linecap="butt"/>
<path d="M259.2 97.4C264.8 84.8 276.1 78.6 289.5 81.4" stroke="#c4a27c" stroke-width="0.8" stroke-dasharray="0.9 1.7" opacity=".6" stroke-linecap="butt" transform="translate(0.2 -0.2)"/>
<path d="M271.5 92.4C272 88.2 273.3 84.6 275.2 81.9" stroke="#c9b070" stroke-width=".6" opacity=".85"/>
<path d="M275.2 81.9C278.3 77.4 283.1 75.2 288.2 76.3" stroke="#5e4226" stroke-width="2.1" opacity=".7" stroke-linecap="round" stroke-dasharray="6.1 0.5 4.7 0.4"/>
<path d="M275.2 81.9C278.3 77.4 283.1 75.2 288.2 76.3" stroke="#946a46" stroke-width="1.6" stroke-dasharray="1 0.7 1.4 0.7 1.1 1" opacity=".95" stroke-linecap="butt"/>
<path d="M275.2 81.9C278.3 77.4 283.1 75.2 288.2 76.3" stroke="#bc9872" stroke-width="0.6" stroke-dasharray="1.1 0.9" opacity=".6" stroke-linecap="butt" transform="translate(0.4 0.1)"/>
<path d="M272.5 95.9C273.9 92.8 275.8 90.5 277.9 89.2" stroke="#729434" stroke-width=".6" opacity=".85"/>
<path d="M277.9 89.2C281 87.1 284.7 87.1 287.8 89.3" stroke="#785632" stroke-width="2.1" opacity=".7" stroke-linecap="round" stroke-dasharray="3.1 0.5 3.5 1"/>
<path d="M277.9 89.2C281 87.1 284.7 87.1 287.8 89.3" stroke="#855a36" stroke-width="1.6" stroke-dasharray="1.6 0.4 2.3 0.7 1.3 0.8" opacity=".95" stroke-linecap="butt"/>
<path d="M277.9 89.2C281 87.1 284.7 87.1 287.8 89.3" stroke="#c4a27c" stroke-width="0.6" stroke-dasharray="0.7 0.9" opacity=".6" stroke-linecap="butt" transform="translate(-0.3 -0)"/>
<path d="M264.4 214.2L270.6 214.2L269.2 229.5L264.4 228Z" fill="#4d402b" opacity=".9"/>
<path d="M265.5 214.2L264.4 227.2" stroke="#7d6a45" stroke-width="1.3"/>
<path d="M266 214.2L266.7 232.6" stroke="#6b5a3c" stroke-width="1.3"/>
<path d="M265.7 214.2L264.9 232.5" stroke="#4f4430" stroke-width="1.4"/>
<path d="M265.4 214.2L265.4 228.7" stroke="#7d6a45" stroke-width="1.3"/>
<path d="M267.9 214.2L267.5 230.1" stroke="#7d6a45" stroke-width="1.2"/>
<path d="M266.8 214.2L267.1 225.4" stroke="#6b5a3c" stroke-width="0.9"/>
<path d="M266.4 214.2L266.1 231.9" stroke="#8a7850" stroke-width="1.3"/>
<path d="M263.7 177.8L271.5 177.9L271.4 215.2L263.6 214.8Z" fill="url(#wg)" stroke="none"/>
<path d="M263.6 198.3L271.4 198.7" stroke="#c98a2e" stroke-width=".9"/>
<rect x="264.1" y="193.2" width="3" height="7.4" fill="#eef0f2" stroke="none"/>
<path d="M284.9 134.1Q281.7 114.3 272.3 114.8" stroke="#b59a5a" stroke-width="0.6" opacity="0.5"/>
<path d="M284.5 145.3Q286.1 115.4 298.3 129.2" stroke="#ad8256" stroke-width="0.4" opacity="0.6"/>
<path d="M285.2 127.5Q281 108.5 275.9 128" stroke="#855a36" stroke-width="0.5" opacity="0.7"/>
<path d="M285.7 115.4Q283.4 91.3 274 88.3" stroke="#c9b070" stroke-width="0.5" opacity="0.7"/>
<path d="M284.4 148.5Q290.2 129.9 290.4 139" stroke="#9c6e44" stroke-width="0.6" opacity="0.5"/>
<path d="M284.4 148.2Q281.9 113.9 271.8 131.4" stroke="#855a36" stroke-width="0.7" opacity="0.6"/>
<path d="M280.5 183Q281 137.6 280.6 92.3" stroke="#c9b070" stroke-width="1.2" opacity="0.8"/>
<path d="M281.2 183Q279.2 132.6 281 82.2" stroke="#a89058" stroke-width="0.8" opacity="0.8"/>
<path d="M282 183Q283.3 139.1 285.4 95.3" stroke="#628a2a" stroke-width="1" opacity="0.6"/>
<path d="M282.7 183Q283 140.3 283.9 97.6" stroke="#a89058" stroke-width="1" opacity="0.7"/>
<path d="M283.5 183Q284.5 138.5 284.8 94" stroke="#a89058" stroke-width="1" opacity="0.7"/>
<path d="M284.2 183Q285.8 137.2 287.3 91.3" stroke="#9a8446" stroke-width="0.8" opacity="0.7"/>
<path d="M285 183Q287.4 132.8 289.3 82.5" stroke="#557f26" stroke-width="1.1" opacity="0.6"/>
<path d="M285.7 183Q287.1 142.3 288.5 101.6" stroke="#c0a868" stroke-width="0.8" opacity="0.6"/>
<path d="M287.9 107Q285.4 69.6 285.3 32.1" stroke="#c9b070" stroke-width="0.7" opacity=".7"/>
<path d="M288.6 107Q288.9 68.2 288.6 29.3" stroke="#a89058" stroke-width="0.5" opacity=".7"/>
<path d="M279.7 91.9Q270.7 81.7 261.4 115.5" stroke="#a89058" stroke-width="0.6" opacity="0.7"/>
<path d="M281.7 104.3Q291 89.4 294.4 145.1" stroke="#b48a62" stroke-width="0.7" opacity="0.7"/>
<path d="M282.2 113.8Q287.2 105.7 297.2 146.6" stroke="#ad8256" stroke-width="0.6" opacity="0.8"/>
<path d="M279.2 90Q287.7 75.7 292.7 106.6" stroke="#7a5230" stroke-width="0.6" opacity="0.6"/>
<path d="M289.8 95.2Q296.8 79.6 308.6 119.2" stroke="#b59a5a" stroke-width="0.8" opacity="0.8"/>
<path d="M289 101.2Q297.4 92.1 301.5 145.4" stroke="#b99064" stroke-width="0.8" opacity="0.6"/>
<path d="M295.7 91.1Q290.4 76 281.5 110.7" stroke="#7a5230" stroke-width="0.9" opacity="0.7"/>
<path d="M286.5 103Q295.5 94.3 302.4 117.2" stroke="#a89058" stroke-width="1" opacity="0.6"/>
<path d="M279.4 83.4Q283.7 76.4 289.9 102.6" stroke="#9c6e44" stroke-width="0.9" opacity="0.6"/>
<path d="M280.6 81.3Q286.5 68 293.1 130.9" stroke="#b48a62" stroke-width="0.9" opacity="0.7"/>
<path d="M296.2 91.4C294.6 89.9 292.9 88.6 291.1 87.6" stroke="#c9b070" stroke-width=".6" opacity=".85"/>
<path d="M291.1 87.6C287.5 85.4 283.8 84.2 281.2 84.6" stroke="#785632" stroke-width="2.7" opacity=".7" stroke-linecap="round" stroke-dasharray="6.6 0.3 4.5 0.5"/>
<path d="M291.1 87.6C287.5 85.4 283.8 84.2 281.2 84.6" stroke="#9c6e44" stroke-width="2.1" stroke-dasharray="1.3 1.2 1.2 0.5 1.2 0.8" opacity=".95" stroke-linecap="butt"/>
<path d="M291.1 87.6C287.5 85.4 283.8 84.2 281.2 84.6" stroke="#caa884" stroke-width="0.8" stroke-dasharray="0.9 0.9" opacity=".6" stroke-linecap="butt" transform="translate(0.6 -0.3)"/>
<path d="M278.8 104.5C277.9 100.9 277.5 97.3 277.6 93.9" stroke="#c9b070" stroke-width=".6" opacity=".85"/>
<path d="M277.6 93.9C277.8 86.5 280.1 80.2 284 77" stroke="#785632" stroke-width="2.3" opacity=".7" stroke-linecap="round" stroke-dasharray="6.6 0.5 2.8 0.8"/>
<path d="M277.6 93.9C277.8 86.5 280.1 80.2 284 77" stroke="#b99064" stroke-width="1.7" stroke-dasharray="1.7 1.1 1.1 0.7 0.8 1" opacity=".95" stroke-linecap="butt"/>
<path d="M277.6 93.9C277.8 86.5 280.1 80.2 284 77" stroke="#b48e68" stroke-width="0.7" stroke-dasharray="0.9 1.3" opacity=".6" stroke-linecap="butt" transform="translate(0.2 -0.6)"/>
<path d="M281.6 113.8C280.3 108.6 279.6 103.4 279.5 98.3" stroke="#b59a5a" stroke-width=".6" opacity=".85"/>
<path d="M279.5 98.3C279.1 87.5 281.1 77.8 284.9 72.4" stroke="#6e4e2c" stroke-width="2.3" opacity=".7" stroke-linecap="round" stroke-dasharray="6.8 0.9 3.6 0.4"/>
<path d="M279.5 98.3C279.1 87.5 281.1 77.8 284.9 72.4" stroke="#7a5230" stroke-width="1.7" stroke-dasharray="0.9 0.6 2.2 0.6 1.4 0.8" opacity=".95" stroke-linecap="butt"/>
<path d="M279.5 98.3C279.1 87.5 281.1 77.8 284.9 72.4" stroke="#b48e68" stroke-width="0.7" stroke-dasharray="0.8 1.6" opacity=".6" stroke-linecap="butt" transform="translate(-0.7 -0.3)"/>
<path d="M296.5 113.1C298.5 104.1 298.8 95.1 297.5 87.2" stroke="#c9b070" stroke-width=".6" opacity=".85"/>
<path d="M297.5 87.2C295.8 76 291.1 66.8 284.4 62.1" stroke="#5e4226" stroke-width="2.5" opacity=".7" stroke-linecap="round" stroke-dasharray="4.3 0.4 2.6 0.7"/>
<path d="M297.5 87.2C295.8 76 291.1 66.8 284.4 62.1" stroke="#a67a50" stroke-width="1.9" stroke-dasharray="1.2 0.5 1.2 0.6 0.9 1.1" opacity=".95" stroke-linecap="butt"/>
<path d="M297.5 87.2C295.8 76 291.1 66.8 284.4 62.1" stroke="#b48e68" stroke-width="0.7" stroke-dasharray="1 1.6" opacity=".6" stroke-linecap="butt" transform="translate(-0.3 -0.2)"/>
<path d="M294.3 112.7C297.8 102.9 299.2 92.9 298.8 83.8" stroke="#b59a5a" stroke-width=".6" opacity=".85"/>
<path d="M298.8 83.8C298.2 71.2 294 60.3 287 54.2" stroke="#5e4226" stroke-width="2.9" opacity=".7" stroke-linecap="round" stroke-dasharray="5.1 1.1 2.1 0.4"/>
<path d="M298.8 83.8C298.2 71.2 294 60.3 287 54.2" stroke="#b48a62" stroke-width="2.2" stroke-dasharray="1.2 0.9 2.3 0.5 0.6 1.3" opacity=".95" stroke-linecap="butt"/>
<path d="M298.8 83.8C298.2 71.2 294 60.3 287 54.2" stroke="#bc9872" stroke-width="0.9" stroke-dasharray="1 1.1" opacity=".6" stroke-linecap="butt" transform="translate(-0.1 -0.6)"/>
<path d="M290.1 112.6C294 104 296.4 95.1 297.3 86.7" stroke="#9a8446" stroke-width=".6" opacity=".85"/>
<path d="M297.3 86.7C299 71 295.5 56.8 287.5 48.8" stroke="#5e4226" stroke-width="2.9" opacity=".7" stroke-linecap="round" stroke-dasharray="4.7 0.9 3.5 1"/>
<path d="M297.3 86.7C299 71 295.5 56.8 287.5 48.8" stroke="#b48a62" stroke-width="2.2" stroke-dasharray="1.8 1.1 2.2 0.3 1.2 0.9" opacity=".95" stroke-linecap="butt"/>
<path d="M297.3 86.7C299 71 295.5 56.8 287.5 48.8" stroke="#b48e68" stroke-width="0.9" stroke-dasharray="0.7 1.6" opacity=".6" stroke-linecap="butt" transform="translate(-0.1 0.2)"/>
<path d="M279.6 94.7C277.3 88 276.4 81.5 276.8 75.7" stroke="#b59a5a" stroke-width=".6" opacity=".85"/>
<path d="M276.8 75.7C277.6 63.8 283.6 54.6 293.1 51.2" stroke="#6e4e2c" stroke-width="2.9" opacity=".7" stroke-linecap="round" stroke-dasharray="7 0.5 2 0.5"/>
<path d="M276.8 75.7C277.6 63.8 283.6 54.6 293.1 51.2" stroke="#a67a50" stroke-width="2.1" stroke-dasharray="1 0.4 1.3 0.4 1 1.3" opacity=".95" stroke-linecap="butt"/>
<path d="M276.8 75.7C277.6 63.8 283.6 54.6 293.1 51.2" stroke="#caa884" stroke-width="0.9" stroke-dasharray="1.2 1.1" opacity=".6" stroke-linecap="butt" transform="translate(0.3 -0.6)"/>
<path d="M281.2 102C277.9 94.1 276.7 86.4 277.3 79.6" stroke="#b59a5a" stroke-width=".6" opacity=".85"/>
<path d="M277.3 79.6C278.2 69.1 283.5 60.7 292.1 57" stroke="#66482a" stroke-width="2.7" opacity=".7" stroke-linecap="round" stroke-dasharray="3.4 1 4.2 0.8"/>
<path d="M277.3 79.6C278.2 69.1 283.5 60.7 292.1 57" stroke="#855a36" stroke-width="2" stroke-dasharray="1.7 0.9 2 0.7 1 1.2" opacity=".95" stroke-linecap="butt"/>
<path d="M277.3 79.6C278.2 69.1 283.5 60.7 292.1 57" stroke="#c4a27c" stroke-width="0.8" stroke-dasharray="0.7 1.2" opacity=".6" stroke-linecap="butt" transform="translate(-0.1 -0.3)"/>
<path d="M286.1 102.9C282.1 96.6 279.5 90.3 278.2 84.4" stroke="#b59a5a" stroke-width=".6" opacity=".85"/>
<path d="M278.2 84.4C275.2 69.9 280.2 57.3 291.7 51.1" stroke="#5e4226" stroke-width="2.1" opacity=".7" stroke-linecap="round" stroke-dasharray="4.6 0.7 3.8 0.6"/>
<path d="M278.2 84.4C275.2 69.9 280.2 57.3 291.7 51.1" stroke="#b99064" stroke-width="1.6" stroke-dasharray="1.4 0.5 1.1 0.7 1.4 1.1" opacity=".95" stroke-linecap="butt"/>
<path d="M278.2 84.4C275.2 69.9 280.2 57.3 291.7 51.1" stroke="#c4a27c" stroke-width="0.6" stroke-dasharray="1.3 1" opacity=".6" stroke-linecap="butt" transform="translate(0.2 -0.3)"/>
<path d="M286.4 94.7C284.8 88.4 284.5 82.2 285.4 76.8" stroke="#729434" stroke-width=".6" opacity=".85"/>
<path d="M285.4 76.8C286.7 68.3 290.8 61.6 296.9 58.5" stroke="#5e4226" stroke-width="2.8" opacity=".7" stroke-linecap="round" stroke-dasharray="4.4 1 4.1 0.8"/>
<path d="M285.4 76.8C286.7 68.3 290.8 61.6 296.9 58.5" stroke="#855a36" stroke-width="2.1" stroke-dasharray="1.8 0.7 1.3 0.7 1 1" opacity=".95" stroke-linecap="butt"/>
<path d="M285.4 76.8C286.7 68.3 290.8 61.6 296.9 58.5" stroke="#caa884" stroke-width="0.8" stroke-dasharray="0.7 1.4" opacity=".6" stroke-linecap="butt" transform="translate(-0.1 -0.5)"/>
<path d="M282.3 102C279.2 94 277.8 86.2 278 79.2" stroke="#a89058" stroke-width=".6" opacity=".85"/>
<path d="M278 79.2C278.4 64.6 285.5 53 297.3 48.5" stroke="#6e4e2c" stroke-width="2.5" opacity=".7" stroke-linecap="round" stroke-dasharray="5.9 0.8 4.9 0.8"/>
<path d="M278 79.2C278.4 64.6 285.5 53 297.3 48.5" stroke="#ad8256" stroke-width="1.9" stroke-dasharray="1.1 0.9 1.2 0.5 1.2 1.1" opacity=".95" stroke-linecap="butt"/>
<path d="M278 79.2C278.4 64.6 285.5 53 297.3 48.5" stroke="#bc9872" stroke-width="0.7" stroke-dasharray="1.3 1.2" opacity=".6" stroke-linecap="butt" transform="translate(-0.2 -0.6)"/>
<path d="M296.6 99.6C290.4 92.4 286.7 85.1 285.4 78.1" stroke="#a89058" stroke-width=".6" opacity=".85"/>
<path d="M285.4 78.1C283.1 66.6 287.2 56.3 297.1 50.2" stroke="#6e4e2c" stroke-width="2.7" opacity=".7" stroke-linecap="round" stroke-dasharray="4.2 0.9 2.6 0.7"/>
<path d="M285.4 78.1C283.1 66.6 287.2 56.3 297.1 50.2" stroke="#b99064" stroke-width="2" stroke-dasharray="1.2 1.1 2.2 0.4 1.3 0.8" opacity=".95" stroke-linecap="butt"/>
<path d="M285.4 78.1C283.1 66.6 287.2 56.3 297.1 50.2" stroke="#b48e68" stroke-width="0.8" stroke-dasharray="1.4 1" opacity=".6" stroke-linecap="butt" transform="translate(-0.2 -0.7)"/>
<path d="M295.4 101.7C290.6 93.4 288.2 85.1 288 77.4" stroke="#729434" stroke-width=".6" opacity=".85"/>
<path d="M288 77.4C287.6 66.8 291.6 57.6 299.2 52.4" stroke="#785632" stroke-width="1.9" opacity=".7" stroke-linecap="round" stroke-dasharray="7 1 3.5 0.7"/>
<path d="M288 77.4C287.6 66.8 291.6 57.6 299.2 52.4" stroke="#855a36" stroke-width="1.4" stroke-dasharray="1 0.7 2.1 0.6 0.6 1.1" opacity=".95" stroke-linecap="butt"/>
<path d="M288 77.4C287.6 66.8 291.6 57.6 299.2 52.4" stroke="#b48e68" stroke-width="0.6" stroke-dasharray="0.7 1.8" opacity=".6" stroke-linecap="butt" transform="translate(-0.6 -0.7)"/>
<path d="M296.7 117.4C289.7 108.9 285.5 100.1 284.1 91.9" stroke="#557f26" stroke-width=".6" opacity=".85"/>
<path d="M284.1 91.9C281.7 78.3 286.9 66.2 298.8 59.3" stroke="#5e4226" stroke-width="2.7" opacity=".7" stroke-linecap="round" stroke-dasharray="5.3 0.3 3.7 0.9"/>
<path d="M284.1 91.9C281.7 78.3 286.9 66.2 298.8 59.3" stroke="#ad8256" stroke-width="2" stroke-dasharray="1.6 0.9 1.7 0.4 1.5 1.2" opacity=".95" stroke-linecap="butt"/>
<path d="M284.1 91.9C281.7 78.3 286.9 66.2 298.8 59.3" stroke="#bc9872" stroke-width="0.8" stroke-dasharray="1 1.6" opacity=".6" stroke-linecap="butt" transform="translate(-0.3 0.3)"/>
<path d="M292.9 108.7C288.3 101.5 286 94.4 285.8 88.1" stroke="#729434" stroke-width=".6" opacity=".85"/>
<path d="M285.8 88.1C285.5 77.9 290.6 69.6 300 65.8" stroke="#785632" stroke-width="2.8" opacity=".7" stroke-linecap="round" stroke-dasharray="4.1 0.5 2.3 1"/>
<path d="M285.8 88.1C285.5 77.9 290.6 69.6 300 65.8" stroke="#9c6e44" stroke-width="2.1" stroke-dasharray="0.9 0.7 1.9 0.7 0.9 0.7" opacity=".95" stroke-linecap="butt"/>
<path d="M285.8 88.1C285.5 77.9 290.6 69.6 300 65.8" stroke="#caa884" stroke-width="0.8" stroke-dasharray="1.3 1.8" opacity=".6" stroke-linecap="butt" transform="translate(0 -0.5)"/>
<path d="M278.6 102.8C277.9 96 278.4 89.8 279.9 84.5" stroke="#557f26" stroke-width=".6" opacity=".85"/>
<path d="M279.9 84.5C283.6 72.2 292.8 64.8 304.6 65.2" stroke="#66482a" stroke-width="2.2" opacity=".7" stroke-linecap="round" stroke-dasharray="3.7 0.6 2.3 0.8"/>
<path d="M279.9 84.5C283.6 72.2 292.8 64.8 304.6 65.2" stroke="#855a36" stroke-width="1.7" stroke-dasharray="0.8 0.4 1.3 0.5 1.3 1.3" opacity=".95" stroke-linecap="butt"/>
<path d="M279.9 84.5C283.6 72.2 292.8 64.8 304.6 65.2" stroke="#c4a27c" stroke-width="0.7" stroke-dasharray="1 1" opacity=".6" stroke-linecap="butt" transform="translate(0.5 -0.1)"/>
<path d="M286.5 105.3C284.4 98.7 283.7 92.4 284.2 86.8" stroke="#c9b070" stroke-width=".6" opacity=".85"/>
<path d="M284.2 86.8C285.2 75 291.7 66.2 301.8 63.4" stroke="#6e4e2c" stroke-width="2.4" opacity=".7" stroke-linecap="round" stroke-dasharray="4.6 1 2.3 0.5"/>
<path d="M284.2 86.8C285.2 75 291.7 66.2 301.8 63.4" stroke="#b48a62" stroke-width="1.8" stroke-dasharray="1.7 1.1 2.2 0.6 1.3 1" opacity=".95" stroke-linecap="butt"/>
<path d="M284.2 86.8C285.2 75 291.7 66.2 301.8 63.4" stroke="#c4a27c" stroke-width="0.7" stroke-dasharray="1.1 1.4" opacity=".6" stroke-linecap="butt" transform="translate(-0.5 -0.4)"/>
<path d="M281.4 121C277.2 109.8 276.2 99.5 278.2 90.9" stroke="#9a8446" stroke-width=".6" opacity=".85"/>
<path d="M278.2 90.9C280.9 78.8 289.2 70.2 301.7 67.8" stroke="#6e4e2c" stroke-width="2.1" opacity=".7" stroke-linecap="round" stroke-dasharray="6 0.5 2.4 0.5"/>
<path d="M278.2 90.9C280.9 78.8 289.2 70.2 301.7 67.8" stroke="#855a36" stroke-width="1.6" stroke-dasharray="1.7 0.8 2 0.3 0.9 1.1" opacity=".95" stroke-linecap="butt"/>
<path d="M278.2 90.9C280.9 78.8 289.2 70.2 301.7 67.8" stroke="#c4a27c" stroke-width="0.6" stroke-dasharray="1.2 1.7" opacity=".6" stroke-linecap="butt" transform="translate(-0.2 -0)"/>
<path d="M288.6 102.6C288.5 96.4 290 91.2 292.4 87.3" stroke="#729434" stroke-width=".6" opacity=".85"/>
<path d="M292.4 87.3C296 81.5 301.7 78.6 308.4 79.5" stroke="#5e4226" stroke-width="2.8" opacity=".7" stroke-linecap="round" stroke-dasharray="5.8 0.9 3.3 0.3"/>
<path d="M292.4 87.3C296 81.5 301.7 78.6 308.4 79.5" stroke="#946a46" stroke-width="2.1" stroke-dasharray="1.4 0.8 1.7 0.6 0.7 1.3" opacity=".95" stroke-linecap="butt"/>
<path d="M292.4 87.3C296 81.5 301.7 78.6 308.4 79.5" stroke="#c4a27c" stroke-width="0.8" stroke-dasharray="1.1 1.8" opacity=".6" stroke-linecap="butt" transform="translate(-0.1 -0.1)"/>
<path d="M279.9 215.7L286.3 215.7L284.6 232L281.1 231.3Z" fill="#4d402b" opacity=".9"/>
<path d="M284.4 215.7L286.2 230.1" stroke="#7d6a45" stroke-width="0.9"/>
<path d="M283.3 215.7L283.9 230.3" stroke="#8a7850" stroke-width="1.3"/>
<path d="M280.3 215.7L277.3 229.5" stroke="#5a4c34" stroke-width="1.2"/>
<path d="M283 215.7L282.7 234.6" stroke="#5a4c34" stroke-width="1.1"/>
<path d="M283.5 215.7L283.8 235.3" stroke="#6b5a3c" stroke-width="1.2"/>
<path d="M285.7 215.7L287.8 231.7" stroke="#6b5a3c" stroke-width="1"/>
<path d="M284.3 215.7L285.1 235.6" stroke="#8a7850" stroke-width="0.8"/>
<path d="M278.3 180L286.3 179.6L287.1 216.7L279.1 216.9Z" fill="url(#wg)" stroke="none"/>
<path d="M279.1 199.8L287.1 200" stroke="#c98a2e" stroke-width=".9"/>
<path d="M312.3 136.9Q308.4 112.9 300.9 123.7" stroke="#b99064" stroke-width="0.6" opacity="0.6"/>
<path d="M312.8 168.5Q311.2 136.3 306.1 154.9" stroke="#ad8256" stroke-width="0.8" opacity="0.7"/>
<path d="M312.1 122.5Q310.8 103.3 303.8 115.4" stroke="#b99064" stroke-width="0.6" opacity="0.8"/>
<path d="M312.6 157.3Q317.2 130 321.6 138.3" stroke="#855a36" stroke-width="0.6" opacity="0.7"/>
<path d="M312.2 134.1Q306.9 109.6 300.1 133.1" stroke="#7a5230" stroke-width="0.7" opacity="0.6"/>
<path d="M312 120.5Q315.9 98.2 324.1 101.9" stroke="#9c6e44" stroke-width="0.6" opacity="0.7"/>
<path d="M310.4 179.9Q309.3 139.3 306.6 98.7" stroke="#c9b070" stroke-width="0.7" opacity="0.9"/>
<path d="M311.1 179.9Q310.4 142.7 309.3 105.4" stroke="#c9b070" stroke-width="1.2" opacity="0.6"/>
<path d="M311.8 179.9Q313.7 136.8 311.9 93.6" stroke="#557f26" stroke-width="0.6" opacity="0.7"/>
<path d="M312.6 179.9Q312.3 142.5 311.5 105.2" stroke="#a89058" stroke-width="1.1" opacity="0.6"/>
<path d="M313.3 179.9Q313.8 138.2 310.8 96.6" stroke="#86993e" stroke-width="0.6" opacity="0.6"/>
<path d="M314.1 179.9Q314.5 137.7 314.1 95.5" stroke="#7a922c" stroke-width="1" opacity="0.7"/>
<path d="M314.8 179.9Q314.9 131 312.7 82.1" stroke="#c9b070" stroke-width="1.2" opacity="0.9"/>
<path d="M315.6 179.9Q317.7 137 316 94" stroke="#9a8446" stroke-width="0.8" opacity="0.7"/>
<path d="M314.6 107Q311.7 76.1 312.6 45.2" stroke="#c0a868" stroke-width="0.7" opacity=".7"/>
<path d="M308.3 107Q307.3 75.8 318.2 44.5" stroke="#a89058" stroke-width="0.5" opacity=".7"/>
<path d="M314.9 89.3Q307.1 73.6 299.6 100.7" stroke="#855a36" stroke-width="0.9" opacity="0.8"/>
<path d="M319.8 77.9Q309.9 72.5 299.4 98.9" stroke="#b59a5a" stroke-width="0.7" opacity="0.6"/>
<path d="M314.8 114.1Q305.3 100.8 301 130.6" stroke="#c9b070" stroke-width="0.7" opacity="0.8"/>
<path d="M310.3 84.2Q319.9 68.9 326.6 97.1" stroke="#ad8256" stroke-width="0.9" opacity="0.6"/>
<path d="M306.5 98.2Q313.5 86.8 316.2 115.2" stroke="#b48a62" stroke-width="0.7" opacity="0.5"/>
<path d="M315.2 104.1Q325 94.2 328.4 152.4" stroke="#855a36" stroke-width="0.6" opacity="0.7"/>
<path d="M314.1 110.3Q318.3 100.5 326.2 156.1" stroke="#a89058" stroke-width="0.6" opacity="0.7"/>
<path d="M321.8 87.6Q327.8 74.1 338.5 102.8" stroke="#9c6e44" stroke-width="0.9" opacity="0.6"/>
<path d="M306 75.3Q297.8 62.1 286.5 113.8" stroke="#b59a5a" stroke-width="0.7" opacity="0.7"/>
<path d="M313.7 78.5Q323.2 71.8 332.8 100.7" stroke="#9c6e44" stroke-width="1" opacity="0.6"/>
<path d="M318.6 91.1C318.1 88.8 317.3 86.4 316.4 84.3" stroke="#729434" stroke-width=".6" opacity=".85"/>
<path d="M316.4 84.3C314.5 79.9 311.8 76.3 309.3 74.9" stroke="#5e4226" stroke-width="2.4" opacity=".7" stroke-linecap="round" stroke-dasharray="5.7 0.3 4.1 1"/>
<path d="M316.4 84.3C314.5 79.9 311.8 76.3 309.3 74.9" stroke="#9c6e44" stroke-width="1.8" stroke-dasharray="1.6 0.7 1.8 0.6 1 1.4" opacity=".95" stroke-linecap="butt"/>
<path d="M316.4 84.3C314.5 79.9 311.8 76.3 309.3 74.9" stroke="#c4a27c" stroke-width="0.7" stroke-dasharray="1.3 1.5" opacity=".6" stroke-linecap="butt" transform="translate(0.3 -0.6)"/>
<path d="M315.8 101C316.4 97.2 316.5 93.3 316.2 89.8" stroke="#c0a868" stroke-width=".6" opacity=".85"/>
<path d="M316.2 89.8C315.7 84.6 314.2 80.2 312 77.8" stroke="#785632" stroke-width="2.3" opacity=".7" stroke-linecap="round" stroke-dasharray="4.4 0.6 2.2 1"/>
<path d="M316.2 89.8C315.7 84.6 314.2 80.2 312 77.8" stroke="#b48a62" stroke-width="1.7" stroke-dasharray="1.6 0.4 1.7 0.4 1.3 1.2" opacity=".95" stroke-linecap="butt"/>
<path d="M316.2 89.8C315.7 84.6 314.2 80.2 312 77.8" stroke="#c4a27c" stroke-width="0.7" stroke-dasharray="1.2 0.9" opacity=".6" stroke-linecap="butt" transform="translate(-0.7 -0.7)"/>
<path d="M308.3 118.4C306.7 111.7 306 104.9 306 98.4" stroke="#b59a5a" stroke-width=".6" opacity=".85"/>
<path d="M306 98.4C306 85 309.2 73 314.6 66.5" stroke="#66482a" stroke-width="2.6" opacity=".7" stroke-linecap="round" stroke-dasharray="5.8 1.2 3.7 0.4"/>
<path d="M306 98.4C306 85 309.2 73 314.6 66.5" stroke="#9c6e44" stroke-width="1.9" stroke-dasharray="0.9 1 1.4 0.5 0.9 1.4" opacity=".95" stroke-linecap="butt"/>
<path d="M306 98.4C306 85 309.2 73 314.6 66.5" stroke="#c4a27c" stroke-width="0.8" stroke-dasharray="0.9 1.5" opacity=".6" stroke-linecap="butt" transform="translate(0 0.1)"/>
<path d="M307.6 122.4C304.8 113.8 303.1 105 302.6 96.6" stroke="#c9b070" stroke-width=".6" opacity=".85"/>
<path d="M302.6 96.6C301.6 80.6 304.8 66.2 311.4 58.1" stroke="#785632" stroke-width="2.1" opacity=".7" stroke-linecap="round" stroke-dasharray="5.9 0.8 3.2 0.7"/>
<path d="M302.6 96.6C301.6 80.6 304.8 66.2 311.4 58.1" stroke="#ad8256" stroke-width="1.6" stroke-dasharray="0.9 0.5 1.9 0.6 1.4 0.6" opacity=".95" stroke-linecap="butt"/>
<path d="M302.6 96.6C301.6 80.6 304.8 66.2 311.4 58.1" stroke="#c4a27c" stroke-width="0.6" stroke-dasharray="0.8 1.5" opacity=".6" stroke-linecap="butt" transform="translate(0.5 -0.1)"/>
<path d="M308.9 95.8C306.5 90.3 305.4 84.8 305.4 79.8" stroke="#c9b070" stroke-width=".6" opacity=".85"/>
<path d="M305.4 79.8C305.4 71.3 308.7 64.1 314.6 60.4" stroke="#66482a" stroke-width="2.3" opacity=".7" stroke-linecap="round" stroke-dasharray="3.2 0.6 3.6 0.6"/>
<path d="M305.4 79.8C305.4 71.3 308.7 64.1 314.6 60.4" stroke="#a67a50" stroke-width="1.7" stroke-dasharray="1.4 1 1.9 0.7 0.7 1.4" opacity=".95" stroke-linecap="butt"/>
<path d="M305.4 79.8C305.4 71.3 308.7 64.1 314.6 60.4" stroke="#caa884" stroke-width="0.7" stroke-dasharray="1.3 1" opacity=".6" stroke-linecap="butt" transform="translate(-0.5 -0.2)"/>
<path d="M319.3 112.9C323.2 106.7 325.9 100.4 327.4 94.2" stroke="#9a8446" stroke-width=".6" opacity=".85"/>
<path d="M327.4 94.2C330.7 79.8 327.3 66.6 317.9 59.3" stroke="#785632" stroke-width="2.2" opacity=".7" stroke-linecap="round" stroke-dasharray="3.6 0.8 2.9 0.7"/>
<path d="M327.4 94.2C330.7 79.8 327.3 66.6 317.9 59.3" stroke="#9c6e44" stroke-width="1.6" stroke-dasharray="1.5 0.5 1.8 0.7 1.3 0.9" opacity=".95" stroke-linecap="butt"/>
<path d="M327.4 94.2C330.7 79.8 327.3 66.6 317.9 59.3" stroke="#caa884" stroke-width="0.7" stroke-dasharray="0.7 1.3" opacity=".6" stroke-linecap="butt" transform="translate(0.1 -0.7)"/>
<path d="M315.7 110.8C312.9 105.2 311 99.4 309.9 93.9" stroke="#b59a5a" stroke-width=".6" opacity=".85"/>
<path d="M309.9 93.9C307.4 80.2 310.3 67.6 317.7 60.8" stroke="#785632" stroke-width="2" opacity=".7" stroke-linecap="round" stroke-dasharray="3.3 1 2.5 0.5"/>
<path d="M309.9 93.9C307.4 80.2 310.3 67.6 317.7 60.8" stroke="#b99064" stroke-width="1.5" stroke-dasharray="1.4 1.2 2.5 0.9 0.9 0.7" opacity=".95" stroke-linecap="butt"/>
<path d="M309.9 93.9C307.4 80.2 310.3 67.6 317.7 60.8" stroke="#b48e68" stroke-width="0.6" stroke-dasharray="1.1 1.5" opacity=".6" stroke-linecap="butt" transform="translate(-0.4 -0.4)"/>
<path d="M306.4 99.9C304 92.1 303.3 84.6 304.1 77.8" stroke="#c0a868" stroke-width=".6" opacity=".85"/>
<path d="M304.1 77.8C305.5 66.3 311.2 57.2 319.9 53.4" stroke="#6e4e2c" stroke-width="2.7" opacity=".7" stroke-linecap="round" stroke-dasharray="5 1.2 2.6 0.4"/>
<path d="M304.1 77.8C305.5 66.3 311.2 57.2 319.9 53.4" stroke="#7a5230" stroke-width="2" stroke-dasharray="0.9 0.7 2.4 0.7 0.7 0.7" opacity=".95" stroke-linecap="butt"/>
<path d="M304.1 77.8C305.5 66.3 311.2 57.2 319.9 53.4" stroke="#c4a27c" stroke-width="0.8" stroke-dasharray="0.6 0.9" opacity=".6" stroke-linecap="butt" transform="translate(0.1 -0.1)"/>
<path d="M315 107.9C310.9 98.9 309 89.8 309.1 81.5" stroke="#a89058" stroke-width=".6" opacity=".85"/>
<path d="M309.1 81.5C309.2 69.7 313.4 59.6 321 54.1" stroke="#6e4e2c" stroke-width="2.4" opacity=".7" stroke-linecap="round" stroke-dasharray="6.1 0.8 4.2 0.7"/>
<path d="M309.1 81.5C309.2 69.7 313.4 59.6 321 54.1" stroke="#9c6e44" stroke-width="1.8" stroke-dasharray="1.8 1 1.3 0.6 1 0.7" opacity=".95" stroke-linecap="butt"/>
<path d="M309.1 81.5C309.2 69.7 313.4 59.6 321 54.1" stroke="#b48e68" stroke-width="0.7" stroke-dasharray="0.8 1.5" opacity=".6" stroke-linecap="butt" transform="translate(-0 -0.3)"/>
<path d="M322.8 116.6C327.2 109.4 329.9 101.8 331 94.7" stroke="#a89058" stroke-width=".6" opacity=".85"/>
<path d="M331 94.7C332.7 82.8 329.8 72.1 322.6 65.7" stroke="#5e4226" stroke-width="2.6" opacity=".7" stroke-linecap="round" stroke-dasharray="4.8 0.6 2.1 0.6"/>
<path d="M331 94.7C332.7 82.8 329.8 72.1 322.6 65.7" stroke="#946a46" stroke-width="2" stroke-dasharray="1.1 0.8 1.1 0.8 1 1.4" opacity=".95" stroke-linecap="butt"/>
<path d="M331 94.7C332.7 82.8 329.8 72.1 322.6 65.7" stroke="#b48e68" stroke-width="0.8" stroke-dasharray="1 1.3" opacity=".6" stroke-linecap="butt" transform="translate(-0.2 -0.7)"/>
<path d="M309.1 102.3C307.6 95.7 307.4 89.5 308.5 84" stroke="#a89058" stroke-width=".6" opacity=".85"/>
<path d="M308.5 84C310.2 75.3 315 68.5 321.8 65.8" stroke="#5e4226" stroke-width="2.5" opacity=".7" stroke-linecap="round" stroke-dasharray="3.6 1.2 4.7 0.5"/>
<path d="M308.5 84C310.2 75.3 315 68.5 321.8 65.8" stroke="#a67a50" stroke-width="1.9" stroke-dasharray="1.2 1.2 1.7 0.6 1.5 1.1" opacity=".95" stroke-linecap="butt"/>
<path d="M308.5 84C310.2 75.3 315 68.5 321.8 65.8" stroke="#caa884" stroke-width="0.7" stroke-dasharray="0.9 0.8" opacity=".6" stroke-linecap="butt" transform="translate(0.6 -0.2)"/>
<path d="M310.9 111.6C307.5 103.4 306.2 95.4 306.8 88.3" stroke="#9a8446" stroke-width=".6" opacity=".85"/>
<path d="M306.8 88.3C307.7 78 312.4 69.6 320.2 65.5" stroke="#6e4e2c" stroke-width="2" opacity=".7" stroke-linecap="round" stroke-dasharray="3.9 0.5 3.5 1"/>
<path d="M306.8 88.3C307.7 78 312.4 69.6 320.2 65.5" stroke="#ad8256" stroke-width="1.5" stroke-dasharray="1.7 0.8 2.4 0.9 1.1 1.1" opacity=".95" stroke-linecap="butt"/>
<path d="M306.8 88.3C307.7 78 312.4 69.6 320.2 65.5" stroke="#bc9872" stroke-width="0.6" stroke-dasharray="1.2 0.9" opacity=".6" stroke-linecap="butt" transform="translate(0.5 -0.4)"/>
<path d="M312.9 99.2C311.9 94.4 311.9 89.8 312.7 85.8" stroke="#b59a5a" stroke-width=".6" opacity=".85"/>
<path d="M312.7 85.8C314.2 78.2 318.5 72.5 324.5 70.7" stroke="#6e4e2c" stroke-width="2.8" opacity=".7" stroke-linecap="round" stroke-dasharray="5.3 1.1 2.5 0.6"/>
<path d="M312.7 85.8C314.2 78.2 318.5 72.5 324.5 70.7" stroke="#b48a62" stroke-width="2.1" stroke-dasharray="0.8 0.7 2.2 0.7 0.8 1.3" opacity=".95" stroke-linecap="butt"/>
<path d="M312.7 85.8C314.2 78.2 318.5 72.5 324.5 70.7" stroke="#bc9872" stroke-width="0.8" stroke-dasharray="1.3 1.8" opacity=".6" stroke-linecap="butt" transform="translate(0.1 -0.7)"/>
<path d="M306.4 107.4C304 99.9 303.4 93 304.2 86.9" stroke="#a89058" stroke-width=".6" opacity=".85"/>
<path d="M304.2 86.9C305.9 75.3 313 67 323.7 64.9" stroke="#6e4e2c" stroke-width="1.7" opacity=".7" stroke-linecap="round" stroke-dasharray="5.9 0.8 2.9 0.9"/>
<path d="M304.2 86.9C305.9 75.3 313 67 323.7 64.9" stroke="#9c6e44" stroke-width="1.3" stroke-dasharray="1.7 1.2 1.1 0.5 1 0.7" opacity=".95" stroke-linecap="butt"/>
<path d="M304.2 86.9C305.9 75.3 313 67 323.7 64.9" stroke="#c4a27c" stroke-width="0.5" stroke-dasharray="0.7 1.3" opacity=".6" stroke-linecap="butt" transform="translate(0.7 0.2)"/>
<path d="M313.6 116.1C310.8 109.6 309.4 103.2 309.2 97.3" stroke="#a89058" stroke-width=".6" opacity=".85"/>
<path d="M309.2 97.3C308.9 84.8 314.2 74.4 323.9 70" stroke="#66482a" stroke-width="1.7" opacity=".7" stroke-linecap="round" stroke-dasharray="3.4 1 3.3 0.9"/>
<path d="M309.2 97.3C308.9 84.8 314.2 74.4 323.9 70" stroke="#b99064" stroke-width="1.3" stroke-dasharray="1.5 0.5 1.4 0.5 1.2 1.2" opacity=".95" stroke-linecap="butt"/>
<path d="M309.2 97.3C308.9 84.8 314.2 74.4 323.9 70" stroke="#bc9872" stroke-width="0.5" stroke-dasharray="0.7 1.5" opacity=".6" stroke-linecap="butt" transform="translate(0.4 -0.7)"/>
<path d="M319.7 94C319.2 91.5 319.1 89.2 319.5 87.2" stroke="#a89058" stroke-width=".6" opacity=".85"/>
<path d="M319.5 87.2C320.3 82.2 323.4 78.8 327.7 78.2" stroke="#5e4226" stroke-width="1.8" opacity=".7" stroke-linecap="round" stroke-dasharray="3.9 0.8 3.7 0.3"/>
<path d="M319.5 87.2C320.3 82.2 323.4 78.8 327.7 78.2" stroke="#a67a50" stroke-width="1.4" stroke-dasharray="1.7 0.5 2.3 0.8 1 1.4" opacity=".95" stroke-linecap="butt"/>
<path d="M319.5 87.2C320.3 82.2 323.4 78.8 327.7 78.2" stroke="#b48e68" stroke-width="0.6" stroke-dasharray="0.7 1" opacity=".6" stroke-linecap="butt" transform="translate(-0.5 -0.1)"/>
<path d="M304 122.1C302.5 113.5 302.8 105.5 304.4 98.7" stroke="#729434" stroke-width=".6" opacity=".85"/>
<path d="M304.4 98.7C308 83.9 318.1 74 331.7 72.9" stroke="#5e4226" stroke-width="2.9" opacity=".7" stroke-linecap="round" stroke-dasharray="6.2 1.1 3.7 0.7"/>
<path d="M304.4 98.7C308 83.9 318.1 74 331.7 72.9" stroke="#9c6e44" stroke-width="2.2" stroke-dasharray="1 0.6 1.7 0.6 0.6 0.6" opacity=".95" stroke-linecap="butt"/>
<path d="M304.4 98.7C308 83.9 318.1 74 331.7 72.9" stroke="#caa884" stroke-width="0.9" stroke-dasharray="1.1 0.9" opacity=".6" stroke-linecap="butt" transform="translate(-0.6 -0.5)"/>
<path d="M322.1 109.6C320.4 105 319.8 100.7 320.2 96.9" stroke="#729434" stroke-width=".6" opacity=".85"/>
<path d="M320.2 96.9C320.9 90.2 324.8 85.2 330.9 83.5" stroke="#66482a" stroke-width="1.8" opacity=".7" stroke-linecap="round" stroke-dasharray="4.9 0.6 3.8 0.6"/>
<path d="M320.2 96.9C320.9 90.2 324.8 85.2 330.9 83.5" stroke="#9c6e44" stroke-width="1.3" stroke-dasharray="1.4 0.7 1.8 0.7 0.6 1" opacity=".95" stroke-linecap="butt"/>
<path d="M320.2 96.9C320.9 90.2 324.8 85.2 330.9 83.5" stroke="#bc9872" stroke-width="0.5" stroke-dasharray="1 1.3" opacity=".6" stroke-linecap="butt" transform="translate(0.5 0.2)"/>
<path d="M304.4 118.7C303 110.1 303.9 102.5 306.4 96.5" stroke="#c9b070" stroke-width=".6" opacity=".85"/>
<path d="M306.4 96.5C310.3 87.2 318.2 81.8 328.2 82" stroke="#785632" stroke-width="2.2" opacity=".7" stroke-linecap="round" stroke-dasharray="3.5 0.6 4 0.6"/>
<path d="M306.4 96.5C310.3 87.2 318.2 81.8 328.2 82" stroke="#946a46" stroke-width="1.6" stroke-dasharray="0.9 0.9 1 0.8 1.2 0.8" opacity=".95" stroke-linecap="butt"/>
<path d="M306.4 96.5C310.3 87.2 318.2 81.8 328.2 82" stroke="#b48e68" stroke-width="0.6" stroke-dasharray="0.8 1.1" opacity=".6" stroke-linecap="butt" transform="translate(-0.2 -0.5)"/>
<path d="M309.6 212.3L316.3 212.3L315.4 225.7L309.9 225.3Z" fill="#4d402b" opacity=".9"/>
<path d="M313 212.3L312.7 229.1" stroke="#8a7850" stroke-width="1.4"/>
<path d="M313.3 212.3L313.5 228" stroke="#4f4430" stroke-width="0.8"/>
<path d="M310.4 212.3L307.7 226.2" stroke="#7d6a45" stroke-width="0.9"/>
<path d="M310.3 212.3L308.4 225.5" stroke="#7d6a45" stroke-width="0.9"/>
<path d="M310.3 212.3L308.5 229.2" stroke="#5a4c34" stroke-width="0.8"/>
<path d="M312.3 212.3L311 224.6" stroke="#4f4430" stroke-width="0.9"/>
<path d="M315.2 212.3L315.9 229.7" stroke="#6b5a3c" stroke-width="1"/>
<path d="M309.7 176.9L318 176.9L317.1 213.3L308.8 213.7Z" fill="url(#wg)" stroke="none"/>
<path d="M308.8 195.9L317.1 195.7" stroke="#c98a2e" stroke-width=".9"/>
<rect x="309.7" y="188.3" width="4.1" height="7.3" fill="#eef0f2" stroke="none"/>
<path d="M327.3 156.6Q330 123.2 334.4 125.9" stroke="#9a8446" stroke-width="0.8" opacity="0.7"/>
<path d="M327.3 163.8Q323.6 129.8 313.6 161.2" stroke="#9c6e44" stroke-width="0.6" opacity="0.5"/>
<path d="M327.4 152.2Q323.6 120.8 313 118.2" stroke="#c0a868" stroke-width="0.7" opacity="0.7"/>
<path d="M327.4 137.6Q329.9 103.4 336.5 106.8" stroke="#9c6e44" stroke-width="0.7" opacity="0.5"/>
<path d="M327.5 126.3Q324.1 106.1 313.8 110" stroke="#b48a62" stroke-width="0.5" opacity="0.8"/>
<path d="M327.3 167Q331.7 142.2 339.9 145" stroke="#9a8446" stroke-width="0.7" opacity="0.6"/>
<path d="M324.6 182.6Q324.9 134.4 325.4 86.1" stroke="#7a922c" stroke-width="1" opacity="0.8"/>
<path d="M325.3 182.6Q322.7 138.4 323.4 94.3" stroke="#a89058" stroke-width="1.1" opacity="0.6"/>
<path d="M326.1 182.6Q326.8 137.2 325.5 91.9" stroke="#7a922c" stroke-width="1.1" opacity="0.8"/>
<path d="M326.8 182.6Q326.2 140.2 325.1 97.8" stroke="#c0a868" stroke-width="1" opacity="0.7"/>
<path d="M327.6 182.6Q328.1 143.9 329.9 105.3" stroke="#c0a868" stroke-width="0.6" opacity="0.8"/>
<path d="M328.3 182.6Q328 144 331.5 105.5" stroke="#9a8446" stroke-width="0.8" opacity="0.7"/>
<path d="M329.1 182.6Q329.3 143.9 329.5 105.1" stroke="#c9b070" stroke-width="0.8" opacity="0.6"/>
<path d="M329.8 182.6Q332.6 134.2 332.5 85.9" stroke="#628a2a" stroke-width="1" opacity="0.7"/>
<path d="M327 107Q329.2 72.8 333.2 38.5" stroke="#c0a868" stroke-width="0.5" opacity=".7"/>
<path d="M323.7 107Q324.6 74 333.2 41" stroke="#b59a5a" stroke-width="0.5" opacity=".7"/>
<path d="M323.8 102.4Q330.1 84.8 334.1 139.2" stroke="#b59a5a" stroke-width="0.7" opacity="0.7"/>
<path d="M329.4 75.9Q338.2 60.6 349.7 116.7" stroke="#b99064" stroke-width="0.7" opacity="0.8"/>
<path d="M337.1 105.6Q341.3 96.2 346.6 153.5" stroke="#b48a62" stroke-width="0.6" opacity="0.7"/>
<path d="M329.8 72.4Q335 66.4 346.5 95.3" stroke="#ad8256" stroke-width="0.7" opacity="0.5"/>
<path d="M324.2 110Q330.4 92.5 335.2 141.2" stroke="#855a36" stroke-width="1" opacity="0.6"/>
<path d="M329.6 73.8Q335.6 68.1 347 85.7" stroke="#7a5230" stroke-width="0.5" opacity="0.7"/>
<path d="M323.1 81.7Q326.8 70.7 336 103.1" stroke="#b48a62" stroke-width="0.8" opacity="0.6"/>
<path d="M336.8 78.6Q328.3 61.6 324.4 100.9" stroke="#9c6e44" stroke-width="0.8" opacity="0.6"/>
<path d="M336.4 83.5Q340.9 71.5 344.1 133.3" stroke="#855a36" stroke-width="0.7" opacity="0.7"/>
<path d="M325.6 90.5Q331 77.5 342.8 116.6" stroke="#c0a868" stroke-width="0.6" opacity="0.6"/>
<path d="M326.1 120.1C326.8 115.6 327.2 111.1 327.1 106.7" stroke="#c9b070" stroke-width=".6" opacity=".85"/>
<path d="M327.1 106.7C327 97.3 325.1 88.7 321.8 84.1" stroke="#785632" stroke-width="2.3" opacity=".7" stroke-linecap="round" stroke-dasharray="3.3 0.4 3.5 0.9"/>
<path d="M327.1 106.7C327 97.3 325.1 88.7 321.8 84.1" stroke="#b48a62" stroke-width="1.7" stroke-dasharray="1.5 1.1 1.8 0.9 0.7 0.6" opacity=".95" stroke-linecap="butt"/>
<path d="M327.1 106.7C327 97.3 325.1 88.7 321.8 84.1" stroke="#b48e68" stroke-width="0.7" stroke-dasharray="1.2 1.7" opacity=".6" stroke-linecap="butt" transform="translate(-0.2 -0.4)"/>
<path d="M322 113C319.4 105.8 318.1 98.4 318 91.6" stroke="#729434" stroke-width=".6" opacity=".85"/>
<path d="M318 91.6C317.8 81.9 320.2 73.4 324.6 68.4" stroke="#6e4e2c" stroke-width="2.3" opacity=".7" stroke-linecap="round" stroke-dasharray="6.4 0.3 2.4 1"/>
<path d="M318 91.6C317.8 81.9 320.2 73.4 324.6 68.4" stroke="#946a46" stroke-width="1.7" stroke-dasharray="1.4 0.9 1.7 0.6 0.7 1" opacity=".95" stroke-linecap="butt"/>
<path d="M318 91.6C317.8 81.9 320.2 73.4 324.6 68.4" stroke="#bc9872" stroke-width="0.7" stroke-dasharray="0.8 1.1" opacity=".6" stroke-linecap="butt" transform="translate(-0.1 -0.2)"/>
<path d="M320.4 93.4C319.9 89.9 319.9 86.5 320.5 83.4" stroke="#729434" stroke-width=".6" opacity=".85"/>
<path d="M320.5 83.4C321.7 76.3 325.4 70.7 330.4 68.7" stroke="#5e4226" stroke-width="2.1" opacity=".7" stroke-linecap="round" stroke-dasharray="3.6 1.1 4.3 0.8"/>
<path d="M320.5 83.4C321.7 76.3 325.4 70.7 330.4 68.7" stroke="#7a5230" stroke-width="1.6" stroke-dasharray="1 0.6 2.3 0.4 1.2 0.5" opacity=".95" stroke-linecap="butt"/>
<path d="M320.5 83.4C321.7 76.3 325.4 70.7 330.4 68.7" stroke="#c4a27c" stroke-width="0.6" stroke-dasharray="1.4 1.3" opacity=".6" stroke-linecap="butt" transform="translate(-0.2 -0.2)"/>
<path d="M320.3 113.1C318.8 106.6 318.4 100.1 319 94" stroke="#557f26" stroke-width=".6" opacity=".85"/>
<path d="M319 94C320.1 82.1 325 72.1 332.2 67.4" stroke="#785632" stroke-width="2.5" opacity=".7" stroke-linecap="round" stroke-dasharray="3.2 1.1 4.3 0.8"/>
<path d="M319 94C320.1 82.1 325 72.1 332.2 67.4" stroke="#7a5230" stroke-width="1.8" stroke-dasharray="1.7 0.4 2.1 0.6 0.7 1.3" opacity=".95" stroke-linecap="butt"/>
<path d="M319 94C320.1 82.1 325 72.1 332.2 67.4" stroke="#c4a27c" stroke-width="0.7" stroke-dasharray="0.9 1.6" opacity=".6" stroke-linecap="butt" transform="translate(-0.4 0.3)"/>
<path d="M323 104.1C320 96.9 318.9 89.7 319.2 83.2" stroke="#b59a5a" stroke-width=".6" opacity=".85"/>
<path d="M319.2 83.2C319.8 73.5 323.7 65.5 330.3 61.3" stroke="#66482a" stroke-width="2" opacity=".7" stroke-linecap="round" stroke-dasharray="3.3 0.4 4.4 0.7"/>
<path d="M319.2 83.2C319.8 73.5 323.7 65.5 330.3 61.3" stroke="#b48a62" stroke-width="1.5" stroke-dasharray="1 1 1.3 0.7 1.2 1.1" opacity=".95" stroke-linecap="butt"/>
<path d="M319.2 83.2C319.8 73.5 323.7 65.5 330.3 61.3" stroke="#bc9872" stroke-width="0.6" stroke-dasharray="1 0.8" opacity=".6" stroke-linecap="butt" transform="translate(-0.2 -0.2)"/>
<path d="M329 93C327.4 88.6 326.4 84 326 79.7" stroke="#c0a868" stroke-width=".6" opacity=".85"/>
<path d="M326 79.7C325.1 69.6 327.3 60.4 332 55.5" stroke="#66482a" stroke-width="2.8" opacity=".7" stroke-linecap="round" stroke-dasharray="6.4 1 3.4 0.6"/>
<path d="M326 79.7C325.1 69.6 327.3 60.4 332 55.5" stroke="#7a5230" stroke-width="2.1" stroke-dasharray="1.5 0.8 2.4 0.3 0.6 0.9" opacity=".95" stroke-linecap="butt"/>
<path d="M326 79.7C325.1 69.6 327.3 60.4 332 55.5" stroke="#c4a27c" stroke-width="0.8" stroke-dasharray="1 0.9" opacity=".6" stroke-linecap="butt" transform="translate(-0.6 -0.2)"/>
<path d="M337.2 116.3C339.4 109.2 340.6 101.9 340.8 95.1" stroke="#557f26" stroke-width=".6" opacity=".85"/>
<path d="M340.8 95.1C341.3 81.2 337.8 68.8 331.3 62.2" stroke="#66482a" stroke-width="2.4" opacity=".7" stroke-linecap="round" stroke-dasharray="4.8 0.7 4.1 0.4"/>
<path d="M340.8 95.1C341.3 81.2 337.8 68.8 331.3 62.2" stroke="#b48a62" stroke-width="1.8" stroke-dasharray="1.7 1 1.9 0.5 0.7 0.6" opacity=".95" stroke-linecap="butt"/>
<path d="M340.8 95.1C341.3 81.2 337.8 68.8 331.3 62.2" stroke="#caa884" stroke-width="0.7" stroke-dasharray="0.9 1.3" opacity=".6" stroke-linecap="butt" transform="translate(-0.4 -0.6)"/>
<path d="M338.2 98.7C340.8 92.2 341.9 85.7 341.6 79.7" stroke="#a89058" stroke-width=".6" opacity=".85"/>
<path d="M341.6 79.7C341.2 70.7 337.6 63.1 331.6 59.2" stroke="#66482a" stroke-width="2.2" opacity=".7" stroke-linecap="round" stroke-dasharray="4.6 1.1 3.3 0.6"/>
<path d="M341.6 79.7C341.2 70.7 337.6 63.1 331.6 59.2" stroke="#b48a62" stroke-width="1.7" stroke-dasharray="1.6 0.6 1.6 0.8 0.9 0.6" opacity=".95" stroke-linecap="butt"/>
<path d="M341.6 79.7C341.2 70.7 337.6 63.1 331.6 59.2" stroke="#c4a27c" stroke-width="0.7" stroke-dasharray="0.7 1.2" opacity=".6" stroke-linecap="butt" transform="translate(0.6 -0.7)"/>
<path d="M325.8 112.3C323 103.6 322.3 95 323.2 87.4" stroke="#c0a868" stroke-width=".6" opacity=".85"/>
<path d="M323.2 87.4C324.4 76.8 328.8 68.1 335.5 63.6" stroke="#5e4226" stroke-width="2" opacity=".7" stroke-linecap="round" stroke-dasharray="3.5 0.8 3.9 0.4"/>
<path d="M323.2 87.4C324.4 76.8 328.8 68.1 335.5 63.6" stroke="#b48a62" stroke-width="1.5" stroke-dasharray="1.1 1 2 0.8 1.1 0.7" opacity=".95" stroke-linecap="butt"/>
<path d="M323.2 87.4C324.4 76.8 328.8 68.1 335.5 63.6" stroke="#caa884" stroke-width="0.6" stroke-dasharray="0.7 1.5" opacity=".6" stroke-linecap="butt" transform="translate(-0.5 -0.2)"/>
<path d="M329.3 119.7C326.5 111.2 325.2 102.8 325.3 94.9" stroke="#b59a5a" stroke-width=".6" opacity=".85"/>
<path d="M325.3 94.9C325.5 80.5 330.4 68.2 338.6 61.9" stroke="#66482a" stroke-width="2.5" opacity=".7" stroke-linecap="round" stroke-dasharray="4.1 0.4 4.1 0.4"/>
<path d="M325.3 94.9C325.5 80.5 330.4 68.2 338.6 61.9" stroke="#b48a62" stroke-width="1.9" stroke-dasharray="1.6 0.5 1.5 0.8 1.5 0.8" opacity=".95" stroke-linecap="butt"/>
<path d="M325.3 94.9C325.5 80.5 330.4 68.2 338.6 61.9" stroke="#c4a27c" stroke-width="0.8" stroke-dasharray="1.2 0.9" opacity=".6" stroke-linecap="butt" transform="translate(-0.6 -0)"/>
<path d="M332.8 97.8C329.4 92.1 327.3 86.3 326.5 80.7" stroke="#c9b070" stroke-width=".6" opacity=".85"/>
<path d="M326.5 80.7C324.9 70.5 327.6 61.2 334.1 56" stroke="#5e4226" stroke-width="2.1" opacity=".7" stroke-linecap="round" stroke-dasharray="5 1.2 4.5 0.4"/>
<path d="M326.5 80.7C324.9 70.5 327.6 61.2 334.1 56" stroke="#ad8256" stroke-width="1.6" stroke-dasharray="1.7 0.9 1.8 0.4 0.9 0.7" opacity=".95" stroke-linecap="butt"/>
<path d="M326.5 80.7C324.9 70.5 327.6 61.2 334.1 56" stroke="#caa884" stroke-width="0.6" stroke-dasharray="0.9 0.8" opacity=".6" stroke-linecap="butt" transform="translate(-0.6 -0.4)"/>
<path d="M325 102.3C321 94.1 319.7 86.4 320.5 79.9" stroke="#a89058" stroke-width=".6" opacity=".85"/>
<path d="M320.5 79.9C321.7 70.5 327.6 63.5 337.1 60.9" stroke="#785632" stroke-width="2.5" opacity=".7" stroke-linecap="round" stroke-dasharray="3.6 0.6 4.3 0.3"/>
<path d="M320.5 79.9C321.7 70.5 327.6 63.5 337.1 60.9" stroke="#946a46" stroke-width="1.9" stroke-dasharray="1.5 0.7 1.8 0.6 1.3 0.6" opacity=".95" stroke-linecap="butt"/>
<path d="M320.5 79.9C321.7 70.5 327.6 63.5 337.1 60.9" stroke="#caa884" stroke-width="0.7" stroke-dasharray="0.8 1.4" opacity=".6" stroke-linecap="butt" transform="translate(-0.3 -0.6)"/>
<path d="M336.3 114.5C332 106.9 329.5 99.2 328.9 92" stroke="#b59a5a" stroke-width=".6" opacity=".85"/>
<path d="M328.9 92C327.6 79 332 67.7 341.1 61.7" stroke="#5e4226" stroke-width="3" opacity=".7" stroke-linecap="round" stroke-dasharray="5.8 1.2 3.4 0.8"/>
<path d="M328.9 92C327.6 79 332 67.7 341.1 61.7" stroke="#b48a62" stroke-width="2.2" stroke-dasharray="0.9 1.1 2.4 0.5 1.2 1.3" opacity=".95" stroke-linecap="butt"/>
<path d="M328.9 92C327.6 79 332 67.7 341.1 61.7" stroke="#c4a27c" stroke-width="0.9" stroke-dasharray="0.7 1.6" opacity=".6" stroke-linecap="butt" transform="translate(-0.4 0.1)"/>
<path d="M334.9 122.8C329.1 115.5 325.7 108.1 324.6 101.3" stroke="#557f26" stroke-width=".6" opacity=".85"/>
<path d="M324.6 101.3C322.7 89.2 327.9 78.8 339.3 73.5" stroke="#66482a" stroke-width="2.4" opacity=".7" stroke-linecap="round" stroke-dasharray="5.5 0.8 3.6 1"/>
<path d="M324.6 101.3C322.7 89.2 327.9 78.8 339.3 73.5" stroke="#b48a62" stroke-width="1.8" stroke-dasharray="1.6 1.1 2.1 0.7 1.1 1" opacity=".95" stroke-linecap="butt"/>
<path d="M324.6 101.3C322.7 89.2 327.9 78.8 339.3 73.5" stroke="#c4a27c" stroke-width="0.7" stroke-dasharray="1.3 1.1" opacity=".6" stroke-linecap="butt" transform="translate(-0.1 -0.4)"/>
<path d="M322.5 100.5C321 94.7 320.9 89.3 321.9 84.7" stroke="#c9b070" stroke-width=".6" opacity=".85"/>
<path d="M321.9 84.7C323.7 75.7 329.8 69.5 338.4 68.5" stroke="#66482a" stroke-width="2" opacity=".7" stroke-linecap="round" stroke-dasharray="4.5 0.7 4.9 0.7"/>
<path d="M321.9 84.7C323.7 75.7 329.8 69.5 338.4 68.5" stroke="#9c6e44" stroke-width="1.5" stroke-dasharray="0.9 0.4 1.4 0.4 1.3 0.7" opacity=".95" stroke-linecap="butt"/>
<path d="M321.9 84.7C323.7 75.7 329.8 69.5 338.4 68.5" stroke="#caa884" stroke-width="0.6" stroke-dasharray="1.2 1.5" opacity=".6" stroke-linecap="butt" transform="translate(0.5 0.2)"/>
<path d="M324.2 118.4C320.6 109.4 319.5 100.7 320.5 93.2" stroke="#729434" stroke-width=".6" opacity=".85"/>
<path d="M320.5 93.2C322 82 328.3 73.4 338.1 69.9" stroke="#6e4e2c" stroke-width="2.7" opacity=".7" stroke-linecap="round" stroke-dasharray="3.5 0.5 3.4 0.3"/>
<path d="M320.5 93.2C322 82 328.3 73.4 338.1 69.9" stroke="#9c6e44" stroke-width="2" stroke-dasharray="0.9 0.9 1.4 0.7 0.9 1.2" opacity=".95" stroke-linecap="butt"/>
<path d="M320.5 93.2C322 82 328.3 73.4 338.1 69.9" stroke="#bc9872" stroke-width="0.8" stroke-dasharray="1.2 1.4" opacity=".6" stroke-linecap="butt" transform="translate(-0.6 -0.2)"/>
<path d="M338.6 112C333.6 105.7 331.1 99.5 330.9 93.9" stroke="#729434" stroke-width=".6" opacity=".85"/>
<path d="M330.9 93.9C330.5 86.1 334.7 79.6 342.6 76.3" stroke="#6e4e2c" stroke-width="2.6" opacity=".7" stroke-linecap="round" stroke-dasharray="5.7 1.1 3.8 1"/>
<path d="M330.9 93.9C330.5 86.1 334.7 79.6 342.6 76.3" stroke="#ad8256" stroke-width="1.9" stroke-dasharray="1.1 0.7 2.2 0.5 1.3 0.6" opacity=".95" stroke-linecap="butt"/>
<path d="M330.9 93.9C330.5 86.1 334.7 79.6 342.6 76.3" stroke="#bc9872" stroke-width="0.8" stroke-dasharray="1.1 1.8" opacity=".6" stroke-linecap="butt" transform="translate(-0.2 -0.7)"/>
<path d="M325 119.8C323 112.6 322.9 106.1 324.2 100.8" stroke="#b59a5a" stroke-width=".6" opacity=".85"/>
<path d="M324.2 100.8C326.7 91.1 333.9 85.1 344.2 84.9" stroke="#6e4e2c" stroke-width="2.9" opacity=".7" stroke-linecap="round" stroke-dasharray="5.8 0.3 4.6 0.7"/>
<path d="M324.2 100.8C326.7 91.1 333.9 85.1 344.2 84.9" stroke="#a67a50" stroke-width="2.2" stroke-dasharray="1.8 0.6 1.1 0.4 1.1 0.5" opacity=".95" stroke-linecap="butt"/>
<path d="M324.2 100.8C326.7 91.1 333.9 85.1 344.2 84.9" stroke="#bc9872" stroke-width="0.9" stroke-dasharray="1.3 1.4" opacity=".6" stroke-linecap="butt" transform="translate(0.4 0.1)"/>
<path d="M332.9 118.9C329.7 112.1 328.5 106 329.1 100.8" stroke="#c0a868" stroke-width=".6" opacity=".85"/>
<path d="M329.1 100.8C330 91.6 336.3 85.4 346.4 84.3" stroke="#6e4e2c" stroke-width="2.7" opacity=".7" stroke-linecap="round" stroke-dasharray="5.6 0.6 4.5 0.4"/>
<path d="M329.1 100.8C330 91.6 336.3 85.4 346.4 84.3" stroke="#9c6e44" stroke-width="2.1" stroke-dasharray="0.9 0.7 1.2 0.8 1.2 1" opacity=".95" stroke-linecap="butt"/>
<path d="M329.1 100.8C330 91.6 336.3 85.4 346.4 84.3" stroke="#b48e68" stroke-width="0.8" stroke-dasharray="1.1 0.9" opacity=".6" stroke-linecap="butt" transform="translate(0.2 -0.1)"/>
<path d="M324 215.7L330.4 215.7L329.7 229.6L325.3 227Z" fill="#4d402b" opacity=".9"/>
<path d="M327.9 215.7L328.7 227.2" stroke="#5a4c34" stroke-width="1.3"/>
<path d="M327.3 215.7L327.3 233.5" stroke="#5a4c34" stroke-width="1"/>
<path d="M325.6 215.7L324.2 230.2" stroke="#7d6a45" stroke-width="0.9"/>
<path d="M327.2 215.7L327.4 230.8" stroke="#5a4c34" stroke-width="1.4"/>
<path d="M327 215.7L326 227.1" stroke="#8a7850" stroke-width="0.9"/>
<path d="M325.9 215.7L325.1 231.1" stroke="#4f4430" stroke-width="1.1"/>
<path d="M325.8 215.7L325.4 231.2" stroke="#4f4430" stroke-width="0.9"/>
<path d="M323.5 179.6L331.5 180.3L331.2 216.7L323.2 216.7Z" fill="url(#wg)" stroke="none"/>
<path d="M323.2 202.1L331.2 201.5" stroke="#c98a2e" stroke-width=".9"/>
<rect x="324" y="191.4" width="4" height="6.6" fill="#eef0f2" stroke="none"/>
<path d="M345.2 131Q348 100.2 355.4 114" stroke="#9c6e44" stroke-width="0.5" opacity="0.5"/>
<path d="M345.2 129Q343.1 100.2 334.3 108.4" stroke="#9c6e44" stroke-width="0.7" opacity="0.6"/>
<path d="M345.4 111.4Q341 80.7 330.7 92.3" stroke="#9a8446" stroke-width="0.4" opacity="0.8"/>
<path d="M345.5 111.2Q343.7 95.7 336.6 114.3" stroke="#946a46" stroke-width="0.7" opacity="0.7"/>
<path d="M345.3 123.7Q343.9 105.4 336.9 122.2" stroke="#a89058" stroke-width="0.7" opacity="0.5"/>
<path d="M344.8 169.5Q341.9 148.9 329.1 156.7" stroke="#b48a62" stroke-width="0.5" opacity="0.7"/>
<path d="M342.1 178.9Q342.9 131.8 341.6 84.8" stroke="#7a922c" stroke-width="1" opacity="0.7"/>
<path d="M342.8 178.9Q340.3 139.5 340 100" stroke="#b59a5a" stroke-width="0.7" opacity="0.8"/>
<path d="M343.6 178.9Q344.9 139.7 344 100.6" stroke="#b59a5a" stroke-width="0.7" opacity="0.6"/>
<path d="M344.3 178.9Q346.3 142.8 345.5 106.8" stroke="#9a8446" stroke-width="1.1" opacity="0.6"/>
<path d="M345.1 178.9Q346.4 133.7 348.1 88.4" stroke="#b59a5a" stroke-width="0.7" opacity="0.7"/>
<path d="M345.8 178.9Q348.5 142.6 348.4 106.3" stroke="#c9b070" stroke-width="1.1" opacity="0.7"/>
<path d="M346.6 178.9Q348.5 136.5 348.6 94.1" stroke="#a89058" stroke-width="0.9" opacity="0.9"/>
<path d="M347.3 178.9Q350.7 141.8 351.3 104.7" stroke="#729434" stroke-width="0.8" opacity="0.9"/>
<path d="M346.8 107Q348.3 73.2 355.9 39.4" stroke="#c9b070" stroke-width="0.6" opacity=".7"/>
<path d="M342.7 107Q345.3 68.8 348.1 30.7" stroke="#9a8446" stroke-width="0.6" opacity=".7"/>
<path d="M350.8 100Q360.4 82 365.4 125" stroke="#c9b070" stroke-width="0.6" opacity="0.5"/>
<path d="M354.8 84.3Q349.8 69.9 347 130.2" stroke="#b99064" stroke-width="0.8" opacity="0.8"/>
<path d="M349.3 104Q354.7 96.3 358.2 120" stroke="#ad8256" stroke-width="0.6" opacity="0.6"/>
<path d="M355.1 78.2Q361.1 64.6 363.1 104.1" stroke="#b59a5a" stroke-width="0.6" opacity="0.8"/>
<path d="M341.7 114.6Q348.4 102.8 350.7 125.1" stroke="#a67a50" stroke-width="0.6" opacity="0.5"/>
<path d="M348.3 102.1Q341.1 96.1 333.2 134.7" stroke="#b59a5a" stroke-width="0.9" opacity="0.5"/>
<path d="M347.7 86.1Q355.6 73.3 360.2 112.9" stroke="#b99064" stroke-width="0.8" opacity="0.5"/>
<path d="M345.2 107.2Q335.3 97 328.2 149.9" stroke="#b48a62" stroke-width="0.7" opacity="0.5"/>
<path d="M339.5 102.9Q332.2 97.7 328.3 116.6" stroke="#9c6e44" stroke-width="1" opacity="0.5"/>
<path d="M353.4 113.9Q343.8 96.6 335.6 160.9" stroke="#946a46" stroke-width="0.7" opacity="0.8"/>
<path d="M352.3 95.8C351.4 94.1 350.4 92.5 349.4 91.1" stroke="#c0a868" stroke-width=".6" opacity=".85"/>
<path d="M349.4 91.1C347.4 88.5 345.3 86.4 343.6 85.6" stroke="#66482a" stroke-width="2.4" opacity=".7" stroke-linecap="round" stroke-dasharray="3.7 0.8 4.9 0.5"/>
<path d="M349.4 91.1C347.4 88.5 345.3 86.4 343.6 85.6" stroke="#a67a50" stroke-width="1.8" stroke-dasharray="1.8 0.9 1.7 0.6 1 0.6" opacity=".95" stroke-linecap="butt"/>
<path d="M349.4 91.1C347.4 88.5 345.3 86.4 343.6 85.6" stroke="#c4a27c" stroke-width="0.7" stroke-dasharray="1.1 1.6" opacity=".6" stroke-linecap="butt" transform="translate(0.6 -0.3)"/>
<path d="M353.3 120.2C355.4 113.6 356.3 107.1 356.1 101.1" stroke="#b59a5a" stroke-width=".6" opacity=".85"/>
<path d="M356.1 101.1C355.8 89.8 351.7 80.3 344.8 75.6" stroke="#785632" stroke-width="2.4" opacity=".7" stroke-linecap="round" stroke-dasharray="3.8 1.1 3.2 1"/>
<path d="M356.1 101.1C355.8 89.8 351.7 80.3 344.8 75.6" stroke="#946a46" stroke-width="1.8" stroke-dasharray="1.2 0.8 2.6 0.9 0.9 1.4" opacity=".95" stroke-linecap="butt"/>
<path d="M356.1 101.1C355.8 89.8 351.7 80.3 344.8 75.6" stroke="#caa884" stroke-width="0.7" stroke-dasharray="1 1.4" opacity=".6" stroke-linecap="butt" transform="translate(-0.4 0.1)"/>
<path d="M349.3 113.2C351.4 108.7 352.8 104.1 353.5 99.7" stroke="#a89058" stroke-width=".6" opacity=".85"/>
<path d="M353.5 99.7C355.2 89.1 353.4 79.4 348.4 74" stroke="#5e4226" stroke-width="2.6" opacity=".7" stroke-linecap="round" stroke-dasharray="3.7 1.2 3.1 0.4"/>
<path d="M353.5 99.7C355.2 89.1 353.4 79.4 348.4 74" stroke="#7a5230" stroke-width="1.9" stroke-dasharray="1.2 1.1 1.4 0.7 0.8 0.8" opacity=".95" stroke-linecap="butt"/>
<path d="M353.5 99.7C355.2 89.1 353.4 79.4 348.4 74" stroke="#c4a27c" stroke-width="0.8" stroke-dasharray="1 1.6" opacity=".6" stroke-linecap="butt" transform="translate(-0.6 0)"/>
<path d="M346.8 97.2C344.2 92.1 342.8 86.9 342.5 82.1" stroke="#c9b070" stroke-width=".6" opacity=".85"/>
<path d="M342.5 82.1C342 74.2 344.4 67.3 349.5 63.4" stroke="#785632" stroke-width="2.8" opacity=".7" stroke-linecap="round" stroke-dasharray="5 0.7 4.5 0.4"/>
<path d="M342.5 82.1C342 74.2 344.4 67.3 349.5 63.4" stroke="#b99064" stroke-width="2.1" stroke-dasharray="1.6 0.9 1.2 0.7 1.1 1.2" opacity=".95" stroke-linecap="butt"/>
<path d="M342.5 82.1C342 74.2 344.4 67.3 349.5 63.4" stroke="#b48e68" stroke-width="0.8" stroke-dasharray="0.7 1.5" opacity=".6" stroke-linecap="butt" transform="translate(-0.2 -0.1)"/>
<path d="M342.7 102.7C341.5 95.7 341.5 88.6 342.4 82.3" stroke="#729434" stroke-width=".6" opacity=".85"/>
<path d="M342.4 82.3C344 72.3 347.9 64.1 353.3 59.9" stroke="#785632" stroke-width="2.7" opacity=".7" stroke-linecap="round" stroke-dasharray="5.4 0.6 5 0.4"/>
<path d="M342.4 82.3C344 72.3 347.9 64.1 353.3 59.9" stroke="#a67a50" stroke-width="2" stroke-dasharray="0.9 0.9 2.4 0.9 1.3 0.5" opacity=".95" stroke-linecap="butt"/>
<path d="M342.4 82.3C344 72.3 347.9 64.1 353.3 59.9" stroke="#b48e68" stroke-width="0.8" stroke-dasharray="0.9 1" opacity=".6" stroke-linecap="butt" transform="translate(-0.1 -0.3)"/>
<path d="M340 114.1C335.3 103.5 333.4 93 333.9 83.7" stroke="#b59a5a" stroke-width=".6" opacity=".85"/>
<path d="M333.9 83.7C334.8 69.4 341.6 57.8 353 52.3" stroke="#66482a" stroke-width="2.9" opacity=".7" stroke-linecap="round" stroke-dasharray="3.8 0.5 2.6 0.7"/>
<path d="M333.9 83.7C334.8 69.4 341.6 57.8 353 52.3" stroke="#b99064" stroke-width="2.2" stroke-dasharray="1.3 0.7 2.1 0.9 0.6 0.9" opacity=".95" stroke-linecap="butt"/>
<path d="M333.9 83.7C334.8 69.4 341.6 57.8 353 52.3" stroke="#caa884" stroke-width="0.9" stroke-dasharray="1.1 1" opacity=".6" stroke-linecap="butt" transform="translate(-0.7 -0.7)"/>
<path d="M346.9 123C342 115.2 339 107.2 337.7 99.7" stroke="#9a8446" stroke-width=".6" opacity=".85"/>
<path d="M337.7 99.7C335.1 84.3 339.9 70.7 350.9 63.4" stroke="#5e4226" stroke-width="2.9" opacity=".7" stroke-linecap="round" stroke-dasharray="5.1 0.9 2.2 0.8"/>
<path d="M337.7 99.7C335.1 84.3 339.9 70.7 350.9 63.4" stroke="#b99064" stroke-width="2.2" stroke-dasharray="1.5 0.9 1.4 0.3 1.3 0.9" opacity=".95" stroke-linecap="butt"/>
<path d="M337.7 99.7C335.1 84.3 339.9 70.7 350.9 63.4" stroke="#c4a27c" stroke-width="0.9" stroke-dasharray="0.6 0.9" opacity=".6" stroke-linecap="butt" transform="translate(-0.1 -0.4)"/>
<path d="M347.9 99.1C345.6 93.8 344.4 88.4 344.2 83.5" stroke="#9a8446" stroke-width=".6" opacity=".85"/>
<path d="M344.2 83.5C343.8 72.6 348.2 63.5 356.1 59.4" stroke="#66482a" stroke-width="2.7" opacity=".7" stroke-linecap="round" stroke-dasharray="4.2 0.9 2.6 0.3"/>
<path d="M344.2 83.5C343.8 72.6 348.2 63.5 356.1 59.4" stroke="#946a46" stroke-width="2" stroke-dasharray="1.6 0.7 2.6 0.7 0.9 1.2" opacity=".95" stroke-linecap="butt"/>
<path d="M344.2 83.5C343.8 72.6 348.2 63.5 356.1 59.4" stroke="#caa884" stroke-width="0.8" stroke-dasharray="1 0.9" opacity=".6" stroke-linecap="butt" transform="translate(0.7 -0.1)"/>
<path d="M339.4 115.3C335.4 104.4 334.2 93.8 335.5 84.4" stroke="#b59a5a" stroke-width=".6" opacity=".85"/>
<path d="M335.5 84.4C337.2 70.9 344.1 60.2 354.6 55.3" stroke="#66482a" stroke-width="2.2" opacity=".7" stroke-linecap="round" stroke-dasharray="3.1 0.4 2.1 0.7"/>
<path d="M335.5 84.4C337.2 70.9 344.1 60.2 354.6 55.3" stroke="#855a36" stroke-width="1.7" stroke-dasharray="1 0.8 1 0.3 1.5 1.3" opacity=".95" stroke-linecap="butt"/>
<path d="M335.5 84.4C337.2 70.9 344.1 60.2 354.6 55.3" stroke="#c4a27c" stroke-width="0.7" stroke-dasharray="0.9 1.4" opacity=".6" stroke-linecap="butt" transform="translate(-0.2 -0.5)"/>
<path d="M352.5 104.8C349.8 98.1 348.3 91.3 347.8 84.9" stroke="#9a8446" stroke-width=".6" opacity=".85"/>
<path d="M347.8 84.9C346.7 69.7 351.6 56.4 361 50" stroke="#66482a" stroke-width="2.9" opacity=".7" stroke-linecap="round" stroke-dasharray="3.2 0.5 3.9 0.5"/>
<path d="M347.8 84.9C346.7 69.7 351.6 56.4 361 50" stroke="#9c6e44" stroke-width="2.2" stroke-dasharray="1.5 0.7 2 0.7 0.9 1.1" opacity=".95" stroke-linecap="butt"/>
<path d="M347.8 84.9C346.7 69.7 351.6 56.4 361 50" stroke="#c4a27c" stroke-width="0.9" stroke-dasharray="0.9 1.3" opacity=".6" stroke-linecap="butt" transform="translate(-0 0.1)"/>
<path d="M349.9 95.9C346.1 89.4 344.2 82.9 344 77.1" stroke="#557f26" stroke-width=".6" opacity=".85"/>
<path d="M344 77.1C343.4 66.2 348.6 57.4 358.2 53.6" stroke="#5e4226" stroke-width="1.9" opacity=".7" stroke-linecap="round" stroke-dasharray="4.1 0.9 4.5 0.5"/>
<path d="M344 77.1C343.4 66.2 348.6 57.4 358.2 53.6" stroke="#b99064" stroke-width="1.4" stroke-dasharray="1.4 0.8 1 0.4 0.9 1.1" opacity=".95" stroke-linecap="butt"/>
<path d="M344 77.1C343.4 66.2 348.6 57.4 358.2 53.6" stroke="#caa884" stroke-width="0.6" stroke-dasharray="0.8 0.9" opacity=".6" stroke-linecap="butt" transform="translate(0.6 -0.4)"/>
<path d="M350.2 104.4C345.8 96.4 343.5 88.6 343.1 81.5" stroke="#9a8446" stroke-width=".6" opacity=".85"/>
<path d="M343.1 81.5C342.5 68.5 348.1 57.8 359 52.8" stroke="#785632" stroke-width="2.9" opacity=".7" stroke-linecap="round" stroke-dasharray="5.6 0.3 3.5 0.7"/>
<path d="M343.1 81.5C342.5 68.5 348.1 57.8 359 52.8" stroke="#b48a62" stroke-width="2.2" stroke-dasharray="1.6 0.8 1.7 0.6 0.9 0.7" opacity=".95" stroke-linecap="butt"/>
<path d="M343.1 81.5C342.5 68.5 348.1 57.8 359 52.8" stroke="#caa884" stroke-width="0.9" stroke-dasharray="1.1 0.9" opacity=".6" stroke-linecap="butt" transform="translate(-0.3 0.2)"/>
<path d="M344.6 121.3C339.9 112.4 337.4 103.8 336.8 95.9" stroke="#c9b070" stroke-width=".6" opacity=".85"/>
<path d="M336.8 95.9C335.3 77.4 344.5 63 361.6 58.1" stroke="#66482a" stroke-width="2.2" opacity=".7" stroke-linecap="round" stroke-dasharray="6.4 0.8 3.6 1"/>
<path d="M336.8 95.9C335.3 77.4 344.5 63 361.6 58.1" stroke="#9c6e44" stroke-width="1.6" stroke-dasharray="0.8 0.7 1.8 0.4 0.8 0.9" opacity=".95" stroke-linecap="butt"/>
<path d="M336.8 95.9C335.3 77.4 344.5 63 361.6 58.1" stroke="#c4a27c" stroke-width="0.7" stroke-dasharray="0.9 1.4" opacity=".6" stroke-linecap="butt" transform="translate(-0.5 -0.1)"/>
<path d="M340.7 119.9C336.4 106.7 335.6 94.6 337.9 84.5" stroke="#b59a5a" stroke-width=".6" opacity=".85"/>
<path d="M337.9 84.5C341.4 68.4 352.4 57.3 368.4 54.7" stroke="#785632" stroke-width="2.7" opacity=".7" stroke-linecap="round" stroke-dasharray="3.1 1 4.4 0.5"/>
<path d="M337.9 84.5C341.4 68.4 352.4 57.3 368.4 54.7" stroke="#9c6e44" stroke-width="2" stroke-dasharray="1.1 0.5 2.1 0.5 1.1 0.7" opacity=".95" stroke-linecap="butt"/>
<path d="M337.9 84.5C341.4 68.4 352.4 57.3 368.4 54.7" stroke="#b48e68" stroke-width="0.8" stroke-dasharray="0.9 1" opacity=".6" stroke-linecap="butt" transform="translate(0.7 -0.3)"/>
<path d="M356.2 106C352.3 99.6 350.3 93.3 349.9 87.6" stroke="#a89058" stroke-width=".6" opacity=".85"/>
<path d="M349.9 87.6C349.1 76.5 354.7 67.6 365.3 64.1" stroke="#785632" stroke-width="2.6" opacity=".7" stroke-linecap="round" stroke-dasharray="6 0.9 4.5 0.9"/>
<path d="M349.9 87.6C349.1 76.5 354.7 67.6 365.3 64.1" stroke="#7a5230" stroke-width="2" stroke-dasharray="1 0.7 1.5 0.8 0.7 0.5" opacity=".95" stroke-linecap="butt"/>
<path d="M349.9 87.6C349.1 76.5 354.7 67.6 365.3 64.1" stroke="#b48e68" stroke-width="0.8" stroke-dasharray="1.3 0.8" opacity=".6" stroke-linecap="butt" transform="translate(-0.2 0.1)"/>
<path d="M339.2 117.6C336.6 106.7 336.6 96.9 338.6 88.8" stroke="#c0a868" stroke-width=".6" opacity=".85"/>
<path d="M338.6 88.8C342.5 73.5 354 64.1 369.9 63.9" stroke="#66482a" stroke-width="1.9" opacity=".7" stroke-linecap="round" stroke-dasharray="5 0.7 3.5 0.8"/>
<path d="M338.6 88.8C342.5 73.5 354 64.1 369.9 63.9" stroke="#b48a62" stroke-width="1.4" stroke-dasharray="1.1 1 1.6 0.7 0.9 1.3" opacity=".95" stroke-linecap="butt"/>
<path d="M338.6 88.8C342.5 73.5 354 64.1 369.9 63.9" stroke="#c4a27c" stroke-width="0.6" stroke-dasharray="0.9 1.2" opacity=".6" stroke-linecap="butt" transform="translate(-0.1 -0.1)"/>
<path d="M338.7 119.5C336.8 107.4 338 96.9 341.8 88.7" stroke="#557f26" stroke-width=".6" opacity=".85"/>
<path d="M341.8 88.7C347 77.5 357 70.9 369.6 71" stroke="#5e4226" stroke-width="2.2" opacity=".7" stroke-linecap="round" stroke-dasharray="6 0.7 2.4 0.9"/>
<path d="M341.8 88.7C347 77.5 357 70.9 369.6 71" stroke="#855a36" stroke-width="1.7" stroke-dasharray="1.5 0.6 1.8 0.6 0.9 0.9" opacity=".95" stroke-linecap="butt"/>
<path d="M341.8 88.7C347 77.5 357 70.9 369.6 71" stroke="#b48e68" stroke-width="0.7" stroke-dasharray="0.9 1.3" opacity=".6" stroke-linecap="butt" transform="translate(-0.4 -0)"/>
<path d="M349.2 115.4C345.8 106.6 344.5 98.4 345.1 91.3" stroke="#c0a868" stroke-width=".6" opacity=".85"/>
<path d="M345.1 91.3C346.4 76.6 355.7 66.4 370.6 64.6" stroke="#785632" stroke-width="2.6" opacity=".7" stroke-linecap="round" stroke-dasharray="6.3 1.1 3.8 0.8"/>
<path d="M345.1 91.3C346.4 76.6 355.7 66.4 370.6 64.6" stroke="#ad8256" stroke-width="1.9" stroke-dasharray="1.1 0.4 2.4 0.6 1.2 1.2" opacity=".95" stroke-linecap="butt"/>
<path d="M345.1 91.3C346.4 76.6 355.7 66.4 370.6 64.6" stroke="#b48e68" stroke-width="0.8" stroke-dasharray="1 1.2" opacity=".6" stroke-linecap="butt" transform="translate(-0.1 0.2)"/>
<path d="M355 95.9C354.7 89.8 355.8 84.4 357.9 80.2" stroke="#c9b070" stroke-width=".6" opacity=".85"/>
<path d="M357.9 80.2C361.3 73 367.6 68.9 375.2 69.4" stroke="#785632" stroke-width="3" opacity=".7" stroke-linecap="round" stroke-dasharray="6.8 0.4 4.4 0.9"/>
<path d="M357.9 80.2C361.3 73 367.6 68.9 375.2 69.4" stroke="#b99064" stroke-width="2.2" stroke-dasharray="1.6 0.5 1.8 0.6 1.3 1.1" opacity=".95" stroke-linecap="butt"/>
<path d="M357.9 80.2C361.3 73 367.6 68.9 375.2 69.4" stroke="#c4a27c" stroke-width="0.9" stroke-dasharray="1.2 1.5" opacity=".6" stroke-linecap="butt" transform="translate(-0.3 -0.7)"/>
<path d="M341.1 212L348.3 212L347.6 225.2L342 222.2Z" fill="#4d402b" opacity=".9"/>
<path d="M347.2 212L348 224.8" stroke="#5a4c34" stroke-width="1.3"/>
<path d="M345 212L345.5 227.9" stroke="#8a7850" stroke-width="0.8"/>
<path d="M347.3 212L348.9 231.2" stroke="#8a7850" stroke-width="1.2"/>
<path d="M342 212L339.9 228.2" stroke="#7d6a45" stroke-width="1.1"/>
<path d="M343.1 212L342 230.2" stroke="#4f4430" stroke-width="1"/>
<path d="M344.9 212L344.4 225.6" stroke="#4f4430" stroke-width="0.8"/>
<path d="M343.7 212L342.9 225.6" stroke="#8a7850" stroke-width="1.1"/>
<path d="M340.7 175.9L349.5 175.6L349.1 213L340.3 212.6Z" fill="url(#wg)" stroke="none"/>
<path d="M340.3 197.4L349.1 197.9" stroke="#c98a2e" stroke-width=".9"/>
</g></g>
<text x="136.5" y="35.7" font-family="Liberation Serif, serif" font-weight="bold" font-size="14.6" fill="#fff" text-anchor="middle" textLength="35" lengthAdjust="spacingAndGlyphs">ZH11</text>
<text x="278.8" y="34" font-family="Liberation Serif, serif" font-style="italic" font-size="13.6" fill="#fff" text-anchor="middle" textLength="109.5" lengthAdjust="spacingAndGlyphs">pOsGPX1::astol1</text>
<path d="M176.3 40.8H359" stroke="#fff" stroke-width="1.5"/>
<path d="M364 199.1V221.3M360.3 199.1H367.7M360.3 221.3H367.7" stroke="#fff" stroke-width="1.5" fill="none"/>
<text x="355.5" y="239.3" font-family="Liberation Serif, serif" font-size="13.7" fill="#fff" text-anchor="middle" textLength="35.5" lengthAdjust="spacingAndGlyphs">10 cm</text>
</g>
<g font-family="Liberation Serif, serif" font-size="24.5"><text x="13.2" y="32" transform="translate(13.2 0) scale(0.9 1) translate(-13.2 0)">(</text><text x="21.5" y="33" font-weight="bold" font-size="25">a</text><text x="34.8" y="32" transform="translate(34.8 0) scale(0.9 1) translate(-34.8 0)">)</text></g>
<g id="panel-b">
<path d="M528.8 115.25V89M524.49 89H533.11" stroke="#1c1c1c" stroke-width="0.95" fill="none"/>
<rect x="519.6" y="115.25" width="18.4" height="86" fill="#080604" stroke="#111" stroke-width="0.7"/>
<path d="M552.8 132V111.5M548.49 111.5H557.11" stroke="#1c1c1c" stroke-width="0.95" fill="none"/>
<rect x="543.6" y="132" width="18.4" height="69.25" fill="#e8131b" stroke="#111" stroke-width="0.7"/>
<path d="M576.8 126.25V115.4M572.49 115.4H581.11" stroke="#1c1c1c" stroke-width="0.95" fill="none"/>
<rect x="567.6" y="126.25" width="18.4" height="75" fill="#ee7d7d" stroke="#111" stroke-width="0.7"/>
<path d="M601 145.5V134.25M596.69 134.25H605.31" stroke="#1c1c1c" stroke-width="0.95" fill="none"/>
<rect x="591.8" y="145.5" width="18.4" height="55.75" fill="#fbdcdd" stroke="#111" stroke-width="0.7"/>
<text x="601" y="136.41" font-family="Liberation Sans, sans-serif" font-weight="bold" font-size="13.33" text-anchor="middle" letter-spacing="0.1">*</text>
<path d="M644.2 114.5V96.25M639.89 96.25H648.51" stroke="#1c1c1c" stroke-width="0.95" fill="none"/>
<rect x="635" y="114.5" width="18.4" height="86.75" fill="#080604" stroke="#111" stroke-width="0.7"/>
<path d="M668.4 126.75V111.25M664.09 111.25H672.71" stroke="#1c1c1c" stroke-width="0.95" fill="none"/>
<rect x="659.2" y="126.75" width="18.4" height="74.5" fill="#e8131b" stroke="#111" stroke-width="0.7"/>
<path d="M692.25 97.5V88M687.94 88H696.56" stroke="#1c1c1c" stroke-width="0.95" fill="none"/>
<rect x="683.05" y="97.5" width="18.4" height="103.75" fill="#ee7d7d" stroke="#111" stroke-width="0.7"/>
<path d="M716.25 115V110.5M711.94 110.5H720.56" stroke="#1c1c1c" stroke-width="0.95" fill="none"/>
<rect x="707.05" y="115" width="18.4" height="86.25" fill="#fbdcdd" stroke="#111" stroke-width="0.7"/>
<path d="M759.6 98.75V87.75M755.29 87.75H763.91" stroke="#1c1c1c" stroke-width="0.95" fill="none"/>
<rect x="750.4" y="98.75" width="18.4" height="102.5" fill="#080604" stroke="#111" stroke-width="0.7"/>
<path d="M783.75 101.5V79.75M779.44 79.75H788.06" stroke="#1c1c1c" stroke-width="0.95" fill="none"/>
<rect x="774.55" y="101.5" width="18.4" height="99.75" fill="#e8131b" stroke="#111" stroke-width="0.7"/>
<path d="M807.9 107.5V93M803.59 93H812.21" stroke="#1c1c1c" stroke-width="0.95" fill="none"/>
<rect x="798.7" y="107.5" width="18.4" height="93.75" fill="#ee7d7d" stroke="#111" stroke-width="0.7"/>
<path d="M831.9 125.5V116.5M827.59 116.5H836.21" stroke="#1c1c1c" stroke-width="0.95" fill="none"/>
<rect x="822.7" y="125.5" width="18.4" height="75.75" fill="#fbdcdd" stroke="#111" stroke-width="0.7"/>
<text x="831.9" y="118.66" font-family="Liberation Sans, sans-serif" font-weight="bold" font-size="13.33" text-anchor="middle" letter-spacing="0.1">**</text>
<path d="M509.5 56.7H851.75V201.25H509.5Z M624 56.7V201.25 M736.75 56.7V201.25" stroke="#000" stroke-width="1.4" fill="none"/>
<path d="M503.42 56.7H509.5" stroke="#000" stroke-width="1.4"/>
<text x="501.86" y="60.52" font-family="Liberation Sans, sans-serif" font-weight="bold" font-size="10.78" text-anchor="end">40</text>
<path d="M503.42 92.84H509.5" stroke="#000" stroke-width="1.4"/>
<text x="501.86" y="96.66" font-family="Liberation Sans, sans-serif" font-weight="bold" font-size="10.78" text-anchor="end">30</text>
<path d="M503.42 128.98H509.5" stroke="#000" stroke-width="1.4"/>
<text x="501.86" y="132.8" font-family="Liberation Sans, sans-serif" font-weight="bold" font-size="10.78" text-anchor="end">20</text>
<path d="M503.42 165.11H509.5" stroke="#000" stroke-width="1.4"/>
<text x="501.86" y="168.93" font-family="Liberation Sans, sans-serif" font-weight="bold" font-size="10.78" text-anchor="end">10</text>
<path d="M503.42 201.25H509.5" stroke="#000" stroke-width="1.4"/>
<text x="501.86" y="205.07" font-family="Liberation Sans, sans-serif" font-weight="bold" font-size="10.78" text-anchor="end">0</text>
<path d="M528.8 201.25V208.01" stroke="#000" stroke-width="1.4"/>
<text transform="translate(529 222.61) rotate(-45)" font-family="Liberation Sans, sans-serif" font-weight="bold" font-size="11.96" text-anchor="end">ZH11</text>
<path d="M552.8 201.25V208.01" stroke="#000" stroke-width="1.4"/>
<text transform="translate(556.43 217.91) rotate(-45)" font-family="Liberation Sans, sans-serif" font-weight="bold" font-size="12.15" text-anchor="end">-1</text>
<path d="M576.8 201.25V208.01" stroke="#000" stroke-width="1.4"/>
<text transform="translate(580.43 217.91) rotate(-45)" font-family="Liberation Sans, sans-serif" font-weight="bold" font-size="12.15" text-anchor="end">-2</text>
<path d="M601 201.25V208.01" stroke="#000" stroke-width="1.4"/>
<text transform="translate(604.63 217.91) rotate(-45)" font-family="Liberation Sans, sans-serif" font-weight="bold" font-size="12.15" text-anchor="end">-3</text>
<path d="M644.2 201.25V208.01" stroke="#000" stroke-width="1.4"/>
<text transform="translate(644.4 222.61) rotate(-45)" font-family="Liberation Sans, sans-serif" font-weight="bold" font-size="11.96" text-anchor="end">ZH11</text>
<path d="M668.4 201.25V208.01" stroke="#000" stroke-width="1.4"/>
<text transform="translate(672.03 217.91) rotate(-45)" font-family="Liberation Sans, sans-serif" font-weight="bold" font-size="12.15" text-anchor="end">-1</text>
<path d="M692.25 201.25V208.01" stroke="#000" stroke-width="1.4"/>
<text transform="translate(695.88 217.91) rotate(-45)" font-family="Liberation Sans, sans-serif" font-weight="bold" font-size="12.15" text-anchor="end">-2</text>
<path d="M716.25 201.25V208.01" stroke="#000" stroke-width="1.4"/>
<text transform="translate(719.88 217.91) rotate(-45)" font-family="Liberation Sans, sans-serif" font-weight="bold" font-size="12.15" text-anchor="end">-3</text>
<path d="M759.6 201.25V208.01" stroke="#000" stroke-width="1.4"/>
<text transform="translate(759.8 222.61) rotate(-45)" font-family="Liberation Sans, sans-serif" font-weight="bold" font-size="11.96" text-anchor="end">ZH11</text>
<path d="M783.75 201.25V208.01" stroke="#000" stroke-width="1.4"/>
<text transform="translate(787.38 217.91) rotate(-45)" font-family="Liberation Sans, sans-serif" font-weight="bold" font-size="12.15" text-anchor="end">-1</text>
<path d="M807.9 201.25V208.01" stroke="#000" stroke-width="1.4"/>
<text transform="translate(811.53 217.91) rotate(-45)" font-family="Liberation Sans, sans-serif" font-weight="bold" font-size="12.15" text-anchor="end">-2</text>
<path d="M831.9 201.25V208.01" stroke="#000" stroke-width="1.4"/>
<text transform="translate(835.53 217.91) rotate(-45)" font-family="Liberation Sans, sans-serif" font-weight="bold" font-size="12.15" text-anchor="end">-3</text>
<path d="M539 226.1H609" stroke="#000" stroke-width="1.4"/>
<text x="572" y="238.7" font-family="Liberation Sans, sans-serif" font-weight="bold" font-style="italic" font-size="10.78" text-anchor="middle" textLength="89" lengthAdjust="spacingAndGlyphs">pOsGPX1::astol1</text>
<path d="M655 226.1H725" stroke="#000" stroke-width="1.4"/>
<text x="689" y="238.7" font-family="Liberation Sans, sans-serif" font-weight="bold" font-style="italic" font-size="10.78" text-anchor="middle" textLength="88" lengthAdjust="spacingAndGlyphs">pOsGPX1::astol1</text>
<path d="M769.75 226.1H839.75" stroke="#000" stroke-width="1.4"/>
<text x="806.4" y="238.7" font-family="Liberation Sans, sans-serif" font-weight="bold" font-style="italic" font-size="10.78" text-anchor="middle" textLength="88" lengthAdjust="spacingAndGlyphs">pOsGPX1::astol1</text>
<text x="567.75" y="40.75" font-family="Liberation Sans, sans-serif" font-weight="bold" font-size="11.8" text-anchor="middle" textLength="86" lengthAdjust="spacingAndGlyphs">Pot experiment</text>
<text x="678.5" y="40.75" font-family="Liberation Serif, serif" font-weight="bold" font-size="12.4" text-anchor="middle" textLength="35.5" lengthAdjust="spacingAndGlyphs">Field 1</text>
<text x="795.5" y="41.75" font-family="Liberation Serif, serif" font-weight="bold" font-size="12.4" text-anchor="middle" textLength="35.5" lengthAdjust="spacingAndGlyphs">Field 2</text>
<text transform="translate(482.6 128.4) rotate(-90)" font-family="Liberation Sans, sans-serif" font-weight="bold" font-size="13.8" text-anchor="middle" textLength="154.3" lengthAdjust="spacingAndGlyphs">Grain yield (g per plant)</text>
<g font-family="Liberation Serif, serif" font-size="24.5"><text x="435" y="32" transform="translate(435 0) scale(0.9 1) translate(-435 0)">(</text><text x="444.3" y="33" font-weight="bold" font-size="25">b</text><text x="458.5" y="32" transform="translate(458.5 0) scale(0.9 1) translate(-458.5 0)">)</text></g>
</g>
<g id="panel-c">
<path d="M106.4 328.75V311.5M102 311.5H110.8" stroke="#1c1c1c" stroke-width="0.95" fill="none"/>
<rect x="97.2" y="328.75" width="18.4" height="110.15" fill="#080604" stroke="#111" stroke-width="0.7"/>
<path d="M130.9 365.5V354.5M126.5 354.5H135.3" stroke="#1c1c1c" stroke-width="0.95" fill="none"/>
<rect x="121.7" y="365.5" width="18.4" height="73.4" fill="#e8131b" stroke="#111" stroke-width="0.7"/>
<text x="130.9" y="356.7" font-family="Liberation Sans, sans-serif" font-weight="bold" font-size="13.6" text-anchor="middle" letter-spacing="0.1">**</text>
<path d="M155 365.25V350.5M150.6 350.5H159.4" stroke="#1c1c1c" stroke-width="0.95" fill="none"/>
<rect x="145.8" y="365.25" width="18.4" height="73.65" fill="#ee7d7d" stroke="#111" stroke-width="0.7"/>
<text x="155" y="352.7" font-family="Liberation Sans, sans-serif" font-weight="bold" font-size="13.6" text-anchor="middle" letter-spacing="0.1">**</text>
<path d="M179.6 372.75V361.5M175.2 361.5H184" stroke="#1c1c1c" stroke-width="0.95" fill="none"/>
<rect x="170.4" y="372.75" width="18.4" height="66.15" fill="#fbdcdd" stroke="#111" stroke-width="0.7"/>
<text x="179.6" y="363.7" font-family="Liberation Sans, sans-serif" font-weight="bold" font-size="13.6" text-anchor="middle" letter-spacing="0.1">***</text>
<path d="M224 411.25V409M219.6 409H228.4" stroke="#1c1c1c" stroke-width="0.95" fill="none"/>
<rect x="214.8" y="411.25" width="18.4" height="27.65" fill="#080604" stroke="#111" stroke-width="0.7"/>
<path d="M248.4 422V418.25M244 418.25H252.8" stroke="#1c1c1c" stroke-width="0.95" fill="none"/>
<rect x="239.2" y="422" width="18.4" height="16.9" fill="#e8131b" stroke="#111" stroke-width="0.7"/>
<text x="248.4" y="420.45" font-family="Liberation Sans, sans-serif" font-weight="bold" font-size="13.6" text-anchor="middle" letter-spacing="0.1">***</text>
<path d="M272.9 420V415.5M268.5 415.5H277.3" stroke="#1c1c1c" stroke-width="0.95" fill="none"/>
<rect x="263.7" y="420" width="18.4" height="18.9" fill="#ee7d7d" stroke="#111" stroke-width="0.7"/>
<text x="272.9" y="417.7" font-family="Liberation Sans, sans-serif" font-weight="bold" font-size="13.6" text-anchor="middle" letter-spacing="0.1">**</text>
<path d="M297.25 425.5V423M292.85 423H301.65" stroke="#1c1c1c" stroke-width="0.95" fill="none"/>
<rect x="288.05" y="425.5" width="18.4" height="13.4" fill="#fbdcdd" stroke="#111" stroke-width="0.7"/>
<text x="297.25" y="425.2" font-family="Liberation Sans, sans-serif" font-weight="bold" font-size="13.6" text-anchor="middle" letter-spacing="0.1">***</text>
<path d="M341.4 385.75V381.75M337 381.75H345.8" stroke="#1c1c1c" stroke-width="0.95" fill="none"/>
<rect x="332.2" y="385.75" width="18.4" height="53.15" fill="#080604" stroke="#111" stroke-width="0.7"/>
<path d="M365.9 401.25V393.25M361.5 393.25H370.3" stroke="#1c1c1c" stroke-width="0.95" fill="none"/>
<rect x="356.7" y="401.25" width="18.4" height="37.65" fill="#e8131b" stroke="#111" stroke-width="0.7"/>
<text x="365.9" y="395.45" font-family="Liberation Sans, sans-serif" font-weight="bold" font-size="13.6" text-anchor="middle" letter-spacing="0.1">**</text>
<path d="M390.25 395.5V390.25M385.85 390.25H394.65" stroke="#1c1c1c" stroke-width="0.95" fill="none"/>
<rect x="381.05" y="395.5" width="18.4" height="43.4" fill="#ee7d7d" stroke="#111" stroke-width="0.7"/>
<text x="390.25" y="392.45" font-family="Liberation Sans, sans-serif" font-weight="bold" font-size="13.6" text-anchor="middle" letter-spacing="0.1">*</text>
<path d="M414.75 394.5V391.5M410.35 391.5H419.15" stroke="#1c1c1c" stroke-width="0.95" fill="none"/>
<rect x="405.55" y="394.5" width="18.4" height="44.4" fill="#fbdcdd" stroke="#111" stroke-width="0.7"/>
<text x="414.75" y="393.7" font-family="Liberation Sans, sans-serif" font-weight="bold" font-size="13.6" text-anchor="middle" letter-spacing="0.1">*</text>
<path d="M86.6 292H435.3V438.9H86.6Z M202.5 292V438.9 M318 292V438.9" stroke="#000" stroke-width="1.4" fill="none"/>
<path d="M80.4 292H86.6" stroke="#000" stroke-width="1.4"/>
<text x="78.8" y="295.9" font-family="Liberation Sans, sans-serif" font-weight="bold" font-size="11" text-anchor="end">600</text>
<path d="M80.4 340.97H86.6" stroke="#000" stroke-width="1.4"/>
<text x="78.8" y="344.87" font-family="Liberation Sans, sans-serif" font-weight="bold" font-size="11" text-anchor="end">400</text>
<path d="M80.4 389.93H86.6" stroke="#000" stroke-width="1.4"/>
<text x="78.8" y="393.83" font-family="Liberation Sans, sans-serif" font-weight="bold" font-size="11" text-anchor="end">200</text>
<path d="M80.4 438.9H86.6" stroke="#000" stroke-width="1.4"/>
<text x="78.8" y="442.8" font-family="Liberation Sans, sans-serif" font-weight="bold" font-size="11" text-anchor="end">0</text>
<path d="M106.4 438.9V445.8" stroke="#000" stroke-width="1.4"/>
<text transform="translate(106.9 459.2) rotate(-45)" font-family="Liberation Sans, sans-serif" font-weight="bold" font-size="12.2" text-anchor="end">ZH11</text>
<path d="M130.9 438.9V445.8" stroke="#000" stroke-width="1.4"/>
<text transform="translate(134.6 455.9) rotate(-45)" font-family="Liberation Sans, sans-serif" font-weight="bold" font-size="12.4" text-anchor="end">-1</text>
<path d="M155 438.9V445.8" stroke="#000" stroke-width="1.4"/>
<text transform="translate(158.7 455.9) rotate(-45)" font-family="Liberation Sans, sans-serif" font-weight="bold" font-size="12.4" text-anchor="end">-2</text>
<path d="M179.6 438.9V445.8" stroke="#000" stroke-width="1.4"/>
<text transform="translate(183.3 455.9) rotate(-45)" font-family="Liberation Sans, sans-serif" font-weight="bold" font-size="12.4" text-anchor="end">-3</text>
<path d="M224 438.9V445.8" stroke="#000" stroke-width="1.4"/>
<text transform="translate(224.5 459.2) rotate(-45)" font-family="Liberation Sans, sans-serif" font-weight="bold" font-size="12.2" text-anchor="end">ZH11</text>
<path d="M248.4 438.9V445.8" stroke="#000" stroke-width="1.4"/>
<text transform="translate(252.1 455.9) rotate(-45)" font-family="Liberation Sans, sans-serif" font-weight="bold" font-size="12.4" text-anchor="end">-1</text>
<path d="M272.9 438.9V445.8" stroke="#000" stroke-width="1.4"/>
<text transform="translate(276.6 455.9) rotate(-45)" font-family="Liberation Sans, sans-serif" font-weight="bold" font-size="12.4" text-anchor="end">-2</text>
<path d="M297.25 438.9V445.8" stroke="#000" stroke-width="1.4"/>
<text transform="translate(300.95 455.9) rotate(-45)" font-family="Liberation Sans, sans-serif" font-weight="bold" font-size="12.4" text-anchor="end">-3</text>
<path d="M341.4 438.9V445.8" stroke="#000" stroke-width="1.4"/>
<text transform="translate(341.9 459.2) rotate(-45)" font-family="Liberation Sans, sans-serif" font-weight="bold" font-size="12.2" text-anchor="end">ZH11</text>
<path d="M365.9 438.9V445.8" stroke="#000" stroke-width="1.4"/>
<text transform="translate(369.6 455.9) rotate(-45)" font-family="Liberation Sans, sans-serif" font-weight="bold" font-size="12.4" text-anchor="end">-1</text>
<path d="M390.25 438.9V445.8" stroke="#000" stroke-width="1.4"/>
<text transform="translate(393.95 455.9) rotate(-45)" font-family="Liberation Sans, sans-serif" font-weight="bold" font-size="12.4" text-anchor="end">-2</text>
<path d="M414.75 438.9V445.8" stroke="#000" stroke-width="1.4"/>
<text transform="translate(418.45 455.9) rotate(-45)" font-family="Liberation Sans, sans-serif" font-weight="bold" font-size="12.4" text-anchor="end">-3</text>
<path d="M115.5 465.4H187" stroke="#000" stroke-width="1.4"/>
<text x="150" y="478.25" font-family="Liberation Sans, sans-serif" font-weight="bold" font-style="italic" font-size="11" text-anchor="middle" textLength="90" lengthAdjust="spacingAndGlyphs">pOsGPX1::astol1</text>
<path d="M234.25 465.4H306.25" stroke="#000" stroke-width="1.4"/>
<text x="268" y="478.25" font-family="Liberation Sans, sans-serif" font-weight="bold" font-style="italic" font-size="11" text-anchor="middle" textLength="90" lengthAdjust="spacingAndGlyphs">pOsGPX1::astol1</text>
<path d="M351.25 465.4H422.5" stroke="#000" stroke-width="1.4"/>
<text x="387.25" y="478.25" font-family="Liberation Sans, sans-serif" font-weight="bold" font-style="italic" font-size="11" text-anchor="middle" textLength="90.5" lengthAdjust="spacingAndGlyphs">pOsGPX1::astol1</text>
<text x="143" y="279.5" font-family="Liberation Sans, sans-serif" font-weight="bold" font-size="11.8" text-anchor="middle" textLength="86" lengthAdjust="spacingAndGlyphs">Pot experiment</text>
<text x="268" y="279" font-family="Liberation Serif, serif" font-weight="bold" font-size="12.4" text-anchor="middle" textLength="35.5" lengthAdjust="spacingAndGlyphs">Field 1</text>
<text x="385" y="280" font-family="Liberation Serif, serif" font-weight="bold" font-size="12.4" text-anchor="middle" textLength="35.5" lengthAdjust="spacingAndGlyphs">Field 2</text>
<text transform="translate(34.2 366) rotate(-90)" font-family="Liberation Sans, sans-serif" font-weight="bold" font-size="14" text-anchor="middle" textLength="114.6" lengthAdjust="spacingAndGlyphs">As concentration</text>
<text transform="translate(52.6 366) rotate(-90)" font-family="Liberation Sans, sans-serif" font-weight="bold" font-size="14" text-anchor="middle" textLength="82" lengthAdjust="spacingAndGlyphs">(μg kg<tspan dy="-5.5" font-size="9.5">-1</tspan><tspan dy="5.5"> DW)</tspan></text>
<g font-family="Liberation Serif, serif" font-size="24.5"><text x="13.2" y="269" transform="translate(13.2 0) scale(0.9 1) translate(-13.2 0)">(</text><text x="22.5" y="270" font-weight="bold" font-size="25">c</text><text x="33.7" y="269" transform="translate(33.7 0) scale(0.9 1) translate(-33.7 0)">)</text></g>
</g>
<g id="panel-d">
<path d="M532 370.75V368.25M527.69 368.25H536.31" stroke="#1c1c1c" stroke-width="0.95" fill="none"/>
<rect x="522.8" y="370.75" width="18.4" height="69.75" fill="#080604" stroke="#111" stroke-width="0.7"/>
<path d="M555.75 356.25V348.25M551.44 348.25H560.06" stroke="#1c1c1c" stroke-width="0.95" fill="none"/>
<rect x="546.55" y="356.25" width="18.4" height="84.25" fill="#e8131b" stroke="#111" stroke-width="0.7"/>
<text x="555.75" y="350.41" font-family="Liberation Sans, sans-serif" font-weight="bold" font-size="13.33" text-anchor="middle" letter-spacing="0.1">**</text>
<path d="M579.6 354.25V344M575.29 344H583.91" stroke="#1c1c1c" stroke-width="0.95" fill="none"/>
<rect x="570.4" y="354.25" width="18.4" height="86.25" fill="#ee7d7d" stroke="#111" stroke-width="0.7"/>
<text x="579.6" y="346.16" font-family="Liberation Sans, sans-serif" font-weight="bold" font-size="13.33" text-anchor="middle" letter-spacing="0.1">**</text>
<path d="M603.75 338.25V324.5M599.44 324.5H608.06" stroke="#1c1c1c" stroke-width="0.95" fill="none"/>
<rect x="594.55" y="338.25" width="18.4" height="102.25" fill="#fbdcdd" stroke="#111" stroke-width="0.7"/>
<text x="603.75" y="326.66" font-family="Liberation Sans, sans-serif" font-weight="bold" font-size="13.33" text-anchor="middle" letter-spacing="0.1">***</text>
<path d="M646.75 395V390M642.44 390H651.06" stroke="#1c1c1c" stroke-width="0.95" fill="none"/>
<rect x="637.55" y="395" width="18.4" height="45.5" fill="#080604" stroke="#111" stroke-width="0.7"/>
<path d="M670.6 365V358M666.29 358H674.91" stroke="#1c1c1c" stroke-width="0.95" fill="none"/>
<rect x="661.4" y="365" width="18.4" height="75.5" fill="#e8131b" stroke="#111" stroke-width="0.7"/>
<text x="670.6" y="360.16" font-family="Liberation Sans, sans-serif" font-weight="bold" font-size="13.33" text-anchor="middle" letter-spacing="0.1">***</text>
<path d="M694.5 368.25V364M690.19 364H698.81" stroke="#1c1c1c" stroke-width="0.95" fill="none"/>
<rect x="685.3" y="368.25" width="18.4" height="72.25" fill="#ee7d7d" stroke="#111" stroke-width="0.7"/>
<text x="694.5" y="366.16" font-family="Liberation Sans, sans-serif" font-weight="bold" font-size="13.33" text-anchor="middle" letter-spacing="0.1">***</text>
<path d="M718.5 364V359.25M714.19 359.25H722.81" stroke="#1c1c1c" stroke-width="0.95" fill="none"/>
<rect x="709.3" y="364" width="18.4" height="76.5" fill="#fbdcdd" stroke="#111" stroke-width="0.7"/>
<text x="718.5" y="361.41" font-family="Liberation Sans, sans-serif" font-weight="bold" font-size="13.33" text-anchor="middle" letter-spacing="0.1">***</text>
<path d="M761.25 377.75V376.75M756.94 376.75H765.56" stroke="#1c1c1c" stroke-width="0.95" fill="none"/>
<rect x="752.05" y="377.75" width="18.4" height="62.75" fill="#080604" stroke="#111" stroke-width="0.7"/>
<path d="M785.25 361V356.5M780.94 356.5H789.56" stroke="#1c1c1c" stroke-width="0.95" fill="none"/>
<rect x="776.05" y="361" width="18.4" height="79.5" fill="#e8131b" stroke="#111" stroke-width="0.7"/>
<text x="785.25" y="358.66" font-family="Liberation Sans, sans-serif" font-weight="bold" font-size="13.33" text-anchor="middle" letter-spacing="0.1">***</text>
<path d="M809.1 362V356.75M804.79 356.75H813.41" stroke="#1c1c1c" stroke-width="0.95" fill="none"/>
<rect x="799.9" y="362" width="18.4" height="78.5" fill="#ee7d7d" stroke="#111" stroke-width="0.7"/>
<text x="809.1" y="358.91" font-family="Liberation Sans, sans-serif" font-weight="bold" font-size="13.33" text-anchor="middle" letter-spacing="0.1">***</text>
<path d="M833.1 360.25V355.25M828.79 355.25H837.41" stroke="#1c1c1c" stroke-width="0.95" fill="none"/>
<rect x="823.9" y="360.25" width="18.4" height="80.25" fill="#fbdcdd" stroke="#111" stroke-width="0.7"/>
<text x="833.1" y="357.41" font-family="Liberation Sans, sans-serif" font-weight="bold" font-size="13.33" text-anchor="middle" letter-spacing="0.1">***</text>
<path d="M512.5 297H853V440.5H512.5Z M626 297V440.5 M739 297V440.5" stroke="#000" stroke-width="1.4" fill="none"/>
<path d="M506.42 297H512.5" stroke="#000" stroke-width="1.4"/>
<text x="504.86" y="300.82" font-family="Liberation Sans, sans-serif" font-weight="bold" font-size="10.78" text-anchor="end">60</text>
<path d="M506.42 344.5H512.5" stroke="#000" stroke-width="1.4"/>
<text x="504.86" y="348.32" font-family="Liberation Sans, sans-serif" font-weight="bold" font-size="10.78" text-anchor="end">40</text>
<path d="M506.42 392.5H512.5" stroke="#000" stroke-width="1.4"/>
<text x="504.86" y="396.32" font-family="Liberation Sans, sans-serif" font-weight="bold" font-size="10.78" text-anchor="end">20</text>
<path d="M506.42 440.5H512.5" stroke="#000" stroke-width="1.4"/>
<text x="504.86" y="444.32" font-family="Liberation Sans, sans-serif" font-weight="bold" font-size="10.78" text-anchor="end">0</text>
<path d="M532 440.5V447.26" stroke="#000" stroke-width="1.4"/>
<text transform="translate(532.49 460.39) rotate(-45)" font-family="Liberation Sans, sans-serif" font-weight="bold" font-size="11.96" text-anchor="end">ZH11</text>
<path d="M555.75 440.5V447.26" stroke="#000" stroke-width="1.4"/>
<text transform="translate(559.38 457.16) rotate(-45)" font-family="Liberation Sans, sans-serif" font-weight="bold" font-size="12.15" text-anchor="end">-1</text>
<path d="M579.6 440.5V447.26" stroke="#000" stroke-width="1.4"/>
<text transform="translate(583.23 457.16) rotate(-45)" font-family="Liberation Sans, sans-serif" font-weight="bold" font-size="12.15" text-anchor="end">-2</text>
<path d="M603.75 440.5V447.26" stroke="#000" stroke-width="1.4"/>
<text transform="translate(607.38 457.16) rotate(-45)" font-family="Liberation Sans, sans-serif" font-weight="bold" font-size="12.15" text-anchor="end">-3</text>
<path d="M646.75 440.5V447.26" stroke="#000" stroke-width="1.4"/>
<text transform="translate(647.24 460.39) rotate(-45)" font-family="Liberation Sans, sans-serif" font-weight="bold" font-size="11.96" text-anchor="end">ZH11</text>
<path d="M670.6 440.5V447.26" stroke="#000" stroke-width="1.4"/>
<text transform="translate(674.23 457.16) rotate(-45)" font-family="Liberation Sans, sans-serif" font-weight="bold" font-size="12.15" text-anchor="end">-1</text>
<path d="M694.5 440.5V447.26" stroke="#000" stroke-width="1.4"/>
<text transform="translate(698.13 457.16) rotate(-45)" font-family="Liberation Sans, sans-serif" font-weight="bold" font-size="12.15" text-anchor="end">-2</text>
<path d="M718.5 440.5V447.26" stroke="#000" stroke-width="1.4"/>
<text transform="translate(722.13 457.16) rotate(-45)" font-family="Liberation Sans, sans-serif" font-weight="bold" font-size="12.15" text-anchor="end">-3</text>
<path d="M761.25 440.5V447.26" stroke="#000" stroke-width="1.4"/>
<text transform="translate(761.74 460.39) rotate(-45)" font-family="Liberation Sans, sans-serif" font-weight="bold" font-size="11.96" text-anchor="end">ZH11</text>
<path d="M785.25 440.5V447.26" stroke="#000" stroke-width="1.4"/>
<text transform="translate(788.88 457.16) rotate(-45)" font-family="Liberation Sans, sans-serif" font-weight="bold" font-size="12.15" text-anchor="end">-1</text>
<path d="M809.1 440.5V447.26" stroke="#000" stroke-width="1.4"/>
<text transform="translate(812.73 457.16) rotate(-45)" font-family="Liberation Sans, sans-serif" font-weight="bold" font-size="12.15" text-anchor="end">-2</text>
<path d="M833.1 440.5V447.26" stroke="#000" stroke-width="1.4"/>
<text transform="translate(836.73 457.16) rotate(-45)" font-family="Liberation Sans, sans-serif" font-weight="bold" font-size="12.15" text-anchor="end">-3</text>
<path d="M540 464.75H609.5" stroke="#000" stroke-width="1.4"/>
<text x="572.9" y="478.25" font-family="Liberation Sans, sans-serif" font-weight="bold" font-style="italic" font-size="10.78" text-anchor="middle" textLength="88.25" lengthAdjust="spacingAndGlyphs">pOsGPX1::astol1</text>
<path d="M657 464.75H726.75" stroke="#000" stroke-width="1.4"/>
<text x="689.5" y="478.25" font-family="Liberation Sans, sans-serif" font-weight="bold" font-style="italic" font-size="10.78" text-anchor="middle" textLength="88" lengthAdjust="spacingAndGlyphs">pOsGPX1::astol1</text>
<path d="M771 464.75H841" stroke="#000" stroke-width="1.4"/>
<text x="807.75" y="478.25" font-family="Liberation Sans, sans-serif" font-weight="bold" font-style="italic" font-size="10.78" text-anchor="middle" textLength="88" lengthAdjust="spacingAndGlyphs">pOsGPX1::astol1</text>
<text x="571.5" y="279.5" font-family="Liberation Sans, sans-serif" font-weight="bold" font-size="11.8" text-anchor="middle" textLength="86" lengthAdjust="spacingAndGlyphs">Pot experiment</text>
<text x="684.25" y="279.25" font-family="Liberation Serif, serif" font-weight="bold" font-size="12.4" text-anchor="middle" textLength="35.5" lengthAdjust="spacingAndGlyphs">Field 1</text>
<text x="801.25" y="280" font-family="Liberation Serif, serif" font-weight="bold" font-size="12.4" text-anchor="middle" textLength="35.5" lengthAdjust="spacingAndGlyphs">Field 2</text>
<text transform="translate(465.3 369) rotate(-90)" font-family="Liberation Sans, sans-serif" font-weight="bold" font-size="13.7" text-anchor="middle" textLength="110.5" lengthAdjust="spacingAndGlyphs">Zn concentration</text>
<text transform="translate(484.3 369.5) rotate(-90)" font-family="Liberation Sans, sans-serif" font-weight="bold" font-size="13.7" text-anchor="middle" textLength="85.5" lengthAdjust="spacingAndGlyphs">(mg kg<tspan dy="-5.5" font-size="9.5">-1</tspan><tspan dy="5.5"> DW)</tspan></text>
<g font-family="Liberation Serif, serif" font-size="24.5"><text x="435" y="269" transform="translate(435 0) scale(0.9 1) translate(-435 0)">(</text><text x="444.3" y="270" font-weight="bold" font-size="25">d</text><text x="458.5" y="269" transform="translate(458.5 0) scale(0.9 1) translate(-458.5 0)">)</text></g>
</g>
<g id="panel-e">
<path d="M109.6 621.75V611.5M105.29 611.5H113.91" stroke="#1c1c1c" stroke-width="0.95" fill="none"/>
<rect x="100.4" y="621.75" width="18.4" height="52.25" fill="#080604" stroke="#111" stroke-width="0.7"/>
<path d="M133.4 602.75V580.5M129.09 580.5H137.71" stroke="#1c1c1c" stroke-width="0.95" fill="none"/>
<rect x="124.2" y="602.75" width="18.4" height="71.25" fill="#e8131b" stroke="#111" stroke-width="0.7"/>
<path d="M157.5 600.25V580.25M153.19 580.25H161.81" stroke="#1c1c1c" stroke-width="0.95" fill="none"/>
<rect x="148.3" y="600.25" width="18.4" height="73.75" fill="#ee7d7d" stroke="#111" stroke-width="0.7"/>
<path d="M181.5 571V540.5M177.19 540.5H185.81" stroke="#1c1c1c" stroke-width="0.95" fill="none"/>
<rect x="172.3" y="571" width="18.4" height="103" fill="#fbdcdd" stroke="#111" stroke-width="0.7"/>
<text x="181.5" y="542.66" font-family="Liberation Sans, sans-serif" font-weight="bold" font-size="13.33" text-anchor="middle" letter-spacing="0.1">***</text>
<path d="M224.75 660.5V659.25M220.44 659.25H229.06" stroke="#1c1c1c" stroke-width="0.95" fill="none"/>
<rect x="215.55" y="660.5" width="18.4" height="13.5" fill="#080604" stroke="#111" stroke-width="0.7"/>
<path d="M248.5 651.25V649.25M244.19 649.25H252.81" stroke="#1c1c1c" stroke-width="0.95" fill="none"/>
<rect x="239.3" y="651.25" width="18.4" height="22.75" fill="#e8131b" stroke="#111" stroke-width="0.7"/>
<text x="248.5" y="651.41" font-family="Liberation Sans, sans-serif" font-weight="bold" font-size="13.33" text-anchor="middle" letter-spacing="0.1">***</text>
<path d="M272.5 648.25V647.25M268.19 647.25H276.81" stroke="#1c1c1c" stroke-width="0.95" fill="none"/>
<rect x="263.3" y="648.25" width="18.4" height="25.75" fill="#ee7d7d" stroke="#111" stroke-width="0.7"/>
<text x="272.5" y="649.41" font-family="Liberation Sans, sans-serif" font-weight="bold" font-size="13.33" text-anchor="middle" letter-spacing="0.1">***</text>
<path d="M296.6 646.25V645M292.29 645H300.91" stroke="#1c1c1c" stroke-width="0.95" fill="none"/>
<rect x="287.4" y="646.25" width="18.4" height="27.75" fill="#fbdcdd" stroke="#111" stroke-width="0.7"/>
<text x="296.6" y="647.16" font-family="Liberation Sans, sans-serif" font-weight="bold" font-size="13.33" text-anchor="middle" letter-spacing="0.1">***</text>
<path d="M339.6 656.75V654M335.29 654H343.91" stroke="#1c1c1c" stroke-width="0.95" fill="none"/>
<rect x="330.4" y="656.75" width="18.4" height="17.25" fill="#080604" stroke="#111" stroke-width="0.7"/>
<path d="M363.6 634.25V624.75M359.29 624.75H367.91" stroke="#1c1c1c" stroke-width="0.95" fill="none"/>
<rect x="354.4" y="634.25" width="18.4" height="39.75" fill="#e8131b" stroke="#111" stroke-width="0.7"/>
<text x="363.6" y="626.91" font-family="Liberation Sans, sans-serif" font-weight="bold" font-size="13.33" text-anchor="middle" letter-spacing="0.1">***</text>
<path d="M387.6 637.5V634.5M383.29 634.5H391.91" stroke="#1c1c1c" stroke-width="0.95" fill="none"/>
<rect x="378.4" y="637.5" width="18.4" height="36.5" fill="#ee7d7d" stroke="#111" stroke-width="0.7"/>
<text x="387.6" y="636.66" font-family="Liberation Sans, sans-serif" font-weight="bold" font-size="13.33" text-anchor="middle" letter-spacing="0.1">***</text>
<path d="M411.75 627.25V620.25M407.44 620.25H416.06" stroke="#1c1c1c" stroke-width="0.95" fill="none"/>
<rect x="402.55" y="627.25" width="18.4" height="46.75" fill="#fbdcdd" stroke="#111" stroke-width="0.7"/>
<text x="411.75" y="622.41" font-family="Liberation Sans, sans-serif" font-weight="bold" font-size="13.33" text-anchor="middle" letter-spacing="0.1">***</text>
<path d="M90.5 530H432.3V674H90.5Z M204.5 530V674 M317.25 530V674" stroke="#000" stroke-width="1.4" fill="none"/>
<path d="M84.42 530H90.5" stroke="#000" stroke-width="1.4"/>
<text x="82.86" y="533.82" font-family="Liberation Sans, sans-serif" font-weight="bold" font-size="10.78" text-anchor="end">150</text>
<path d="M84.42 578H90.5" stroke="#000" stroke-width="1.4"/>
<text x="82.86" y="581.82" font-family="Liberation Sans, sans-serif" font-weight="bold" font-size="10.78" text-anchor="end">100</text>
<path d="M84.42 626H90.5" stroke="#000" stroke-width="1.4"/>
<text x="82.86" y="629.82" font-family="Liberation Sans, sans-serif" font-weight="bold" font-size="10.78" text-anchor="end">50</text>
<path d="M84.42 674H90.5" stroke="#000" stroke-width="1.4"/>
<text x="82.86" y="677.82" font-family="Liberation Sans, sans-serif" font-weight="bold" font-size="10.78" text-anchor="end">0</text>
<path d="M109.6 674V680.76" stroke="#000" stroke-width="1.4"/>
<text transform="translate(110.09 693.89) rotate(-45)" font-family="Liberation Sans, sans-serif" font-weight="bold" font-size="11.96" text-anchor="end">ZH11</text>
<path d="M133.4 674V680.76" stroke="#000" stroke-width="1.4"/>
<text transform="translate(137.03 690.66) rotate(-45)" font-family="Liberation Sans, sans-serif" font-weight="bold" font-size="12.15" text-anchor="end">-1</text>
<path d="M157.5 674V680.76" stroke="#000" stroke-width="1.4"/>
<text transform="translate(161.13 690.66) rotate(-45)" font-family="Liberation Sans, sans-serif" font-weight="bold" font-size="12.15" text-anchor="end">-2</text>
<path d="M181.5 674V680.76" stroke="#000" stroke-width="1.4"/>
<text transform="translate(185.13 690.66) rotate(-45)" font-family="Liberation Sans, sans-serif" font-weight="bold" font-size="12.15" text-anchor="end">-3</text>
<path d="M224.75 674V680.76" stroke="#000" stroke-width="1.4"/>
<text transform="translate(225.24 693.89) rotate(-45)" font-family="Liberation Sans, sans-serif" font-weight="bold" font-size="11.96" text-anchor="end">ZH11</text>
<path d="M248.5 674V680.76" stroke="#000" stroke-width="1.4"/>
<text transform="translate(252.13 690.66) rotate(-45)" font-family="Liberation Sans, sans-serif" font-weight="bold" font-size="12.15" text-anchor="end">-1</text>
<path d="M272.5 674V680.76" stroke="#000" stroke-width="1.4"/>
<text transform="translate(276.13 690.66) rotate(-45)" font-family="Liberation Sans, sans-serif" font-weight="bold" font-size="12.15" text-anchor="end">-2</text>
<path d="M296.6 674V680.76" stroke="#000" stroke-width="1.4"/>
<text transform="translate(300.23 690.66) rotate(-45)" font-family="Liberation Sans, sans-serif" font-weight="bold" font-size="12.15" text-anchor="end">-3</text>
<path d="M339.6 674V680.76" stroke="#000" stroke-width="1.4"/>
<text transform="translate(340.09 693.89) rotate(-45)" font-family="Liberation Sans, sans-serif" font-weight="bold" font-size="11.96" text-anchor="end">ZH11</text>
<path d="M363.6 674V680.76" stroke="#000" stroke-width="1.4"/>
<text transform="translate(367.23 690.66) rotate(-45)" font-family="Liberation Sans, sans-serif" font-weight="bold" font-size="12.15" text-anchor="end">-1</text>
<path d="M387.6 674V680.76" stroke="#000" stroke-width="1.4"/>
<text transform="translate(391.23 690.66) rotate(-45)" font-family="Liberation Sans, sans-serif" font-weight="bold" font-size="12.15" text-anchor="end">-2</text>
<path d="M411.75 674V680.76" stroke="#000" stroke-width="1.4"/>
<text transform="translate(415.38 690.66) rotate(-45)" font-family="Liberation Sans, sans-serif" font-weight="bold" font-size="12.15" text-anchor="end">-3</text>
<path d="M118.75 700.5H188.25" stroke="#000" stroke-width="1.4"/>
<text x="152.1" y="713.25" font-family="Liberation Sans, sans-serif" font-weight="bold" font-style="italic" font-size="10.78" text-anchor="middle" textLength="88.25" lengthAdjust="spacingAndGlyphs">pOsGPX1::astol1</text>
<path d="M235 700.5H305" stroke="#000" stroke-width="1.4"/>
<text x="267.5" y="713.25" font-family="Liberation Sans, sans-serif" font-weight="bold" font-style="italic" font-size="10.78" text-anchor="middle" textLength="87.5" lengthAdjust="spacingAndGlyphs">pOsGPX1::astol1</text>
<path d="M349.25 700.5H419.25" stroke="#000" stroke-width="1.4"/>
<text x="384.25" y="713.25" font-family="Liberation Sans, sans-serif" font-weight="bold" font-style="italic" font-size="10.78" text-anchor="middle" textLength="87.5" lengthAdjust="spacingAndGlyphs">pOsGPX1::astol1</text>
<text x="149.5" y="513.75" font-family="Liberation Sans, sans-serif" font-weight="bold" font-size="11.8" text-anchor="middle" textLength="86" lengthAdjust="spacingAndGlyphs">Pot experiment</text>
<text x="266.25" y="513.25" font-family="Liberation Serif, serif" font-weight="bold" font-size="12.4" text-anchor="middle" textLength="35.5" lengthAdjust="spacingAndGlyphs">Field 1</text>
<text x="383.25" y="514.25" font-family="Liberation Serif, serif" font-weight="bold" font-size="12.4" text-anchor="middle" textLength="35.5" lengthAdjust="spacingAndGlyphs">Field 2</text>
<text transform="translate(37 602) rotate(-90)" font-family="Liberation Sans, sans-serif" font-weight="bold" font-size="13.4" text-anchor="middle" textLength="112" lengthAdjust="spacingAndGlyphs">Se concentration</text>
<text transform="translate(56 602) rotate(-90)" font-family="Liberation Sans, sans-serif" font-weight="bold" font-size="13.4" text-anchor="middle" textLength="82" lengthAdjust="spacingAndGlyphs">(μg kg<tspan dy="-5.5" font-size="9.5">-1</tspan><tspan dy="5.5"> DW)</tspan></text>
<g font-family="Liberation Serif, serif" font-size="24.5"><text x="13.2" y="501.6" transform="translate(13.2 0) scale(0.9 1) translate(-13.2 0)">(</text><text x="22.5" y="502.6" font-weight="bold" font-size="25">e</text><text x="33.7" y="501.6" transform="translate(33.7 0) scale(0.9 1) translate(-33.7 0)">)</text></g>
</g>
<g id="panel-f">
<path d="M527.5 608.75V601.75M523.08 601.75H531.92" stroke="#1c1c1c" stroke-width="0.95" fill="none"/>
<rect x="518.3" y="608.75" width="18.4" height="66" fill="#080604" stroke="#111" stroke-width="0.7"/>
<path d="M552 564.75V551.75M547.58 551.75H556.42" stroke="#1c1c1c" stroke-width="0.95" fill="none"/>
<rect x="542.8" y="564.75" width="18.4" height="110" fill="#e8131b" stroke="#111" stroke-width="0.7"/>
<text x="552" y="553.96" font-family="Liberation Sans, sans-serif" font-weight="bold" font-size="13.67" text-anchor="middle" letter-spacing="0.1">***</text>
<path d="M576.4 561.25V553.25M571.98 553.25H580.82" stroke="#1c1c1c" stroke-width="0.95" fill="none"/>
<rect x="567.2" y="561.25" width="18.4" height="113.5" fill="#ee7d7d" stroke="#111" stroke-width="0.7"/>
<text x="576.4" y="555.46" font-family="Liberation Sans, sans-serif" font-weight="bold" font-size="13.67" text-anchor="middle" letter-spacing="0.1">***</text>
<path d="M600.9 562.75V555M596.48 555H605.32" stroke="#1c1c1c" stroke-width="0.95" fill="none"/>
<rect x="591.7" y="562.75" width="18.4" height="112" fill="#fbdcdd" stroke="#111" stroke-width="0.7"/>
<text x="600.9" y="557.21" font-family="Liberation Sans, sans-serif" font-weight="bold" font-size="13.67" text-anchor="middle" letter-spacing="0.1">***</text>
<path d="M645.4 622.1V619M640.98 619H649.82" stroke="#1c1c1c" stroke-width="0.95" fill="none"/>
<rect x="636.2" y="622.1" width="18.4" height="52.65" fill="#080604" stroke="#111" stroke-width="0.7"/>
<path d="M669.4 584.75V581.75M664.98 581.75H673.82" stroke="#1c1c1c" stroke-width="0.95" fill="none"/>
<rect x="660.2" y="584.75" width="18.4" height="90" fill="#e8131b" stroke="#111" stroke-width="0.7"/>
<text x="669.4" y="583.96" font-family="Liberation Sans, sans-serif" font-weight="bold" font-size="13.67" text-anchor="middle" letter-spacing="0.1">***</text>
<path d="M694 585.75V578.5M689.58 578.5H698.42" stroke="#1c1c1c" stroke-width="0.95" fill="none"/>
<rect x="684.8" y="585.75" width="18.4" height="89" fill="#ee7d7d" stroke="#111" stroke-width="0.7"/>
<text x="694" y="580.71" font-family="Liberation Sans, sans-serif" font-weight="bold" font-size="13.67" text-anchor="middle" letter-spacing="0.1">***</text>
<path d="M718.5 584V574.25M714.08 574.25H722.92" stroke="#1c1c1c" stroke-width="0.95" fill="none"/>
<rect x="709.3" y="584" width="18.4" height="90.75" fill="#fbdcdd" stroke="#111" stroke-width="0.7"/>
<text x="718.5" y="576.46" font-family="Liberation Sans, sans-serif" font-weight="bold" font-size="13.67" text-anchor="middle" letter-spacing="0.1">***</text>
<path d="M762.5 629V627M758.08 627H766.92" stroke="#1c1c1c" stroke-width="0.95" fill="none"/>
<rect x="753.3" y="629" width="18.4" height="45.75" fill="#080604" stroke="#111" stroke-width="0.7"/>
<path d="M786.9 592.5V587M782.48 587H791.32" stroke="#1c1c1c" stroke-width="0.95" fill="none"/>
<rect x="777.7" y="592.5" width="18.4" height="82.25" fill="#e8131b" stroke="#111" stroke-width="0.7"/>
<text x="786.9" y="589.21" font-family="Liberation Sans, sans-serif" font-weight="bold" font-size="13.67" text-anchor="middle" letter-spacing="0.1">***</text>
<path d="M811.4 594.25V591.5M806.98 591.5H815.82" stroke="#1c1c1c" stroke-width="0.95" fill="none"/>
<rect x="802.2" y="594.25" width="18.4" height="80.5" fill="#ee7d7d" stroke="#111" stroke-width="0.7"/>
<text x="811.4" y="593.71" font-family="Liberation Sans, sans-serif" font-weight="bold" font-size="13.67" text-anchor="middle" letter-spacing="0.1">***</text>
<path d="M835.9 591.5V583.75M831.48 583.75H840.32" stroke="#1c1c1c" stroke-width="0.95" fill="none"/>
<rect x="826.7" y="591.5" width="18.4" height="83.25" fill="#fbdcdd" stroke="#111" stroke-width="0.7"/>
<text x="835.9" y="585.96" font-family="Liberation Sans, sans-serif" font-weight="bold" font-size="13.67" text-anchor="middle" letter-spacing="0.1">***</text>
<path d="M508 528H856.25V674.75H508Z M623.5 528V674.75 M739 528V674.75" stroke="#000" stroke-width="1.4" fill="none"/>
<path d="M501.77 528H508" stroke="#000" stroke-width="1.4"/>
<text x="500.16" y="531.92" font-family="Liberation Sans, sans-serif" font-weight="bold" font-size="11.05" text-anchor="end">3</text>
<path d="M501.77 576.75H508" stroke="#000" stroke-width="1.4"/>
<text x="500.16" y="580.67" font-family="Liberation Sans, sans-serif" font-weight="bold" font-size="11.05" text-anchor="end">2</text>
<path d="M501.77 625.75H508" stroke="#000" stroke-width="1.4"/>
<text x="500.16" y="629.67" font-family="Liberation Sans, sans-serif" font-weight="bold" font-size="11.05" text-anchor="end">1</text>
<path d="M501.77 674.75H508" stroke="#000" stroke-width="1.4"/>
<text x="500.16" y="678.67" font-family="Liberation Sans, sans-serif" font-weight="bold" font-size="11.05" text-anchor="end">0</text>
<path d="M527.5 674.75V681.68" stroke="#000" stroke-width="1.4"/>
<text transform="translate(528 695.15) rotate(-45)" font-family="Liberation Sans, sans-serif" font-weight="bold" font-size="12.26" text-anchor="end">ZH11</text>
<path d="M552 674.75V681.68" stroke="#000" stroke-width="1.4"/>
<text transform="translate(555.72 691.84) rotate(-45)" font-family="Liberation Sans, sans-serif" font-weight="bold" font-size="12.46" text-anchor="end">-1</text>
<path d="M576.4 674.75V681.68" stroke="#000" stroke-width="1.4"/>
<text transform="translate(580.12 691.84) rotate(-45)" font-family="Liberation Sans, sans-serif" font-weight="bold" font-size="12.46" text-anchor="end">-2</text>
<path d="M600.9 674.75V681.68" stroke="#000" stroke-width="1.4"/>
<text transform="translate(604.62 691.84) rotate(-45)" font-family="Liberation Sans, sans-serif" font-weight="bold" font-size="12.46" text-anchor="end">-3</text>
<path d="M645.4 674.75V681.68" stroke="#000" stroke-width="1.4"/>
<text transform="translate(645.9 695.15) rotate(-45)" font-family="Liberation Sans, sans-serif" font-weight="bold" font-size="12.26" text-anchor="end">ZH11</text>
<path d="M669.4 674.75V681.68" stroke="#000" stroke-width="1.4"/>
<text transform="translate(673.12 691.84) rotate(-45)" font-family="Liberation Sans, sans-serif" font-weight="bold" font-size="12.46" text-anchor="end">-1</text>
<path d="M694 674.75V681.68" stroke="#000" stroke-width="1.4"/>
<text transform="translate(697.72 691.84) rotate(-45)" font-family="Liberation Sans, sans-serif" font-weight="bold" font-size="12.46" text-anchor="end">-2</text>
<path d="M718.5 674.75V681.68" stroke="#000" stroke-width="1.4"/>
<text transform="translate(722.22 691.84) rotate(-45)" font-family="Liberation Sans, sans-serif" font-weight="bold" font-size="12.46" text-anchor="end">-3</text>
<path d="M762.5 674.75V681.68" stroke="#000" stroke-width="1.4"/>
<text transform="translate(763 695.15) rotate(-45)" font-family="Liberation Sans, sans-serif" font-weight="bold" font-size="12.26" text-anchor="end">ZH11</text>
<path d="M786.9 674.75V681.68" stroke="#000" stroke-width="1.4"/>
<text transform="translate(790.62 691.84) rotate(-45)" font-family="Liberation Sans, sans-serif" font-weight="bold" font-size="12.46" text-anchor="end">-1</text>
<path d="M811.4 674.75V681.68" stroke="#000" stroke-width="1.4"/>
<text transform="translate(815.12 691.84) rotate(-45)" font-family="Liberation Sans, sans-serif" font-weight="bold" font-size="12.46" text-anchor="end">-2</text>
<path d="M835.9 674.75V681.68" stroke="#000" stroke-width="1.4"/>
<text transform="translate(839.62 691.84) rotate(-45)" font-family="Liberation Sans, sans-serif" font-weight="bold" font-size="12.46" text-anchor="end">-3</text>
<path d="M536.25 701H607.5" stroke="#000" stroke-width="1.4"/>
<text x="570.75" y="714.5" font-family="Liberation Sans, sans-serif" font-weight="bold" font-style="italic" font-size="11.05" text-anchor="middle" textLength="90" lengthAdjust="spacingAndGlyphs">pOsGPX1::astol1</text>
<path d="M655 701H726.75" stroke="#000" stroke-width="1.4"/>
<text x="688.25" y="714.5" font-family="Liberation Sans, sans-serif" font-weight="bold" font-style="italic" font-size="11.05" text-anchor="middle" textLength="90.5" lengthAdjust="spacingAndGlyphs">pOsGPX1::astol1</text>
<path d="M771.75 701H843.5" stroke="#000" stroke-width="1.4"/>
<text x="808.25" y="714.5" font-family="Liberation Sans, sans-serif" font-weight="bold" font-style="italic" font-size="11.05" text-anchor="middle" textLength="90.5" lengthAdjust="spacingAndGlyphs">pOsGPX1::astol1</text>
<text x="563.75" y="515.75" font-family="Liberation Sans, sans-serif" font-weight="bold" font-size="11.8" text-anchor="middle" textLength="87.5" lengthAdjust="spacingAndGlyphs">Pot experiment</text>
<text x="684.25" y="515" font-family="Liberation Serif, serif" font-weight="bold" font-size="12.4" text-anchor="middle" textLength="36.5" lengthAdjust="spacingAndGlyphs">Field 1</text>
<text x="801.25" y="515.75" font-family="Liberation Serif, serif" font-weight="bold" font-size="12.4" text-anchor="middle" textLength="36.5" lengthAdjust="spacingAndGlyphs">Field 2</text>
<text transform="translate(465 602) rotate(-90)" font-family="Liberation Sans, sans-serif" font-weight="bold" font-size="13.4" text-anchor="middle" textLength="106" lengthAdjust="spacingAndGlyphs">S concentration</text>
<text transform="translate(485 602) rotate(-90)" font-family="Liberation Sans, sans-serif" font-weight="bold" font-size="13.4" text-anchor="middle" textLength="74.5" lengthAdjust="spacingAndGlyphs">(g kg<tspan dy="-5.5" font-size="9.5">-1</tspan><tspan dy="5.5"> DW)</tspan></text>
<g font-family="Liberation Serif, serif" font-size="24.5"><text x="435" y="504.5" transform="translate(435 0) scale(0.9 1) translate(-435 0)">(</text><text x="444.3" y="505.5" font-weight="bold" font-size="25">f</text><text x="451.5" y="504.5" transform="translate(451.5 0) scale(0.9 1) translate(-451.5 0)">)</text></g>
</g>
</svg>
</body></html>
